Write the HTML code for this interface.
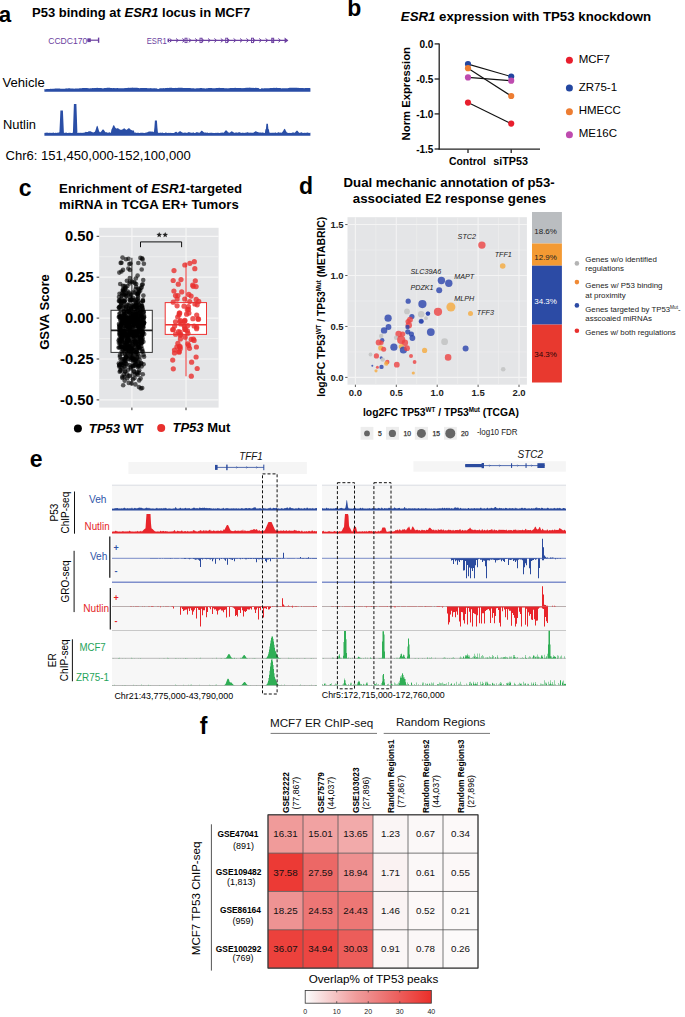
<!DOCTYPE html>
<html><head><meta charset="utf-8"><style>
html,body{margin:0;padding:0;background:#fff;}
svg{display:block;}
text{font-family:"Liberation Sans", sans-serif;}
</style></head><body>
<svg width="685" height="1017" viewBox="0 0 685 1017" font-family='"Liberation Sans", sans-serif'>
<rect width="685" height="1017" fill="#fff"/>
<text x="-1.20" y="21.50" font-size="22.3" font-weight="bold" >a</text>
<text x="32" y="17.45" font-size="13" font-weight="bold">P53 binding at <tspan font-style="italic">ESR1</tspan> locus in MCF7</text>
<text x="48.20" y="44.20" font-size="8.6" fill="#6b3fa0" textLength="39.20" lengthAdjust="spacingAndGlyphs" >CCDC170</text>
<rect x="87.40" y="38.30" width="3.40" height="3.80" fill="#6b3fa0" />
<line x1="87.40" y1="40.20" x2="98.90" y2="40.20" stroke="#6b3fa0" stroke-width="1.2" />
<line x1="98.60" y1="37.60" x2="98.60" y2="42.80" stroke="#6b3fa0" stroke-width="1.4" />
<text x="146.70" y="44.20" font-size="8.2" fill="#6b3fa0" textLength="20.00" lengthAdjust="spacingAndGlyphs" >ESR1</text>
<line x1="167.80" y1="40.40" x2="287.50" y2="40.40" stroke="#6b3fa0" stroke-width="1.1" />
<path d="M169.6,38.5 L171.9,40.4 L169.6,42.3" stroke="#6b3fa0" stroke-width="1" fill="none"/>
<path d="M176.0,38.5 L178.3,40.4 L176.0,42.3" stroke="#6b3fa0" stroke-width="1" fill="none"/>
<path d="M182.4,38.5 L184.7,40.4 L182.4,42.3" stroke="#6b3fa0" stroke-width="1" fill="none"/>
<path d="M188.8,38.5 L191.1,40.4 L188.8,42.3" stroke="#6b3fa0" stroke-width="1" fill="none"/>
<path d="M195.2,38.5 L197.5,40.4 L195.2,42.3" stroke="#6b3fa0" stroke-width="1" fill="none"/>
<path d="M201.6,38.5 L203.9,40.4 L201.6,42.3" stroke="#6b3fa0" stroke-width="1" fill="none"/>
<path d="M208.0,38.5 L210.3,40.4 L208.0,42.3" stroke="#6b3fa0" stroke-width="1" fill="none"/>
<path d="M214.4,38.5 L216.7,40.4 L214.4,42.3" stroke="#6b3fa0" stroke-width="1" fill="none"/>
<path d="M220.8,38.5 L223.1,40.4 L220.8,42.3" stroke="#6b3fa0" stroke-width="1" fill="none"/>
<path d="M227.2,38.5 L229.5,40.4 L227.2,42.3" stroke="#6b3fa0" stroke-width="1" fill="none"/>
<path d="M233.6,38.5 L235.9,40.4 L233.6,42.3" stroke="#6b3fa0" stroke-width="1" fill="none"/>
<path d="M240.0,38.5 L242.3,40.4 L240.0,42.3" stroke="#6b3fa0" stroke-width="1" fill="none"/>
<path d="M246.4,38.5 L248.7,40.4 L246.4,42.3" stroke="#6b3fa0" stroke-width="1" fill="none"/>
<path d="M252.8,38.5 L255.1,40.4 L252.8,42.3" stroke="#6b3fa0" stroke-width="1" fill="none"/>
<path d="M259.2,38.5 L261.5,40.4 L259.2,42.3" stroke="#6b3fa0" stroke-width="1" fill="none"/>
<path d="M265.6,38.5 L267.9,40.4 L265.6,42.3" stroke="#6b3fa0" stroke-width="1" fill="none"/>
<path d="M272.0,38.5 L274.3,40.4 L272.0,42.3" stroke="#6b3fa0" stroke-width="1" fill="none"/>
<path d="M278.4,38.5 L280.7,40.4 L278.4,42.3" stroke="#6b3fa0" stroke-width="1" fill="none"/>
<rect x="185.0" y="38.2" width="2.0" height="4.4" fill="none" stroke="#6b3fa0" stroke-width="0.9"/>
<rect x="200.0" y="38.2" width="2.0" height="4.4" fill="none" stroke="#6b3fa0" stroke-width="0.9"/>
<rect x="225.7" y="38.2" width="2.0" height="4.4" fill="none" stroke="#6b3fa0" stroke-width="0.9"/>
<rect x="251.5" y="38.2" width="2.0" height="4.4" fill="none" stroke="#6b3fa0" stroke-width="0.9"/>
<rect x="271.7" y="38.2" width="2.0" height="4.4" fill="none" stroke="#6b3fa0" stroke-width="0.9"/>
<path d="M284.6,37.6 L288.4,40.4 L284.6,43.2 Z" fill="#6b3fa0"/>
<rect x="167.60" y="38.60" width="1.40" height="3.60" fill="#6b3fa0" />
<text x="2.50" y="86.60" font-size="13" textLength="42.20" lengthAdjust="spacingAndGlyphs" >Vehicle</text>
<text x="3.00" y="129.20" font-size="13" textLength="33.00" lengthAdjust="spacingAndGlyphs" >Nutlin</text>
<text x="5.50" y="160.30" font-size="13" textLength="185.20" lengthAdjust="spacingAndGlyphs" >Chr6: 151,450,000-152,100,000</text>
<path d="M44.40,91.70 L44.40,89.06 L44.90,89.16 L45.40,89.16 L45.90,89.20 L46.40,89.01 L46.90,88.98 L47.40,89.10 L47.90,88.97 L48.40,89.02 L48.90,89.03 L49.40,89.02 L49.90,88.97 L50.40,88.86 L50.90,88.78 L51.40,88.74 L51.90,88.90 L52.40,88.82 L52.90,88.76 L53.40,88.76 L53.90,88.72 L54.40,88.63 L54.90,88.49 L55.40,88.52 L55.90,88.51 L56.40,88.49 L56.90,88.52 L57.40,88.52 L57.90,88.55 L58.40,88.54 L58.90,88.49 L59.40,88.43 L59.90,88.61 L60.40,88.65 L60.90,88.67 L61.40,88.74 L61.90,88.77 L62.40,88.67 L62.90,88.67 L63.40,88.76 L63.90,88.78 L64.40,88.78 L64.90,88.73 L65.40,88.52 L65.90,88.55 L66.40,88.43 L66.90,88.34 L67.40,88.39 L67.90,88.39 L68.40,88.32 L68.90,88.26 L69.40,88.30 L69.90,88.27 L70.40,88.47 L70.90,88.46 L71.40,88.43 L71.90,88.57 L72.40,88.55 L72.90,88.54 L73.40,88.52 L73.90,88.65 L74.40,88.68 L74.90,88.58 L75.40,88.52 L75.90,88.49 L76.40,88.55 L76.90,88.54 L77.40,88.48 L77.90,88.38 L78.40,88.38 L78.90,88.39 L79.40,88.33 L79.90,88.19 L80.40,88.22 L80.90,88.29 L81.40,88.26 L81.90,88.13 L82.40,88.09 L82.90,88.01 L83.40,88.02 L83.90,87.92 L84.40,87.98 L84.90,87.96 L85.40,88.08 L85.90,88.01 L86.40,88.07 L86.90,88.00 L87.40,88.11 L87.90,88.14 L88.40,88.15 L88.90,88.28 L89.40,88.40 L89.90,88.36 L90.40,88.25 L90.90,88.17 L91.40,88.23 L91.90,88.17 L92.40,88.12 L92.90,88.11 L93.40,88.08 L93.90,88.16 L94.40,88.08 L94.90,87.99 L95.40,87.96 L95.90,88.02 L96.40,87.92 L96.90,87.85 L97.40,87.75 L97.90,87.88 L98.40,87.88 L98.90,87.96 L99.40,87.89 L99.90,88.02 L100.40,87.95 L100.90,87.92 L101.40,88.00 L101.90,88.20 L102.40,88.32 L102.90,88.40 L103.40,88.26 L103.90,88.13 L104.40,88.10 L104.90,88.09 L105.40,87.96 L105.90,87.93 L106.40,87.94 L106.90,87.80 L107.40,87.80 L107.90,87.77 L108.40,87.82 L108.90,87.77 L109.40,87.84 L109.90,87.85 L110.40,87.92 L110.90,87.90 L111.40,88.03 L111.90,88.12 L112.40,88.17 L112.90,87.98 L113.40,87.98 L113.90,87.97 L114.40,88.12 L114.90,88.22 L115.40,88.18 L115.90,88.11 L116.40,88.13 L116.90,88.08 L117.40,88.02 L117.90,88.04 L118.40,88.26 L118.90,88.27 L119.40,88.23 L119.90,88.21 L120.40,88.16 L120.90,88.24 L121.40,88.30 L121.90,88.26 L122.40,88.30 L122.90,88.31 L123.40,88.27 L123.90,88.15 L124.40,88.04 L124.90,88.16 L125.40,88.07 L125.90,88.07 L126.40,88.02 L126.90,87.95 L127.40,87.94 L127.90,87.86 L128.40,87.84 L128.90,87.80 L129.40,87.85 L129.90,87.95 L130.40,87.79 L130.90,87.87 L131.40,87.73 L131.90,87.68 L132.40,87.61 L132.90,87.67 L133.40,87.74 L133.90,87.74 L134.40,87.79 L134.90,87.81 L135.40,87.78 L135.90,87.82 L136.40,87.71 L136.90,87.86 L137.40,87.86 L137.90,88.01 L138.40,88.06 L138.90,88.08 L139.40,88.15 L139.90,88.19 L140.40,88.10 L140.90,88.11 L141.40,88.07 L141.90,88.07 L142.40,88.02 L142.90,88.07 L143.40,88.05 L143.90,88.08 L144.40,88.00 L144.90,88.04 L145.40,88.01 L145.90,88.06 L146.40,88.01 L146.90,88.05 L147.40,88.18 L147.90,88.18 L148.40,88.22 L148.90,88.22 L149.40,88.13 L149.90,88.17 L150.40,88.09 L150.90,88.17 L151.40,88.18 L151.90,88.36 L152.40,88.36 L152.90,88.38 L153.40,88.34 L153.90,88.24 L154.40,88.34 L154.90,88.33 L155.40,88.33 L155.90,88.39 L156.40,88.37 L156.90,88.56 L157.40,88.86 L157.90,89.10 L158.40,88.93 L158.90,88.66 L159.40,88.55 L159.90,88.32 L160.40,88.27 L160.90,88.32 L161.40,88.30 L161.90,88.33 L162.40,88.34 L162.90,88.15 L163.40,88.12 L163.90,88.17 L164.40,88.22 L164.90,88.15 L165.40,88.06 L165.90,88.11 L166.40,88.04 L166.90,87.98 L167.40,87.98 L167.90,87.82 L168.40,87.95 L168.90,87.92 L169.40,87.85 L169.90,87.78 L170.40,87.84 L170.90,87.87 L171.40,87.86 L171.90,87.87 L172.40,87.95 L172.90,87.98 L173.40,88.08 L173.90,88.00 L174.40,87.99 L174.90,87.94 L175.40,87.93 L175.90,87.87 L176.40,87.92 L176.90,87.88 L177.40,87.89 L177.90,87.80 L178.40,87.69 L178.90,87.70 L179.40,87.78 L179.90,87.78 L180.40,87.74 L180.90,87.79 L181.40,87.80 L181.90,87.85 L182.40,87.82 L182.90,87.91 L183.40,87.93 L183.90,87.94 L184.40,87.99 L184.90,87.89 L185.40,87.90 L185.90,88.04 L186.40,88.01 L186.90,88.09 L187.40,88.12 L187.90,88.08 L188.40,88.03 L188.90,87.95 L189.40,88.02 L189.90,87.92 L190.40,88.00 L190.90,88.15 L191.40,88.15 L191.90,88.15 L192.40,88.13 L192.90,88.18 L193.40,88.26 L193.90,88.24 L194.40,88.44 L194.90,88.47 L195.40,88.48 L195.90,88.50 L196.40,88.33 L196.90,88.22 L197.40,88.22 L197.90,88.22 L198.40,88.22 L198.90,88.24 L199.40,88.16 L199.90,88.05 L200.40,87.98 L200.90,88.06 L201.40,88.01 L201.90,88.09 L202.40,88.19 L202.90,88.26 L203.40,88.29 L203.90,88.24 L204.40,88.30 L204.90,88.40 L205.40,88.38 L205.90,88.42 L206.40,88.23 L206.90,88.20 L207.40,88.21 L207.90,88.15 L208.40,88.06 L208.90,88.01 L209.40,87.92 L209.90,87.90 L210.40,88.02 L210.90,88.01 L211.40,88.04 L211.90,88.12 L212.40,88.20 L212.90,88.23 L213.40,88.19 L213.90,88.27 L214.40,88.22 L214.90,88.20 L215.40,88.15 L215.90,87.99 L216.40,88.03 L216.90,87.95 L217.40,88.07 L217.90,88.01 L218.40,87.91 L218.90,87.87 L219.40,87.83 L219.90,87.89 L220.40,87.93 L220.90,87.95 L221.40,87.93 L221.90,87.93 L222.40,87.92 L222.90,87.91 L223.40,87.95 L223.90,88.12 L224.40,88.29 L224.90,88.19 L225.40,88.18 L225.90,88.26 L226.40,88.30 L226.90,88.28 L227.40,88.28 L227.90,88.41 L228.40,88.34 L228.90,88.32 L229.40,88.14 L229.90,88.12 L230.40,88.11 L230.90,88.05 L231.40,88.02 L231.90,87.98 L232.40,88.03 L232.90,87.99 L233.40,87.94 L233.90,87.92 L234.40,87.90 L234.90,87.87 L235.40,87.79 L235.90,87.89 L236.40,88.02 L236.90,87.99 L237.40,87.92 L237.90,87.90 L238.40,87.92 L238.90,87.93 L239.40,88.01 L239.90,88.09 L240.40,88.09 L240.90,88.12 L241.40,88.15 L241.90,88.12 L242.40,88.14 L242.90,88.10 L243.40,88.09 L243.90,88.16 L244.40,88.05 L244.90,87.96 L245.40,87.85 L245.90,87.88 L246.40,87.83 L246.90,87.77 L247.40,87.66 L247.90,87.69 L248.40,87.69 L248.90,87.70 L249.40,87.55 L249.90,87.74 L250.40,87.78 L250.90,87.78 L251.40,87.84 L251.90,87.88 L252.40,87.87 L252.90,87.88 L253.40,87.87 L253.90,87.96 L254.40,87.91 L254.90,87.95 L255.40,87.84 L255.90,87.87 L256.40,87.91 L256.90,87.84 L257.40,87.92 L257.90,88.04 L258.40,88.12 L258.90,88.33 L259.40,88.67 L259.90,88.96 L260.40,88.89 L260.90,88.63 L261.40,88.34 L261.90,88.36 L262.40,88.37 L262.90,88.40 L263.40,88.39 L263.90,88.36 L264.40,88.33 L264.90,88.34 L265.40,88.37 L265.90,88.37 L266.40,88.31 L266.90,88.36 L267.40,88.20 L267.90,88.27 L268.40,88.21 L268.90,88.17 L269.40,88.14 L269.90,88.06 L270.40,87.95 L270.90,87.93 L271.40,87.96 L271.90,87.91 L272.40,87.93 L272.90,87.95 L273.40,87.87 L273.90,87.88 L274.40,87.86 L274.90,87.93 L275.40,87.88 L275.90,87.81 L276.40,87.82 L276.90,87.81 L277.40,87.98 L277.90,87.95 L278.40,87.99 L278.90,88.09 L279.40,88.01 L279.90,88.09 L280.40,88.10 L280.90,88.18 L281.40,88.39 L281.90,88.34 L282.40,88.28 L282.90,88.23 L283.40,88.32 L283.90,88.29 L284.40,88.23 L284.90,88.34 L285.40,88.27 L285.90,88.27 L286.40,88.28 L286.90,88.17 L287.40,88.19 L287.90,88.15 L288.40,88.00 L288.90,87.89 L289.40,87.86 L289.90,87.79 L290.40,87.69 L290.90,87.74 L291.40,87.68 L291.90,87.67 L292.40,87.63 L292.90,87.64 L293.40,87.71 L293.90,87.77 L294.40,87.71 L294.90,87.76 L295.40,87.85 L295.90,87.87 L296.40,87.83 L296.90,87.87 L297.40,87.87 L297.90,87.95 L298.40,87.85 L298.90,87.90 L299.40,87.91 L299.90,88.01 L300.40,87.99 L300.90,88.04 L301.40,88.09 L301.90,88.07 L302.40,88.05 L302.90,88.05 L303.40,88.09 L303.90,88.25 L304.40,88.20 L304.90,88.12 L305.40,88.09 L305.90,88.12 L306.40,88.03 L306.90,88.04 L307.40,88.06 L307.90,88.10 L308.40,88.10 L308.90,88.07 L309.40,88.02 L309.90,88.05 L310.40,88.13 L310.40,91.70Z" fill="#2a4ea6"/>
<path d="M44.40,135.80 L44.40,132.85 L44.90,132.97 L45.40,132.70 L45.90,132.79 L46.40,132.72 L46.90,132.48 L47.40,132.54 L47.90,132.95 L48.40,132.75 L48.90,132.89 L49.40,132.73 L49.90,132.84 L50.40,132.66 L50.90,132.94 L51.40,132.73 L51.90,132.93 L52.40,132.86 L52.90,132.85 L53.40,132.59 L53.90,132.66 L54.40,132.89 L54.90,132.95 L55.40,132.79 L55.90,132.67 L56.40,132.89 L56.90,132.71 L57.40,132.55 L57.90,132.91 L58.40,132.53 L58.90,132.38 L59.40,132.27 L59.90,121.94 L60.40,110.60 L60.90,110.60 L61.40,110.60 L61.90,110.60 L62.40,110.60 L62.90,110.60 L63.40,121.94 L63.90,132.80 L64.40,132.75 L64.90,132.94 L65.40,132.81 L65.90,132.46 L66.40,132.48 L66.90,132.91 L67.40,132.91 L67.90,132.94 L68.40,132.69 L68.90,132.98 L69.40,132.79 L69.90,132.85 L70.40,132.71 L70.90,132.95 L71.40,132.95 L71.90,132.96 L72.40,132.71 L72.90,132.80 L73.40,118.26 L73.90,103.90 L74.40,103.90 L74.90,103.90 L75.40,103.90 L75.90,103.90 L76.40,103.90 L76.90,118.26 L77.40,132.91 L77.90,132.97 L78.40,132.87 L78.90,132.80 L79.40,132.71 L79.90,132.99 L80.40,132.83 L80.90,132.81 L81.40,132.85 L81.90,132.98 L82.40,132.94 L82.90,132.61 L83.40,132.83 L83.90,132.65 L84.40,132.62 L84.90,132.61 L85.40,131.88 L85.90,131.79 L86.40,132.07 L86.90,131.97 L87.40,131.88 L87.90,132.08 L88.40,131.30 L88.90,131.38 L89.40,131.15 L89.90,131.14 L90.40,131.17 L90.90,131.47 L91.40,131.79 L91.90,131.96 L92.40,132.18 L92.90,132.13 L93.40,132.48 L93.90,132.27 L94.40,131.98 L94.90,131.66 L95.40,130.60 L95.90,129.06 L96.40,127.30 L96.90,126.12 L97.40,125.84 L97.90,127.04 L98.40,128.82 L98.90,130.52 L99.40,131.77 L99.90,132.20 L100.40,132.32 L100.90,131.76 L101.40,131.22 L101.90,130.39 L102.40,129.83 L102.90,129.52 L103.40,129.44 L103.90,130.09 L104.40,130.86 L104.90,131.47 L105.40,132.20 L105.90,132.27 L106.40,132.27 L106.90,132.35 L107.40,132.44 L107.90,132.95 L108.40,132.82 L108.90,132.29 L109.40,132.20 L109.90,132.39 L110.40,132.84 L110.90,132.67 L111.40,129.85 L111.90,128.80 L112.40,127.66 L112.90,126.24 L113.40,125.26 L113.90,125.18 L114.40,125.87 L114.90,126.96 L115.40,127.77 L115.90,128.19 L116.40,128.40 L116.90,128.40 L117.40,128.06 L117.90,128.43 L118.40,128.49 L118.90,128.86 L119.40,129.27 L119.90,129.45 L120.40,129.80 L120.90,129.86 L121.40,129.86 L121.90,129.77 L122.40,129.41 L122.90,129.10 L123.40,128.67 L123.90,128.48 L124.40,128.34 L124.90,128.78 L125.40,129.32 L125.90,129.62 L126.40,129.95 L126.90,129.62 L127.40,129.26 L127.90,128.83 L128.40,128.44 L128.90,127.98 L129.40,128.38 L129.90,128.85 L130.40,129.41 L130.90,129.76 L131.40,129.88 L131.90,130.14 L132.40,130.40 L132.90,130.47 L133.40,130.46 L133.90,130.40 L134.40,132.85 L134.90,132.60 L135.40,132.48 L135.90,132.82 L136.40,132.93 L136.90,132.82 L137.40,132.90 L137.90,132.62 L138.40,132.83 L138.90,132.90 L139.40,132.88 L139.90,132.90 L140.40,132.83 L140.90,132.81 L141.40,132.66 L141.90,132.63 L142.40,132.73 L142.90,132.66 L143.40,132.95 L143.90,132.87 L144.40,132.93 L144.90,132.91 L145.40,132.73 L145.90,132.62 L146.40,132.51 L146.90,132.47 L147.40,132.21 L147.90,132.07 L148.40,131.85 L148.90,131.58 L149.40,131.38 L149.90,131.43 L150.40,131.49 L150.90,131.52 L151.40,131.60 L151.90,131.71 L152.40,131.45 L152.90,131.77 L153.40,131.87 L153.90,132.28 L154.40,127.44 L154.90,120.60 L155.40,120.60 L155.90,120.60 L156.40,120.60 L156.90,120.60 L157.40,127.44 L157.90,132.54 L158.40,132.81 L158.90,132.93 L159.40,132.97 L159.90,132.47 L160.40,132.55 L160.90,132.91 L161.40,132.82 L161.90,132.75 L162.40,132.44 L162.90,132.83 L163.40,132.90 L163.90,132.93 L164.40,132.99 L164.90,132.99 L165.40,132.40 L165.90,132.45 L166.40,132.73 L166.90,132.87 L167.40,132.99 L167.90,132.93 L168.40,132.78 L168.90,132.88 L169.40,133.00 L169.90,132.66 L170.40,132.90 L170.90,132.83 L171.40,132.95 L171.90,132.91 L172.40,132.92 L172.90,132.92 L173.40,132.90 L173.90,133.00 L174.40,132.67 L174.90,132.27 L175.40,132.12 L175.90,131.83 L176.40,131.87 L176.90,132.27 L177.40,132.73 L177.90,132.65 L178.40,132.34 L178.90,131.77 L179.40,131.57 L179.90,131.24 L180.40,131.17 L180.90,131.51 L181.40,131.91 L181.90,132.26 L182.40,132.45 L182.90,132.80 L183.40,132.99 L183.90,132.59 L184.40,132.78 L184.90,132.48 L185.40,132.64 L185.90,132.58 L186.40,132.92 L186.90,132.86 L187.40,132.67 L187.90,132.42 L188.40,132.15 L188.90,131.97 L189.40,132.25 L189.90,132.54 L190.40,132.56 L190.90,132.67 L191.40,132.82 L191.90,132.70 L192.40,132.69 L192.90,132.42 L193.40,132.27 L193.90,132.67 L194.40,132.89 L194.90,132.88 L195.40,132.67 L195.90,132.75 L196.40,132.20 L196.90,132.08 L197.40,132.34 L197.90,132.45 L198.40,132.45 L198.90,132.82 L199.40,132.81 L199.90,132.38 L200.40,131.89 L200.90,131.14 L201.40,130.80 L201.90,130.68 L202.40,131.07 L202.90,131.56 L203.40,131.88 L203.90,132.27 L204.40,132.45 L204.90,132.80 L205.40,132.49 L205.90,132.62 L206.40,132.79 L206.90,132.83 L207.40,132.61 L207.90,132.85 L208.40,132.90 L208.90,132.90 L209.40,132.85 L209.90,132.93 L210.40,132.71 L210.90,132.77 L211.40,132.73 L211.90,132.67 L212.40,132.98 L212.90,132.70 L213.40,132.94 L213.90,132.99 L214.40,132.98 L214.90,132.95 L215.40,132.81 L215.90,132.95 L216.40,132.83 L216.90,132.95 L217.40,132.74 L217.90,132.87 L218.40,132.75 L218.90,132.95 L219.40,132.92 L219.90,132.89 L220.40,132.83 L220.90,132.75 L221.40,132.79 L221.90,132.49 L222.40,132.47 L222.90,132.71 L223.40,132.79 L223.90,132.53 L224.40,132.04 L224.90,131.20 L225.40,130.56 L225.90,130.42 L226.40,130.27 L226.90,130.88 L227.40,131.37 L227.90,132.18 L228.40,132.30 L228.90,132.86 L229.40,132.71 L229.90,132.42 L230.40,132.19 L230.90,131.72 L231.40,131.35 L231.90,131.38 L232.40,131.55 L232.90,131.95 L233.40,132.34 L233.90,132.42 L234.40,132.78 L234.90,132.95 L235.40,132.50 L235.90,132.40 L236.40,132.54 L236.90,132.51 L237.40,132.49 L237.90,132.94 L238.40,132.31 L238.90,132.21 L239.40,132.13 L239.90,132.31 L240.40,132.58 L240.90,132.91 L241.40,132.83 L241.90,132.92 L242.40,132.67 L242.90,132.56 L243.40,132.70 L243.90,132.90 L244.40,132.84 L244.90,132.99 L245.40,132.71 L245.90,132.42 L246.40,132.70 L246.90,132.30 L247.40,132.30 L247.90,132.30 L248.40,132.69 L248.90,132.38 L249.40,132.76 L249.90,132.76 L250.40,132.82 L250.90,132.60 L251.40,132.80 L251.90,132.84 L252.40,132.71 L252.90,132.66 L253.40,132.67 L253.90,132.33 L254.40,132.05 L254.90,131.76 L255.40,131.18 L255.90,131.36 L256.40,131.40 L256.90,131.66 L257.40,132.02 L257.90,132.04 L258.40,132.26 L258.90,132.41 L259.40,132.44 L259.90,132.49 L260.40,132.44 L260.90,132.58 L261.40,132.68 L261.90,132.56 L262.40,132.39 L262.90,132.60 L263.40,132.69 L263.90,132.67 L264.40,132.95 L264.90,132.91 L265.40,129.20 L265.90,129.20 L266.40,123.80 L266.90,123.80 L267.40,123.80 L267.90,123.80 L268.40,129.20 L268.90,129.20 L269.40,132.84 L269.90,132.61 L270.40,132.74 L270.90,132.91 L271.40,132.86 L271.90,132.82 L272.40,132.76 L272.90,132.67 L273.40,132.77 L273.90,132.83 L274.40,132.78 L274.90,132.73 L275.40,132.26 L275.90,132.73 L276.40,132.95 L276.90,132.72 L277.40,132.70 L277.90,132.42 L278.40,132.21 L278.90,132.30 L279.40,132.66 L279.90,132.62 L280.40,132.62 L280.90,132.75 L281.40,132.77 L281.90,132.47 L282.40,131.91 L282.90,131.34 L283.40,130.43 L283.90,129.39 L284.40,128.70 L284.90,128.96 L285.40,129.78 L285.90,131.02 L286.40,131.74 L286.90,132.47 L287.40,132.75 L287.90,132.81 L288.40,132.93 L288.90,132.91 L289.40,133.00 L289.90,132.86 L290.40,132.90 L290.90,132.94 L291.40,132.88 L291.90,132.66 L292.40,132.54 L292.90,132.41 L293.40,132.48 L293.90,132.62 L294.40,132.82 L294.90,132.69 L295.40,132.02 L295.90,131.45 L296.40,130.90 L296.90,130.46 L297.40,130.64 L297.90,131.35 L298.40,131.99 L298.90,132.51 L299.40,132.77 L299.90,132.89 L300.40,132.68 L300.90,132.32 L301.40,132.27 L301.90,132.44 L302.40,132.81 L302.90,132.91 L303.40,132.94 L303.90,132.87 L304.40,132.99 L304.90,132.59 L305.40,132.91 L305.90,132.81 L306.40,132.72 L306.90,132.74 L307.40,132.38 L307.90,132.50 L308.40,132.68 L308.90,132.93 L309.40,132.91 L309.90,132.76 L310.40,132.71 L310.40,135.80Z" fill="#2a4ea6"/>
<text x="347.30" y="15.80" font-size="23" font-weight="bold" >b</text>
<text x="400.8" y="21.0" font-size="13.26" font-weight="bold"><tspan font-style="italic">ESR1</tspan> expression with TP53 knockdown</text>
<line x1="439.20" y1="43.50" x2="439.20" y2="149.40" stroke="#222" stroke-width="1.3" />
<line x1="438.60" y1="149.10" x2="540.00" y2="149.10" stroke="#222" stroke-width="1.3" />
<line x1="434.60" y1="43.90" x2="439.20" y2="43.90" stroke="#222" stroke-width="1.3" />
<text x="433.40" y="47.50" font-size="10" font-weight="bold" text-anchor="end" >0.0</text>
<line x1="434.60" y1="79.00" x2="439.20" y2="79.00" stroke="#222" stroke-width="1.3" />
<text x="433.40" y="82.60" font-size="10" font-weight="bold" text-anchor="end" >-0.5</text>
<line x1="434.60" y1="113.90" x2="439.20" y2="113.90" stroke="#222" stroke-width="1.3" />
<text x="433.40" y="117.50" font-size="10" font-weight="bold" text-anchor="end" >-1.0</text>
<line x1="434.60" y1="149.00" x2="439.20" y2="149.00" stroke="#222" stroke-width="1.3" />
<text x="433.40" y="152.60" font-size="10" font-weight="bold" text-anchor="end" >-1.5</text>
<line x1="468.00" y1="149.20" x2="468.00" y2="153.00" stroke="#222" stroke-width="1.3" />
<line x1="511.20" y1="149.20" x2="511.20" y2="153.00" stroke="#222" stroke-width="1.3" />
<text x="410.30" y="93.70" font-size="11.3" font-weight="bold" text-anchor="middle" textLength="93.40" lengthAdjust="spacingAndGlyphs" transform="rotate(-90 410.30 93.70)" >Norm Expression</text>
<text x="448.90" y="164.90" font-size="10.5" font-weight="bold" textLength="37.10" lengthAdjust="spacingAndGlyphs" >Control</text>
<text x="493.20" y="164.90" font-size="10.5" font-weight="bold" textLength="34.80" lengthAdjust="spacingAndGlyphs" >siTP53</text>
<line x1="468.00" y1="64.10" x2="511.20" y2="76.60" stroke="#111" stroke-width="1.1" />
<line x1="468.00" y1="68.20" x2="511.20" y2="96.00" stroke="#111" stroke-width="1.1" />
<line x1="468.00" y1="77.40" x2="511.20" y2="80.70" stroke="#111" stroke-width="1.1" />
<line x1="468.00" y1="102.60" x2="511.20" y2="123.60" stroke="#111" stroke-width="1.1" />
<circle cx="468.00" cy="64.10" r="3.10" fill="#2346a0" />
<circle cx="511.20" cy="76.60" r="3.10" fill="#2346a0" />
<circle cx="468.00" cy="68.20" r="3.10" fill="#ed7d32" />
<circle cx="511.20" cy="96.00" r="3.10" fill="#ed7d32" />
<circle cx="468.00" cy="77.40" r="3.10" fill="#be4baf" />
<circle cx="511.20" cy="80.70" r="3.10" fill="#be4baf" />
<circle cx="468.00" cy="102.60" r="3.10" fill="#e81e2d" />
<circle cx="511.20" cy="123.60" r="3.10" fill="#e81e2d" />
<circle cx="569.40" cy="60.20" r="3.50" fill="#e81e2d" />
<text x="578.70" y="62.60" font-size="11.5" >MCF7</text>
<circle cx="569.40" cy="88.00" r="3.50" fill="#2346a0" />
<text x="578.70" y="90.70" font-size="11.5" >ZR75-1</text>
<circle cx="569.40" cy="111.70" r="3.50" fill="#ed7d32" />
<text x="578.70" y="114.00" font-size="11.5" >HMECC</text>
<circle cx="569.40" cy="134.80" r="3.50" fill="#be4baf" />
<text x="578.70" y="137.30" font-size="11.5" >ME16C</text>
<text x="18.80" y="196.30" font-size="23" font-weight="bold" >c</text>
<text x="59.1" y="193.3" font-size="13.18" font-weight="bold">Enrichment of <tspan font-style="italic">ESR1</tspan>-targeted</text>
<text x="59.1" y="208.8" font-size="13.16" font-weight="bold">miRNA in TCGA ER+ Tumors</text>
<rect x="99.20" y="227.80" width="119.40" height="179.80" fill="#e4e5e7" />
<line x1="99.20" y1="256.75" x2="218.60" y2="256.75" stroke="#f1f1f2" stroke-width="0.8" />
<line x1="99.20" y1="297.65" x2="218.60" y2="297.65" stroke="#f1f1f2" stroke-width="0.8" />
<line x1="99.20" y1="338.55" x2="218.60" y2="338.55" stroke="#f1f1f2" stroke-width="0.8" />
<line x1="99.20" y1="379.45" x2="218.60" y2="379.45" stroke="#f1f1f2" stroke-width="0.8" />
<line x1="99.20" y1="236.30" x2="218.60" y2="236.30" stroke="#f6f6f6" stroke-width="1.2" />
<line x1="99.20" y1="277.20" x2="218.60" y2="277.20" stroke="#f6f6f6" stroke-width="1.2" />
<line x1="99.20" y1="318.10" x2="218.60" y2="318.10" stroke="#f6f6f6" stroke-width="1.2" />
<line x1="99.20" y1="359.00" x2="218.60" y2="359.00" stroke="#f6f6f6" stroke-width="1.2" />
<line x1="99.20" y1="399.90" x2="218.60" y2="399.90" stroke="#f6f6f6" stroke-width="1.2" />
<line x1="131.90" y1="227.80" x2="131.90" y2="407.60" stroke="#f6f6f6" stroke-width="1.2" />
<line x1="186.00" y1="227.80" x2="186.00" y2="407.60" stroke="#f6f6f6" stroke-width="1.2" />
<line x1="96.60" y1="236.30" x2="99.20" y2="236.30" stroke="#333" stroke-width="1" />
<text x="93.60" y="241.40" font-size="14.7" font-weight="bold" text-anchor="end" >0.50</text>
<line x1="96.60" y1="277.20" x2="99.20" y2="277.20" stroke="#333" stroke-width="1" />
<text x="93.60" y="282.30" font-size="14.7" font-weight="bold" text-anchor="end" >0.25</text>
<line x1="96.60" y1="318.10" x2="99.20" y2="318.10" stroke="#333" stroke-width="1" />
<text x="93.60" y="323.20" font-size="14.7" font-weight="bold" text-anchor="end" >0.00</text>
<line x1="96.60" y1="359.00" x2="99.20" y2="359.00" stroke="#333" stroke-width="1" />
<text x="93.60" y="364.10" font-size="14.7" font-weight="bold" text-anchor="end" >-0.25</text>
<line x1="96.60" y1="399.90" x2="99.20" y2="399.90" stroke="#333" stroke-width="1" />
<text x="93.60" y="405.00" font-size="14.7" font-weight="bold" text-anchor="end" >-0.50</text>
<line x1="131.90" y1="407.60" x2="131.90" y2="410.20" stroke="#333" stroke-width="1" />
<line x1="186.00" y1="407.60" x2="186.00" y2="410.20" stroke="#333" stroke-width="1" />
<text x="49.20" y="312.00" font-size="13" font-weight="bold" text-anchor="middle" textLength="75.70" lengthAdjust="spacingAndGlyphs" transform="rotate(-90 49.20 312.00)" >GSVA Score</text>
<line x1="131.90" y1="257.80" x2="131.90" y2="385.50" stroke="#222" stroke-width="1" />
<rect x="111" y="310.3" width="41.3" height="42.1" fill="#fff" stroke="#333" stroke-width="1"/>
<line x1="111.00" y1="330.40" x2="152.30" y2="330.40" stroke="#222" stroke-width="1.6" />
<g fill="#000" fill-opacity="0.62"><circle cx="139.3" cy="329.6" r="2.3"/><circle cx="131.4" cy="299.2" r="2.3"/><circle cx="137.7" cy="302.3" r="2.3"/><circle cx="142.0" cy="342.1" r="2.3"/><circle cx="134.3" cy="337.2" r="2.3"/><circle cx="129.7" cy="342.4" r="2.3"/><circle cx="125.3" cy="317.3" r="2.3"/><circle cx="141.9" cy="331.7" r="2.3"/><circle cx="138.2" cy="313.3" r="2.3"/><circle cx="139.1" cy="372.7" r="2.3"/><circle cx="124.3" cy="294.5" r="2.3"/><circle cx="129.8" cy="332.6" r="2.3"/><circle cx="141.2" cy="314.8" r="2.3"/><circle cx="124.9" cy="333.5" r="2.3"/><circle cx="139.4" cy="339.1" r="2.3"/><circle cx="132.4" cy="319.8" r="2.3"/><circle cx="124.2" cy="311.5" r="2.3"/><circle cx="128.2" cy="335.0" r="2.3"/><circle cx="120.6" cy="333.9" r="2.3"/><circle cx="135.8" cy="314.7" r="2.3"/><circle cx="137.2" cy="350.3" r="2.3"/><circle cx="119.3" cy="365.1" r="2.3"/><circle cx="126.3" cy="321.3" r="2.3"/><circle cx="138.3" cy="345.7" r="2.3"/><circle cx="123.7" cy="374.4" r="2.3"/><circle cx="132.3" cy="349.0" r="2.3"/><circle cx="139.2" cy="341.1" r="2.3"/><circle cx="133.2" cy="357.7" r="2.3"/><circle cx="121.7" cy="364.6" r="2.3"/><circle cx="141.9" cy="329.5" r="2.3"/><circle cx="137.7" cy="309.8" r="2.3"/><circle cx="133.1" cy="335.7" r="2.3"/><circle cx="127.1" cy="347.4" r="2.3"/><circle cx="133.5" cy="321.6" r="2.3"/><circle cx="128.6" cy="313.9" r="2.3"/><circle cx="121.6" cy="337.2" r="2.3"/><circle cx="121.7" cy="317.9" r="2.3"/><circle cx="119.8" cy="306.5" r="2.3"/><circle cx="123.0" cy="335.1" r="2.3"/><circle cx="124.9" cy="349.0" r="2.3"/><circle cx="134.9" cy="322.4" r="2.3"/><circle cx="133.5" cy="324.7" r="2.3"/><circle cx="133.7" cy="305.2" r="2.3"/><circle cx="139.6" cy="359.8" r="2.3"/><circle cx="121.0" cy="345.5" r="2.3"/><circle cx="128.6" cy="349.6" r="2.3"/><circle cx="120.6" cy="370.1" r="2.3"/><circle cx="129.3" cy="327.5" r="2.3"/><circle cx="120.6" cy="318.3" r="2.3"/><circle cx="120.3" cy="347.3" r="2.3"/><circle cx="121.3" cy="298.6" r="2.3"/><circle cx="128.6" cy="311.5" r="2.3"/><circle cx="138.1" cy="316.0" r="2.3"/><circle cx="125.8" cy="321.2" r="2.3"/><circle cx="137.6" cy="308.5" r="2.3"/><circle cx="124.6" cy="360.9" r="2.3"/><circle cx="126.0" cy="316.3" r="2.3"/><circle cx="130.7" cy="316.6" r="2.3"/><circle cx="120.5" cy="370.9" r="2.3"/><circle cx="130.1" cy="322.4" r="2.3"/><circle cx="133.5" cy="336.1" r="2.3"/><circle cx="139.7" cy="312.5" r="2.3"/><circle cx="120.0" cy="340.4" r="2.3"/><circle cx="139.1" cy="330.8" r="2.3"/><circle cx="133.2" cy="322.5" r="2.3"/><circle cx="133.4" cy="350.4" r="2.3"/><circle cx="119.9" cy="316.7" r="2.3"/><circle cx="141.1" cy="332.8" r="2.3"/><circle cx="125.7" cy="319.1" r="2.3"/><circle cx="132.6" cy="342.3" r="2.3"/><circle cx="132.4" cy="305.5" r="2.3"/><circle cx="141.9" cy="316.5" r="2.3"/><circle cx="134.0" cy="334.4" r="2.3"/><circle cx="144.0" cy="315.9" r="2.3"/><circle cx="124.5" cy="301.5" r="2.3"/><circle cx="135.6" cy="289.3" r="2.3"/><circle cx="133.4" cy="366.4" r="2.3"/><circle cx="131.7" cy="310.1" r="2.3"/><circle cx="134.7" cy="319.7" r="2.3"/><circle cx="132.7" cy="332.5" r="2.3"/><circle cx="127.2" cy="353.4" r="2.3"/><circle cx="135.0" cy="301.6" r="2.3"/><circle cx="120.7" cy="359.3" r="2.3"/><circle cx="130.9" cy="317.4" r="2.3"/><circle cx="130.2" cy="300.6" r="2.3"/><circle cx="124.1" cy="367.0" r="2.3"/><circle cx="133.1" cy="337.3" r="2.3"/><circle cx="135.7" cy="360.4" r="2.3"/><circle cx="121.8" cy="324.8" r="2.3"/><circle cx="126.2" cy="295.7" r="2.3"/><circle cx="120.2" cy="284.0" r="2.3"/><circle cx="133.9" cy="371.1" r="2.3"/><circle cx="120.7" cy="343.5" r="2.3"/><circle cx="124.5" cy="314.3" r="2.3"/><circle cx="130.1" cy="294.2" r="2.3"/><circle cx="130.2" cy="320.7" r="2.3"/><circle cx="119.4" cy="347.5" r="2.3"/><circle cx="142.9" cy="323.6" r="2.3"/><circle cx="124.5" cy="330.8" r="2.3"/><circle cx="134.2" cy="335.0" r="2.3"/><circle cx="124.3" cy="347.2" r="2.3"/><circle cx="133.9" cy="321.5" r="2.3"/><circle cx="127.6" cy="323.3" r="2.3"/><circle cx="126.8" cy="332.5" r="2.3"/><circle cx="130.7" cy="335.4" r="2.3"/><circle cx="133.6" cy="359.8" r="2.3"/><circle cx="133.9" cy="341.5" r="2.3"/><circle cx="136.2" cy="302.7" r="2.3"/><circle cx="125.5" cy="334.7" r="2.3"/><circle cx="120.9" cy="363.3" r="2.3"/><circle cx="125.1" cy="299.8" r="2.3"/><circle cx="127.0" cy="318.2" r="2.3"/><circle cx="134.1" cy="282.1" r="2.3"/><circle cx="129.2" cy="328.9" r="2.3"/><circle cx="126.6" cy="340.9" r="2.3"/><circle cx="121.1" cy="363.5" r="2.3"/><circle cx="133.9" cy="300.0" r="2.3"/><circle cx="121.4" cy="271.5" r="2.3"/><circle cx="131.8" cy="349.2" r="2.3"/><circle cx="136.2" cy="345.2" r="2.3"/><circle cx="134.6" cy="316.7" r="2.3"/><circle cx="122.7" cy="349.4" r="2.3"/><circle cx="127.7" cy="336.6" r="2.3"/><circle cx="142.7" cy="338.4" r="2.3"/><circle cx="120.9" cy="326.0" r="2.3"/><circle cx="136.0" cy="305.3" r="2.3"/><circle cx="129.8" cy="329.9" r="2.3"/><circle cx="134.3" cy="309.3" r="2.3"/><circle cx="128.7" cy="340.0" r="2.3"/><circle cx="121.8" cy="322.9" r="2.3"/><circle cx="133.0" cy="379.3" r="2.3"/><circle cx="118.8" cy="363.6" r="2.3"/><circle cx="140.7" cy="312.1" r="2.3"/><circle cx="139.0" cy="343.9" r="2.3"/><circle cx="128.2" cy="317.1" r="2.3"/><circle cx="132.4" cy="317.9" r="2.3"/><circle cx="132.1" cy="300.1" r="2.3"/><circle cx="143.7" cy="311.8" r="2.3"/><circle cx="119.7" cy="307.1" r="2.3"/><circle cx="126.2" cy="332.9" r="2.3"/><circle cx="129.0" cy="346.4" r="2.3"/><circle cx="138.8" cy="347.1" r="2.3"/><circle cx="137.3" cy="341.5" r="2.3"/><circle cx="129.4" cy="356.2" r="2.3"/><circle cx="118.9" cy="342.9" r="2.3"/><circle cx="135.2" cy="332.5" r="2.3"/><circle cx="129.0" cy="324.6" r="2.3"/><circle cx="121.6" cy="338.1" r="2.3"/><circle cx="134.8" cy="374.4" r="2.3"/><circle cx="130.0" cy="332.0" r="2.3"/><circle cx="126.4" cy="325.2" r="2.3"/><circle cx="125.5" cy="305.5" r="2.3"/><circle cx="131.9" cy="317.1" r="2.3"/><circle cx="124.9" cy="345.1" r="2.3"/><circle cx="128.7" cy="346.9" r="2.3"/><circle cx="142.7" cy="284.3" r="2.3"/><circle cx="130.8" cy="313.0" r="2.3"/><circle cx="125.1" cy="288.4" r="2.3"/><circle cx="131.9" cy="281.6" r="2.3"/><circle cx="142.1" cy="349.1" r="2.3"/><circle cx="140.8" cy="321.5" r="2.3"/><circle cx="135.9" cy="319.9" r="2.3"/><circle cx="141.6" cy="317.6" r="2.3"/><circle cx="138.0" cy="318.0" r="2.3"/><circle cx="136.0" cy="325.7" r="2.3"/><circle cx="129.6" cy="326.4" r="2.3"/><circle cx="122.4" cy="364.8" r="2.3"/><circle cx="137.3" cy="334.2" r="2.3"/><circle cx="134.8" cy="347.5" r="2.3"/><circle cx="143.4" cy="327.5" r="2.3"/><circle cx="126.8" cy="341.1" r="2.3"/><circle cx="141.0" cy="316.2" r="2.3"/><circle cx="124.2" cy="311.6" r="2.3"/><circle cx="142.8" cy="323.3" r="2.3"/><circle cx="144.1" cy="323.1" r="2.3"/><circle cx="119.8" cy="328.2" r="2.3"/><circle cx="126.9" cy="340.6" r="2.3"/><circle cx="144.2" cy="334.1" r="2.3"/><circle cx="143.4" cy="341.7" r="2.3"/><circle cx="135.8" cy="321.5" r="2.3"/><circle cx="122.0" cy="330.0" r="2.3"/><circle cx="118.8" cy="317.1" r="2.3"/><circle cx="125.0" cy="360.8" r="2.3"/><circle cx="142.8" cy="310.0" r="2.3"/><circle cx="139.2" cy="347.8" r="2.3"/><circle cx="129.6" cy="347.2" r="2.3"/><circle cx="138.1" cy="334.9" r="2.3"/><circle cx="141.7" cy="343.3" r="2.3"/><circle cx="126.3" cy="323.7" r="2.3"/><circle cx="141.0" cy="343.5" r="2.3"/><circle cx="125.5" cy="354.9" r="2.3"/><circle cx="127.0" cy="349.7" r="2.3"/><circle cx="119.7" cy="300.3" r="2.3"/><circle cx="122.7" cy="329.4" r="2.3"/><circle cx="132.7" cy="357.1" r="2.3"/><circle cx="119.2" cy="330.2" r="2.3"/><circle cx="132.6" cy="366.0" r="2.3"/><circle cx="123.0" cy="289.4" r="2.3"/><circle cx="137.8" cy="365.3" r="2.3"/><circle cx="121.9" cy="319.4" r="2.3"/><circle cx="123.9" cy="317.9" r="2.3"/><circle cx="125.5" cy="363.6" r="2.3"/><circle cx="133.5" cy="323.5" r="2.3"/><circle cx="139.3" cy="307.5" r="2.3"/><circle cx="137.9" cy="319.7" r="2.3"/><circle cx="137.6" cy="324.4" r="2.3"/><circle cx="136.1" cy="308.6" r="2.3"/><circle cx="132.5" cy="326.7" r="2.3"/><circle cx="127.4" cy="322.7" r="2.3"/><circle cx="123.2" cy="333.3" r="2.3"/><circle cx="140.7" cy="315.9" r="2.3"/><circle cx="129.1" cy="351.9" r="2.3"/><circle cx="135.2" cy="312.2" r="2.3"/><circle cx="120.3" cy="341.9" r="2.3"/><circle cx="127.8" cy="355.4" r="2.3"/><circle cx="121.2" cy="322.0" r="2.3"/><circle cx="127.7" cy="291.6" r="2.3"/><circle cx="137.4" cy="308.3" r="2.3"/><circle cx="127.3" cy="342.2" r="2.3"/><circle cx="136.1" cy="314.4" r="2.3"/><circle cx="121.8" cy="340.8" r="2.3"/><circle cx="128.5" cy="333.2" r="2.3"/><circle cx="129.1" cy="328.3" r="2.3"/><circle cx="131.6" cy="383.4" r="2.3"/><circle cx="124.4" cy="326.0" r="2.3"/><circle cx="136.5" cy="354.0" r="2.3"/><circle cx="141.2" cy="346.3" r="2.3"/><circle cx="139.4" cy="364.1" r="2.3"/><circle cx="119.4" cy="365.1" r="2.3"/><circle cx="131.1" cy="352.0" r="2.3"/><circle cx="127.4" cy="311.5" r="2.3"/><circle cx="133.3" cy="292.2" r="2.3"/><circle cx="120.7" cy="330.9" r="2.3"/><circle cx="137.3" cy="305.4" r="2.3"/><circle cx="129.3" cy="336.4" r="2.3"/><circle cx="142.8" cy="374.2" r="2.3"/><circle cx="119.1" cy="326.9" r="2.3"/><circle cx="129.3" cy="320.2" r="2.3"/><circle cx="131.1" cy="340.2" r="2.3"/><circle cx="139.9" cy="323.4" r="2.3"/><circle cx="138.0" cy="317.3" r="2.3"/><circle cx="123.3" cy="350.1" r="2.3"/><circle cx="126.5" cy="364.2" r="2.3"/><circle cx="137.4" cy="335.4" r="2.3"/><circle cx="129.3" cy="335.2" r="2.3"/><circle cx="125.3" cy="338.4" r="2.3"/><circle cx="142.4" cy="307.8" r="2.3"/><circle cx="140.2" cy="290.8" r="2.3"/><circle cx="127.7" cy="339.9" r="2.3"/><circle cx="132.7" cy="314.4" r="2.3"/><circle cx="142.4" cy="308.8" r="2.3"/><circle cx="124.1" cy="314.0" r="2.3"/><circle cx="141.9" cy="306.4" r="2.3"/><circle cx="141.2" cy="339.3" r="2.3"/><circle cx="137.2" cy="313.4" r="2.3"/><circle cx="136.2" cy="284.0" r="2.3"/><circle cx="136.1" cy="312.0" r="2.3"/><circle cx="132.5" cy="344.6" r="2.3"/><circle cx="133.5" cy="316.5" r="2.3"/><circle cx="123.7" cy="301.5" r="2.3"/><circle cx="133.0" cy="321.9" r="2.3"/><circle cx="135.8" cy="343.3" r="2.3"/><circle cx="131.0" cy="295.0" r="2.3"/><circle cx="136.0" cy="359.0" r="2.3"/><circle cx="130.3" cy="318.8" r="2.3"/><circle cx="139.2" cy="330.7" r="2.3"/><circle cx="137.1" cy="357.7" r="2.3"/><circle cx="120.9" cy="302.4" r="2.3"/><circle cx="138.3" cy="322.4" r="2.3"/><circle cx="125.9" cy="357.1" r="2.3"/><circle cx="120.7" cy="316.6" r="2.3"/><circle cx="121.7" cy="340.3" r="2.3"/><circle cx="126.9" cy="374.0" r="2.3"/><circle cx="132.0" cy="346.1" r="2.3"/><circle cx="127.1" cy="324.3" r="2.3"/><circle cx="123.8" cy="315.8" r="2.3"/><circle cx="138.3" cy="326.6" r="2.3"/><circle cx="128.2" cy="329.3" r="2.3"/><circle cx="141.0" cy="319.6" r="2.3"/><circle cx="124.9" cy="335.2" r="2.3"/><circle cx="136.3" cy="303.4" r="2.3"/><circle cx="127.8" cy="327.0" r="2.3"/><circle cx="140.4" cy="323.6" r="2.3"/><circle cx="135.1" cy="318.0" r="2.3"/><circle cx="136.0" cy="354.6" r="2.3"/><circle cx="121.0" cy="346.6" r="2.3"/><circle cx="137.8" cy="295.4" r="2.3"/><circle cx="127.7" cy="322.7" r="2.3"/><circle cx="137.5" cy="336.8" r="2.3"/><circle cx="140.2" cy="322.5" r="2.3"/><circle cx="121.7" cy="341.4" r="2.3"/><circle cx="119.0" cy="324.0" r="2.3"/><circle cx="138.0" cy="345.6" r="2.3"/><circle cx="143.4" cy="324.0" r="2.3"/><circle cx="141.6" cy="366.5" r="2.3"/><circle cx="129.7" cy="299.9" r="2.3"/><circle cx="139.9" cy="342.1" r="2.3"/><circle cx="119.2" cy="366.6" r="2.3"/><circle cx="120.1" cy="335.5" r="2.3"/><circle cx="133.5" cy="338.9" r="2.3"/><circle cx="132.1" cy="326.9" r="2.3"/><circle cx="139.7" cy="356.6" r="2.3"/><circle cx="124.6" cy="321.3" r="2.3"/><circle cx="130.4" cy="359.7" r="2.3"/><circle cx="143.9" cy="322.6" r="2.3"/><circle cx="126.4" cy="337.5" r="2.3"/><circle cx="129.0" cy="326.0" r="2.3"/><circle cx="134.2" cy="371.9" r="2.3"/><circle cx="144.1" cy="356.7" r="2.3"/><circle cx="123.3" cy="319.8" r="2.3"/><circle cx="136.3" cy="331.2" r="2.3"/><circle cx="129.2" cy="292.9" r="2.3"/><circle cx="128.9" cy="346.5" r="2.3"/><circle cx="125.2" cy="326.4" r="2.3"/><circle cx="130.5" cy="263.6" r="2.3"/><circle cx="133.3" cy="347.9" r="2.3"/><circle cx="128.6" cy="351.1" r="2.3"/><circle cx="131.5" cy="331.2" r="2.3"/><circle cx="134.9" cy="331.4" r="2.3"/><circle cx="140.4" cy="311.0" r="2.3"/><circle cx="133.0" cy="327.4" r="2.3"/><circle cx="128.4" cy="347.7" r="2.3"/><circle cx="143.2" cy="325.5" r="2.3"/><circle cx="123.0" cy="269.9" r="2.3"/><circle cx="119.8" cy="301.2" r="2.3"/><circle cx="141.9" cy="333.6" r="2.3"/><circle cx="125.4" cy="350.4" r="2.3"/><circle cx="122.5" cy="316.1" r="2.3"/><circle cx="128.5" cy="334.3" r="2.3"/><circle cx="127.4" cy="286.1" r="2.3"/><circle cx="127.7" cy="309.0" r="2.3"/><circle cx="140.4" cy="310.0" r="2.3"/><circle cx="126.0" cy="326.1" r="2.3"/><circle cx="122.0" cy="331.3" r="2.3"/><circle cx="124.1" cy="322.6" r="2.3"/><circle cx="142.9" cy="300.7" r="2.3"/><circle cx="129.6" cy="318.1" r="2.3"/><circle cx="127.8" cy="338.4" r="2.3"/><circle cx="138.5" cy="301.2" r="2.3"/><circle cx="142.6" cy="326.0" r="2.3"/><circle cx="131.7" cy="332.1" r="2.3"/><circle cx="139.5" cy="348.5" r="2.3"/><circle cx="125.4" cy="343.3" r="2.3"/><circle cx="127.6" cy="344.9" r="2.3"/><circle cx="133.4" cy="307.1" r="2.3"/><circle cx="124.7" cy="317.4" r="2.3"/><circle cx="125.6" cy="335.3" r="2.3"/><circle cx="123.4" cy="306.4" r="2.3"/><circle cx="125.3" cy="320.3" r="2.3"/><circle cx="140.1" cy="321.9" r="2.3"/><circle cx="138.9" cy="387.1" r="2.3"/><circle cx="121.5" cy="335.7" r="2.3"/><circle cx="127.5" cy="318.2" r="2.3"/><circle cx="137.1" cy="293.5" r="2.3"/><circle cx="140.6" cy="288.2" r="2.3"/><circle cx="132.9" cy="297.7" r="2.3"/><circle cx="137.2" cy="357.0" r="2.3"/><circle cx="124.7" cy="380.7" r="2.3"/><circle cx="138.6" cy="317.3" r="2.3"/><circle cx="139.6" cy="329.7" r="2.3"/><circle cx="129.0" cy="308.3" r="2.3"/><circle cx="124.6" cy="333.3" r="2.3"/><circle cx="119.4" cy="325.3" r="2.3"/><circle cx="134.7" cy="364.7" r="2.3"/><circle cx="134.8" cy="320.1" r="2.3"/><circle cx="118.6" cy="340.6" r="2.3"/><circle cx="131.9" cy="322.4" r="2.3"/><circle cx="142.6" cy="319.8" r="2.3"/><circle cx="119.3" cy="333.1" r="2.3"/><circle cx="122.1" cy="323.1" r="2.3"/><circle cx="120.1" cy="330.7" r="2.3"/><circle cx="129.8" cy="313.0" r="2.3"/><circle cx="128.5" cy="318.9" r="2.3"/><circle cx="140.9" cy="342.9" r="2.3"/><circle cx="120.3" cy="343.8" r="2.3"/><circle cx="123.7" cy="290.4" r="2.3"/><circle cx="142.6" cy="332.7" r="2.3"/><circle cx="119.1" cy="307.7" r="2.3"/><circle cx="125.2" cy="321.4" r="2.3"/><circle cx="128.7" cy="343.3" r="2.3"/><circle cx="118.6" cy="347.5" r="2.3"/><circle cx="126.0" cy="327.6" r="2.3"/><circle cx="134.0" cy="324.5" r="2.3"/><circle cx="134.4" cy="316.3" r="2.3"/><circle cx="134.2" cy="359.4" r="2.3"/><circle cx="135.3" cy="344.0" r="2.3"/><circle cx="134.3" cy="332.5" r="2.3"/><circle cx="119.5" cy="293.7" r="2.3"/><circle cx="135.4" cy="384.4" r="2.3"/><circle cx="133.5" cy="320.3" r="2.3"/><circle cx="124.2" cy="342.7" r="2.3"/><circle cx="129.3" cy="320.5" r="2.3"/><circle cx="124.7" cy="341.6" r="2.3"/><circle cx="140.8" cy="322.0" r="2.3"/><circle cx="125.7" cy="294.5" r="2.3"/><circle cx="122.8" cy="322.3" r="2.3"/><circle cx="139.0" cy="320.4" r="2.3"/><circle cx="138.1" cy="321.8" r="2.3"/><circle cx="140.4" cy="347.6" r="2.3"/><circle cx="135.9" cy="317.9" r="2.3"/><circle cx="129.3" cy="335.1" r="2.3"/><circle cx="130.8" cy="349.0" r="2.3"/><circle cx="132.8" cy="331.3" r="2.3"/><circle cx="133.9" cy="335.6" r="2.3"/><circle cx="142.8" cy="313.1" r="2.3"/><circle cx="125.4" cy="331.4" r="2.3"/><circle cx="138.3" cy="342.5" r="2.3"/><circle cx="119.0" cy="297.0" r="2.3"/><circle cx="123.5" cy="307.7" r="2.3"/><circle cx="142.8" cy="301.3" r="2.3"/><circle cx="125.0" cy="316.5" r="2.3"/><circle cx="131.7" cy="332.9" r="2.3"/><circle cx="142.1" cy="340.0" r="2.3"/><circle cx="135.4" cy="336.8" r="2.3"/><circle cx="131.1" cy="308.7" r="2.3"/><circle cx="136.6" cy="327.8" r="2.3"/><circle cx="143.6" cy="364.3" r="2.3"/><circle cx="142.7" cy="331.3" r="2.3"/><circle cx="123.2" cy="362.8" r="2.3"/><circle cx="122.2" cy="326.6" r="2.3"/><circle cx="126.0" cy="357.9" r="2.3"/><circle cx="122.3" cy="359.3" r="2.3"/><circle cx="138.2" cy="327.7" r="2.3"/><circle cx="139.9" cy="332.2" r="2.3"/><circle cx="122.2" cy="368.4" r="2.3"/><circle cx="120.5" cy="313.2" r="2.3"/><circle cx="126.9" cy="280.8" r="2.3"/><circle cx="136.2" cy="364.3" r="2.3"/><circle cx="138.3" cy="288.7" r="2.3"/><circle cx="130.4" cy="346.1" r="2.3"/><circle cx="135.0" cy="341.7" r="2.3"/><circle cx="142.1" cy="334.5" r="2.3"/><circle cx="141.1" cy="363.5" r="2.3"/><circle cx="121.6" cy="300.6" r="2.3"/><circle cx="136.9" cy="319.1" r="2.3"/><circle cx="138.5" cy="347.6" r="2.3"/><circle cx="141.8" cy="336.7" r="2.3"/><circle cx="129.3" cy="365.1" r="2.3"/><circle cx="122.6" cy="338.3" r="2.3"/><circle cx="130.7" cy="308.9" r="2.3"/><circle cx="128.1" cy="369.7" r="2.3"/><circle cx="128.7" cy="340.4" r="2.3"/><circle cx="139.2" cy="327.0" r="2.3"/><circle cx="135.3" cy="306.4" r="2.3"/><circle cx="136.0" cy="299.5" r="2.3"/><circle cx="135.3" cy="340.8" r="2.3"/><circle cx="122.2" cy="347.3" r="2.3"/><circle cx="120.1" cy="320.1" r="2.3"/><circle cx="128.7" cy="338.7" r="2.3"/><circle cx="140.4" cy="337.5" r="2.3"/><circle cx="135.2" cy="305.6" r="2.3"/><circle cx="138.9" cy="291.7" r="2.3"/><circle cx="134.5" cy="324.3" r="2.3"/><circle cx="138.7" cy="334.8" r="2.3"/><circle cx="144.1" cy="317.3" r="2.3"/><circle cx="136.9" cy="373.6" r="2.3"/><circle cx="140.7" cy="330.8" r="2.3"/><circle cx="143.5" cy="354.7" r="2.3"/><circle cx="137.6" cy="275.6" r="2.3"/><circle cx="139.4" cy="313.9" r="2.3"/><circle cx="120.6" cy="327.1" r="2.3"/><circle cx="119.5" cy="334.8" r="2.3"/><circle cx="142.2" cy="388.0" r="2.3"/><circle cx="124.7" cy="314.0" r="2.3"/><circle cx="126.4" cy="293.1" r="2.3"/><circle cx="122.1" cy="347.1" r="2.3"/><circle cx="134.8" cy="314.7" r="2.3"/><circle cx="119.4" cy="313.8" r="2.3"/><circle cx="139.1" cy="365.8" r="2.3"/><circle cx="126.2" cy="308.9" r="2.3"/><circle cx="137.6" cy="299.3" r="2.3"/><circle cx="141.9" cy="325.1" r="2.3"/><circle cx="136.3" cy="331.8" r="2.3"/><circle cx="129.5" cy="312.3" r="2.3"/><circle cx="134.6" cy="365.7" r="2.3"/><circle cx="140.5" cy="328.2" r="2.3"/><circle cx="136.8" cy="306.2" r="2.3"/><circle cx="125.1" cy="358.8" r="2.3"/><circle cx="118.8" cy="307.6" r="2.3"/><circle cx="141.1" cy="339.9" r="2.3"/><circle cx="134.6" cy="378.0" r="2.3"/><circle cx="120.2" cy="332.8" r="2.3"/><circle cx="132.7" cy="352.6" r="2.3"/><circle cx="133.7" cy="323.1" r="2.3"/><circle cx="126.1" cy="357.2" r="2.3"/><circle cx="141.3" cy="306.3" r="2.3"/><circle cx="124.7" cy="347.3" r="2.3"/><circle cx="122.3" cy="322.2" r="2.3"/><circle cx="126.5" cy="344.0" r="2.3"/><circle cx="127.3" cy="337.8" r="2.3"/><circle cx="141.2" cy="303.1" r="2.3"/><circle cx="135.4" cy="325.4" r="2.3"/><circle cx="121.7" cy="339.4" r="2.3"/><circle cx="128.7" cy="359.0" r="2.3"/><circle cx="121.2" cy="303.8" r="2.3"/><circle cx="136.7" cy="313.6" r="2.3"/><circle cx="140.5" cy="337.8" r="2.3"/><circle cx="121.0" cy="324.8" r="2.3"/><circle cx="131.4" cy="354.0" r="2.3"/><circle cx="124.9" cy="353.6" r="2.3"/><circle cx="125.9" cy="349.3" r="2.3"/><circle cx="137.7" cy="322.3" r="2.3"/><circle cx="143.6" cy="323.6" r="2.3"/><circle cx="125.7" cy="347.4" r="2.3"/><circle cx="132.5" cy="313.5" r="2.3"/><circle cx="126.5" cy="312.4" r="2.3"/><circle cx="120.2" cy="326.4" r="2.3"/><circle cx="134.0" cy="306.6" r="2.3"/><circle cx="122.6" cy="337.0" r="2.3"/><circle cx="136.2" cy="333.0" r="2.3"/><circle cx="137.7" cy="319.5" r="2.3"/><circle cx="122.2" cy="331.1" r="2.3"/><circle cx="133.9" cy="312.2" r="2.3"/><circle cx="123.9" cy="359.1" r="2.3"/><circle cx="138.1" cy="297.7" r="2.3"/><circle cx="125.9" cy="348.3" r="2.3"/><circle cx="136.3" cy="334.1" r="2.3"/><circle cx="135.2" cy="361.9" r="2.3"/><circle cx="133.3" cy="316.6" r="2.3"/><circle cx="124.2" cy="301.2" r="2.3"/><circle cx="140.0" cy="305.8" r="2.3"/><circle cx="127.7" cy="311.3" r="2.3"/><circle cx="138.3" cy="366.0" r="2.3"/><circle cx="130.8" cy="348.3" r="2.3"/><circle cx="130.1" cy="341.0" r="2.3"/><circle cx="136.8" cy="351.8" r="2.3"/><circle cx="127.3" cy="304.7" r="2.3"/><circle cx="138.1" cy="326.1" r="2.3"/><circle cx="130.0" cy="330.9" r="2.3"/><circle cx="137.6" cy="319.2" r="2.3"/><circle cx="136.5" cy="352.2" r="2.3"/><circle cx="142.8" cy="351.2" r="2.3"/><circle cx="129.1" cy="350.6" r="2.3"/><circle cx="127.5" cy="319.0" r="2.3"/><circle cx="144.1" cy="322.5" r="2.3"/><circle cx="131.8" cy="317.1" r="2.3"/><circle cx="129.3" cy="305.7" r="2.3"/><circle cx="136.5" cy="361.5" r="2.3"/><circle cx="125.0" cy="343.2" r="2.3"/><circle cx="143.1" cy="327.0" r="2.3"/><circle cx="137.9" cy="361.3" r="2.3"/><circle cx="135.2" cy="342.6" r="2.3"/><circle cx="126.1" cy="307.1" r="2.3"/><circle cx="139.3" cy="305.1" r="2.3"/><circle cx="142.1" cy="305.7" r="2.3"/><circle cx="138.9" cy="329.4" r="2.3"/><circle cx="142.0" cy="335.2" r="2.3"/><circle cx="121.0" cy="305.6" r="2.3"/><circle cx="137.6" cy="338.9" r="2.3"/><circle cx="140.8" cy="322.6" r="2.3"/><circle cx="130.8" cy="300.0" r="2.3"/><circle cx="120.7" cy="338.8" r="2.3"/><circle cx="132.5" cy="344.4" r="2.3"/><circle cx="124.8" cy="330.6" r="2.3"/><circle cx="119.4" cy="316.7" r="2.3"/><circle cx="142.6" cy="319.3" r="2.3"/><circle cx="139.9" cy="326.8" r="2.3"/><circle cx="134.8" cy="317.6" r="2.3"/><circle cx="137.8" cy="367.0" r="2.3"/><circle cx="135.8" cy="350.1" r="2.3"/><circle cx="130.4" cy="326.6" r="2.3"/><circle cx="121.7" cy="351.6" r="2.3"/><circle cx="126.0" cy="361.1" r="2.3"/><circle cx="131.6" cy="358.0" r="2.3"/><circle cx="133.5" cy="351.4" r="2.3"/><circle cx="126.3" cy="334.5" r="2.3"/><circle cx="121.9" cy="353.8" r="2.3"/><circle cx="127.4" cy="325.0" r="2.3"/><circle cx="123.4" cy="291.5" r="2.3"/><circle cx="142.4" cy="333.8" r="2.3"/><circle cx="124.3" cy="301.2" r="2.3"/><circle cx="128.7" cy="323.8" r="2.3"/><circle cx="132.5" cy="356.0" r="2.3"/><circle cx="125.1" cy="336.2" r="2.3"/><circle cx="131.3" cy="352.9" r="2.3"/><circle cx="132.7" cy="312.8" r="2.3"/><circle cx="119.9" cy="356.8" r="2.3"/><circle cx="142.9" cy="300.1" r="2.3"/><circle cx="132.4" cy="317.1" r="2.3"/><circle cx="122.3" cy="376.7" r="2.3"/><circle cx="143.7" cy="312.4" r="2.3"/><circle cx="122.9" cy="294.8" r="2.3"/><circle cx="137.2" cy="348.5" r="2.3"/><circle cx="131.0" cy="307.8" r="2.3"/><circle cx="125.2" cy="371.6" r="2.3"/><circle cx="128.3" cy="324.6" r="2.3"/><circle cx="130.9" cy="368.4" r="2.3"/><circle cx="128.1" cy="319.3" r="2.3"/><circle cx="124.9" cy="371.3" r="2.3"/><circle cx="129.3" cy="321.3" r="2.3"/><circle cx="129.8" cy="278.0" r="2.3"/><circle cx="136.2" cy="344.0" r="2.3"/><circle cx="123.7" cy="311.4" r="2.3"/><circle cx="119.8" cy="327.8" r="2.3"/><circle cx="139.9" cy="337.8" r="2.3"/><circle cx="120.4" cy="316.3" r="2.3"/><circle cx="134.8" cy="292.8" r="2.3"/><circle cx="132.7" cy="358.7" r="2.3"/><circle cx="143.6" cy="317.5" r="2.3"/><circle cx="123.5" cy="322.5" r="2.3"/><circle cx="141.3" cy="363.0" r="2.3"/><circle cx="121.9" cy="293.4" r="2.3"/><circle cx="123.0" cy="285.7" r="2.3"/><circle cx="135.3" cy="352.2" r="2.3"/><circle cx="122.8" cy="290.6" r="2.3"/><circle cx="133.6" cy="329.1" r="2.3"/><circle cx="135.9" cy="334.1" r="2.3"/><circle cx="121.8" cy="295.9" r="2.3"/><circle cx="138.8" cy="325.2" r="2.3"/><circle cx="129.4" cy="323.0" r="2.3"/><circle cx="143.4" cy="295.6" r="2.3"/><circle cx="118.9" cy="300.9" r="2.3"/><circle cx="120.6" cy="309.9" r="2.3"/><circle cx="134.5" cy="362.4" r="2.3"/><circle cx="125.2" cy="366.4" r="2.3"/><circle cx="128.9" cy="304.6" r="2.3"/><circle cx="141.9" cy="351.6" r="2.3"/><circle cx="127.4" cy="327.0" r="2.3"/><circle cx="119.9" cy="355.0" r="2.3"/><circle cx="122.3" cy="334.6" r="2.3"/><circle cx="132.8" cy="359.7" r="2.3"/><circle cx="138.4" cy="293.0" r="2.3"/><circle cx="138.0" cy="353.7" r="2.3"/><circle cx="130.7" cy="333.2" r="2.3"/><circle cx="124.7" cy="334.7" r="2.3"/><circle cx="121.9" cy="302.7" r="2.3"/><circle cx="124.3" cy="362.9" r="2.3"/><circle cx="123.7" cy="331.1" r="2.3"/><circle cx="141.8" cy="335.2" r="2.3"/><circle cx="129.0" cy="318.2" r="2.3"/><circle cx="121.6" cy="319.6" r="2.3"/><circle cx="134.9" cy="341.0" r="2.3"/><circle cx="130.3" cy="324.9" r="2.3"/><circle cx="119.3" cy="339.0" r="2.3"/><circle cx="143.7" cy="319.6" r="2.3"/><circle cx="142.8" cy="332.7" r="2.3"/><circle cx="125.3" cy="345.4" r="2.3"/><circle cx="139.9" cy="331.0" r="2.3"/><circle cx="130.3" cy="322.0" r="2.3"/><circle cx="135.8" cy="278.5" r="2.3"/><circle cx="135.3" cy="341.6" r="2.3"/><circle cx="137.3" cy="323.3" r="2.3"/><circle cx="129.9" cy="296.9" r="2.3"/><circle cx="122.4" cy="378.0" r="2.3"/><circle cx="139.2" cy="370.3" r="2.3"/><circle cx="129.9" cy="357.6" r="2.3"/><circle cx="129.9" cy="281.8" r="2.3"/><circle cx="138.0" cy="293.9" r="2.3"/><circle cx="136.1" cy="286.9" r="2.3"/><circle cx="143.9" cy="263.8" r="2.3"/><circle cx="128.5" cy="258.7" r="2.3"/><circle cx="134.9" cy="283.2" r="2.3"/><circle cx="120.7" cy="262.9" r="2.3"/><circle cx="121.5" cy="262.7" r="2.3"/><circle cx="125.1" cy="289.5" r="2.3"/><circle cx="125.8" cy="287.3" r="2.3"/><circle cx="130.0" cy="270.0" r="2.3"/><circle cx="124.5" cy="286.0" r="2.3"/><circle cx="142.6" cy="259.4" r="2.3"/><circle cx="129.6" cy="283.5" r="2.3"/><circle cx="128.4" cy="268.6" r="2.3"/><circle cx="141.7" cy="269.5" r="2.3"/><circle cx="139.0" cy="289.7" r="2.3"/><circle cx="138.3" cy="263.0" r="2.3"/><circle cx="142.0" cy="285.0" r="2.3"/><circle cx="137.5" cy="294.0" r="2.3"/><circle cx="126.4" cy="296.4" r="2.3"/><circle cx="143.2" cy="280.0" r="2.3"/><circle cx="119.3" cy="272.6" r="2.3"/><circle cx="141.6" cy="287.4" r="2.3"/><circle cx="129.3" cy="264.0" r="2.3"/><circle cx="127.2" cy="378.3" r="2.3"/><circle cx="130.7" cy="366.9" r="2.3"/><circle cx="128.8" cy="382.9" r="2.3"/><circle cx="140.6" cy="378.4" r="2.3"/><circle cx="139.2" cy="380.4" r="2.3"/><circle cx="137.7" cy="374.8" r="2.3"/><circle cx="124.6" cy="376.7" r="2.3"/><circle cx="129.9" cy="375.8" r="2.3"/><circle cx="120.5" cy="366.8" r="2.3"/><circle cx="137.6" cy="372.2" r="2.3"/><circle cx="119.7" cy="371.7" r="2.3"/><circle cx="128.7" cy="375.9" r="2.3"/><circle cx="122.5" cy="257.6" r="2.3"/><circle cx="140.4" cy="257.9" r="2.3"/><circle cx="142.1" cy="258.4" r="2.3"/><circle cx="126.0" cy="259.2" r="2.3"/><circle cx="140.9" cy="388.4" r="2.3"/><circle cx="123.2" cy="385.2" r="2.3"/></g>
<line x1="186.00" y1="262.50" x2="186.00" y2="376.30" stroke="#e33" stroke-width="1" />
<rect x="165.2" y="302.6" width="41.3" height="31.8" fill="#fff" stroke="#e33" stroke-width="1"/>
<line x1="165.20" y1="324.80" x2="206.50" y2="324.80" stroke="#e33" stroke-width="1.6" />
<g fill="#e8302e" fill-opacity="0.8"><circle cx="191.2" cy="339.4" r="2.6"/><circle cx="179.1" cy="352.2" r="2.6"/><circle cx="184.2" cy="325.8" r="2.6"/><circle cx="188.6" cy="309.4" r="2.6"/><circle cx="181.7" cy="291.9" r="2.6"/><circle cx="177.7" cy="317.0" r="2.6"/><circle cx="188.0" cy="333.3" r="2.6"/><circle cx="193.4" cy="339.0" r="2.6"/><circle cx="198.7" cy="301.4" r="2.6"/><circle cx="181.0" cy="279.6" r="2.6"/><circle cx="179.3" cy="313.0" r="2.6"/><circle cx="174.5" cy="350.0" r="2.6"/><circle cx="177.9" cy="343.3" r="2.6"/><circle cx="173.2" cy="280.5" r="2.6"/><circle cx="179.1" cy="314.8" r="2.6"/><circle cx="191.6" cy="362.2" r="2.6"/><circle cx="175.5" cy="321.8" r="2.6"/><circle cx="189.5" cy="348.3" r="2.6"/><circle cx="180.3" cy="335.2" r="2.6"/><circle cx="178.5" cy="331.7" r="2.6"/><circle cx="185.2" cy="337.2" r="2.6"/><circle cx="184.0" cy="306.2" r="2.6"/><circle cx="184.3" cy="321.3" r="2.6"/><circle cx="175.6" cy="334.2" r="2.6"/><circle cx="187.3" cy="309.7" r="2.6"/><circle cx="196.2" cy="299.4" r="2.6"/><circle cx="172.7" cy="360.1" r="2.6"/><circle cx="174.6" cy="326.0" r="2.6"/><circle cx="187.9" cy="343.8" r="2.6"/><circle cx="180.9" cy="324.0" r="2.6"/><circle cx="179.1" cy="351.4" r="2.6"/><circle cx="198.5" cy="319.2" r="2.6"/><circle cx="180.6" cy="320.7" r="2.6"/><circle cx="196.7" cy="327.2" r="2.6"/><circle cx="188.7" cy="345.5" r="2.6"/><circle cx="173.3" cy="329.5" r="2.6"/><circle cx="179.5" cy="346.5" r="2.6"/><circle cx="174.5" cy="353.0" r="2.6"/><circle cx="186.6" cy="314.2" r="2.6"/><circle cx="196.4" cy="347.0" r="2.6"/><circle cx="173.9" cy="291.0" r="2.6"/><circle cx="173.2" cy="302.2" r="2.6"/><circle cx="173.3" cy="368.8" r="2.6"/><circle cx="179.7" cy="313.1" r="2.6"/><circle cx="176.9" cy="346.8" r="2.6"/><circle cx="198.0" cy="318.9" r="2.6"/><circle cx="192.9" cy="318.7" r="2.6"/><circle cx="197.2" cy="368.5" r="2.6"/><circle cx="187.8" cy="325.5" r="2.6"/><circle cx="194.1" cy="326.0" r="2.6"/><circle cx="191.1" cy="296.1" r="2.6"/><circle cx="180.2" cy="348.7" r="2.6"/><circle cx="189.7" cy="301.6" r="2.6"/><circle cx="180.1" cy="346.7" r="2.6"/><circle cx="184.7" cy="327.9" r="2.6"/><circle cx="194.1" cy="340.4" r="2.6"/><circle cx="178.3" cy="284.2" r="2.6"/><circle cx="177.1" cy="305.8" r="2.6"/><circle cx="194.9" cy="304.0" r="2.6"/><circle cx="184.7" cy="299.0" r="2.6"/><circle cx="177.1" cy="299.1" r="2.6"/><circle cx="180.9" cy="334.6" r="2.6"/><circle cx="179.9" cy="321.5" r="2.6"/><circle cx="196.1" cy="286.6" r="2.6"/><circle cx="184.9" cy="329.5" r="2.6"/><circle cx="196.7" cy="315.1" r="2.6"/><circle cx="184.9" cy="320.3" r="2.6"/><circle cx="197.2" cy="304.8" r="2.6"/><circle cx="196.6" cy="328.7" r="2.6"/><circle cx="187.4" cy="330.9" r="2.6"/><circle cx="193.2" cy="286.3" r="2.6"/><circle cx="180.1" cy="332.0" r="2.6"/><circle cx="175.5" cy="295.5" r="2.6"/><circle cx="188.4" cy="306.6" r="2.6"/><circle cx="174.0" cy="270.6" r="2.6"/><circle cx="184.8" cy="265.0" r="2.6"/><circle cx="188.8" cy="294.4" r="2.6"/><circle cx="192.7" cy="285.1" r="2.6"/><circle cx="196.1" cy="357.0" r="2.6"/><circle cx="177.9" cy="295.6" r="2.6"/><circle cx="195.3" cy="280.8" r="2.6"/><circle cx="185.6" cy="329.7" r="2.6"/><circle cx="188.9" cy="313.1" r="2.6"/><circle cx="184.7" cy="321.2" r="2.6"/><circle cx="194.8" cy="268.7" r="2.6"/><circle cx="180.4" cy="338.9" r="2.6"/><circle cx="172.7" cy="329.7" r="2.6"/><circle cx="194.3" cy="261.7" r="2.6"/><circle cx="189.9" cy="263.3" r="2.6"/><circle cx="191.3" cy="376.2" r="2.6"/></g>
<path d="M140.5,247.2 L140.5,241.9 L181.6,241.9 L181.6,247.2" stroke="#111" stroke-width="1" fill="none"/>
<polygon points="159.20,231.90 159.96,233.85 162.05,233.97 160.44,235.30 160.96,237.33 159.20,236.20 157.44,237.33 157.96,235.30 156.35,233.97 158.44,233.85" fill="#222"/>
<polygon points="165.20,231.90 165.96,233.85 168.05,233.97 166.44,235.30 166.96,237.33 165.20,236.20 163.44,237.33 163.96,235.30 162.35,233.97 164.44,233.85" fill="#222"/>
<circle cx="77.90" cy="428.60" r="4.00" fill="#000" />
<text x="88.8" y="432.8" font-size="13" font-weight="bold"><tspan font-style="italic">TP53</tspan> WT</text>
<circle cx="161.20" cy="428.00" r="4.00" fill="#e8302e" />
<text x="172.5" y="432.2" font-size="13" font-weight="bold"><tspan font-style="italic">TP53</tspan> Mut</text>
<text x="299.00" y="194.20" font-size="23" font-weight="bold" >d</text>
<text x="449.10" y="186.50" font-size="13.2" font-weight="bold" text-anchor="middle" >Dual mechanic annotation of p53-</text>
<text x="449.50" y="202.60" font-size="13.29" font-weight="bold" text-anchor="middle" >associated E2 response genes</text>
<rect x="347.50" y="217.20" width="179.40" height="167.50" fill="#e4e5e7" />
<line x1="347.50" y1="351.92" x2="526.90" y2="351.92" stroke="#ececed" stroke-width="0.8" />
<line x1="347.50" y1="300.97" x2="526.90" y2="300.97" stroke="#ececed" stroke-width="0.8" />
<line x1="347.50" y1="250.02" x2="526.90" y2="250.02" stroke="#ececed" stroke-width="0.8" />
<line x1="375.85" y1="217.20" x2="375.85" y2="384.70" stroke="#ececed" stroke-width="0.8" />
<line x1="416.75" y1="217.20" x2="416.75" y2="384.70" stroke="#ececed" stroke-width="0.8" />
<line x1="457.65" y1="217.20" x2="457.65" y2="384.70" stroke="#ececed" stroke-width="0.8" />
<line x1="498.55" y1="217.20" x2="498.55" y2="384.70" stroke="#ececed" stroke-width="0.8" />
<line x1="347.50" y1="377.40" x2="526.90" y2="377.40" stroke="#f4f4f4" stroke-width="1.1" />
<line x1="347.50" y1="326.45" x2="526.90" y2="326.45" stroke="#f4f4f4" stroke-width="1.1" />
<line x1="347.50" y1="275.50" x2="526.90" y2="275.50" stroke="#f4f4f4" stroke-width="1.1" />
<line x1="347.50" y1="224.55" x2="526.90" y2="224.55" stroke="#f4f4f4" stroke-width="1.1" />
<line x1="355.40" y1="217.20" x2="355.40" y2="384.70" stroke="#f4f4f4" stroke-width="1.1" />
<line x1="396.30" y1="217.20" x2="396.30" y2="384.70" stroke="#f4f4f4" stroke-width="1.1" />
<line x1="437.20" y1="217.20" x2="437.20" y2="384.70" stroke="#f4f4f4" stroke-width="1.1" />
<line x1="478.10" y1="217.20" x2="478.10" y2="384.70" stroke="#f4f4f4" stroke-width="1.1" />
<line x1="519.00" y1="217.20" x2="519.00" y2="384.70" stroke="#f4f4f4" stroke-width="1.1" />
<line x1="345.20" y1="377.40" x2="347.50" y2="377.40" stroke="#333" stroke-width="0.8" />
<text x="343.60" y="380.70" font-size="9.5" font-weight="bold" fill="#222" text-anchor="end" >0.0</text>
<line x1="345.20" y1="326.45" x2="347.50" y2="326.45" stroke="#333" stroke-width="0.8" />
<text x="343.60" y="329.75" font-size="9.5" font-weight="bold" fill="#222" text-anchor="end" >0.5</text>
<line x1="345.20" y1="275.50" x2="347.50" y2="275.50" stroke="#333" stroke-width="0.8" />
<text x="343.60" y="278.80" font-size="9.5" font-weight="bold" fill="#222" text-anchor="end" >1.0</text>
<line x1="345.20" y1="224.55" x2="347.50" y2="224.55" stroke="#333" stroke-width="0.8" />
<text x="343.60" y="227.85" font-size="9.5" font-weight="bold" fill="#222" text-anchor="end" >1.5</text>
<line x1="355.40" y1="384.70" x2="355.40" y2="387.00" stroke="#333" stroke-width="0.8" />
<text x="355.40" y="395.80" font-size="9.5" font-weight="bold" fill="#222" text-anchor="middle" >0.0</text>
<line x1="396.30" y1="384.70" x2="396.30" y2="387.00" stroke="#333" stroke-width="0.8" />
<text x="396.30" y="395.80" font-size="9.5" font-weight="bold" fill="#222" text-anchor="middle" >0.5</text>
<line x1="437.20" y1="384.70" x2="437.20" y2="387.00" stroke="#333" stroke-width="0.8" />
<text x="437.20" y="395.80" font-size="9.5" font-weight="bold" fill="#222" text-anchor="middle" >1.0</text>
<line x1="478.10" y1="384.70" x2="478.10" y2="387.00" stroke="#333" stroke-width="0.8" />
<text x="478.10" y="395.80" font-size="9.5" font-weight="bold" fill="#222" text-anchor="middle" >1.5</text>
<line x1="519.00" y1="384.70" x2="519.00" y2="387.00" stroke="#333" stroke-width="0.8" />
<text x="519.00" y="395.80" font-size="9.5" font-weight="bold" fill="#222" text-anchor="middle" >2.0</text>
<text x="363.0" y="416.1" font-size="10.4" font-weight="bold" textLength="155.9" lengthAdjust="spacingAndGlyphs">log2FC TP53<tspan font-size="6.3" dy="-4">WT</tspan><tspan dy="4"> / TP53</tspan><tspan font-size="6.3" dy="-4">Mut</tspan><tspan dy="4"> (TCGA)</tspan></text>
<text x="325.4" y="396.8" font-size="10.4" font-weight="bold" transform="rotate(-90 325.4 396.8)" textLength="180" lengthAdjust="spacingAndGlyphs">log2FC TP53<tspan font-size="6.3" dy="-4">WT</tspan><tspan dy="4"> / TP53</tspan><tspan font-size="6.3" dy="-4">Mut</tspan><tspan dy="4"> (METABRIC)</tspan></text>
<g fill-opacity="0.8"><circle cx="408.2" cy="301.2" r="2.6" fill="#2942ac"/><circle cx="422.4" cy="304.1" r="4.1" fill="#2942ac"/><circle cx="438" cy="311.8" r="4.1" fill="#ec4242"/><circle cx="427.9" cy="313.6" r="2.2" fill="#2942ac"/><circle cx="407" cy="311.4" r="2.9" fill="#bfc1c1"/><circle cx="421.2" cy="314.3" r="3.2" fill="#bfc1c1"/><circle cx="426" cy="318.2" r="1.9" fill="#bfc1c1"/><circle cx="388.1" cy="318.2" r="3.6" fill="#2942ac"/><circle cx="411.9" cy="316.5" r="2.6" fill="#2942ac"/><circle cx="410" cy="319.7" r="2.9" fill="#ec4242"/><circle cx="408.1" cy="321.6" r="2.6" fill="#ec4242"/><circle cx="421.2" cy="321.3" r="2.5" fill="#2942ac"/><circle cx="408.8" cy="325.3" r="3.2" fill="#ec4242"/><circle cx="407.5" cy="327" r="2.2" fill="#2942ac"/><circle cx="388.5" cy="327" r="2.9" fill="#2942ac"/><circle cx="384.1" cy="330.4" r="3.2" fill="#2942ac"/><circle cx="430.8" cy="332.1" r="3.9" fill="#2942ac"/><circle cx="407.8" cy="331.8" r="2.6" fill="#2942ac"/><circle cx="411.4" cy="334" r="2.6" fill="#2942ac"/><circle cx="412.4" cy="338" r="2.9" fill="#2942ac"/><circle cx="398.6" cy="334" r="3.2" fill="#ec4242"/><circle cx="402.7" cy="334" r="2.6" fill="#ec4242"/><circle cx="381.2" cy="335.9" r="2.2" fill="#bfc1c1"/><circle cx="396.1" cy="337.7" r="2.2" fill="#bfc1c1"/><circle cx="401.2" cy="339.9" r="4.1" fill="#ec4242"/><circle cx="404.9" cy="342.8" r="3.2" fill="#ec4242"/><circle cx="382.2" cy="340.3" r="2.2" fill="#2942ac"/><circle cx="378.6" cy="342.5" r="2.9" fill="#ec4242"/><circle cx="381.5" cy="342.8" r="2.2" fill="#ec4242"/><circle cx="380.8" cy="347.9" r="2.6" fill="#f5aa3d"/><circle cx="383.7" cy="349.3" r="2.5" fill="#ec4242"/><circle cx="393.9" cy="347.2" r="3.6" fill="#2942ac"/><circle cx="401.2" cy="346.4" r="2.5" fill="#f5aa3d"/><circle cx="403.4" cy="350" r="3.6" fill="#2942ac"/><circle cx="407" cy="348.2" r="2.9" fill="#ec4242"/><circle cx="424.6" cy="350.4" r="2.6" fill="#f5aa3d"/><circle cx="444.6" cy="341.7" r="3.4" fill="#bfc1c1"/><circle cx="370.5" cy="354.5" r="1.9" fill="#bfc1c1"/><circle cx="376.4" cy="355.9" r="2.6" fill="#ec4242"/><circle cx="381.2" cy="357.7" r="1.5" fill="#2942ac"/><circle cx="382.7" cy="359.6" r="2.2" fill="#bfc1c1"/><circle cx="411" cy="355.9" r="2.0" fill="#ec4242"/><circle cx="414.6" cy="362" r="1.9" fill="#ec4242"/><circle cx="387.3" cy="362" r="2.2" fill="#ec4242"/><circle cx="386.3" cy="363.5" r="2.2" fill="#f5aa3d"/><circle cx="396.8" cy="364.7" r="2.9" fill="#ec4242"/><circle cx="372.3" cy="365.8" r="1.0" fill="#2942ac"/><circle cx="377.4" cy="367.3" r="1.5" fill="#ec4242"/><circle cx="381.5" cy="366.9" r="2.2" fill="#2942ac"/><circle cx="376" cy="370.8" r="1.6" fill="#f5aa3d"/><circle cx="413.3" cy="373" r="1.6" fill="#f5aa3d"/><circle cx="481.9" cy="245.1" r="3.7" fill="#ec4242"/><circle cx="502.7" cy="266" r="2.8" fill="#f5aa3d"/><circle cx="441.4" cy="280.5" r="3.7" fill="#2942ac"/><circle cx="448.8" cy="283.2" r="3.7" fill="#2942ac"/><circle cx="439.2" cy="290.2" r="3.0" fill="#2942ac"/><circle cx="450.9" cy="307" r="4.5" fill="#f5aa3d"/><circle cx="470.5" cy="313.6" r="2.5" fill="#f5aa3d"/><circle cx="428" cy="313.6" r="2.1" fill="#2942ac"/><circle cx="465.6" cy="348.4" r="3.0" fill="#2942ac"/><circle cx="448.1" cy="357.4" r="3.3" fill="#ec4242"/><circle cx="503.2" cy="369.3" r="2.3" fill="#bfc1c1"/><circle cx="421.3" cy="321.5" r="2.1" fill="#2942ac"/></g>
<text x="457.60" y="238.90" font-size="7.2" font-style="italic" fill="#222" >STC2</text>
<text x="494.70" y="256.80" font-size="7.2" font-style="italic" fill="#222" >TFF1</text>
<text x="454.30" y="278.90" font-size="7.2" font-style="italic" fill="#222" >MAPT</text>
<text x="454.30" y="301.10" font-size="7.2" font-style="italic" fill="#222" >MLPH</text>
<text x="476.80" y="315.00" font-size="7.2" font-style="italic" fill="#222" >TFF3</text>
<text x="441.20" y="273.60" font-size="7.2" font-style="italic" fill="#222" text-anchor="end" >SLC39A6</text>
<text x="433.60" y="289.60" font-size="7.2" font-style="italic" fill="#222" text-anchor="end" >PDZK1</text>
<rect x="532.00" y="212.00" width="29.90" height="31.50" fill="#babdc0" />
<rect x="532.00" y="243.50" width="29.90" height="22.20" fill="#f39a33" />
<rect x="532.00" y="265.70" width="29.90" height="58.90" fill="#2c4ba5" />
<rect x="532.00" y="324.60" width="29.90" height="57.90" fill="#e8392f" />
<text x="545.60" y="233.80" font-size="8" fill="#222" text-anchor="middle" >18.6%</text>
<text x="545.60" y="260.10" font-size="8" fill="#222" text-anchor="middle" >12.9%</text>
<text x="545.60" y="303.80" font-size="8" fill="#fff" text-anchor="middle" >34.3%</text>
<text x="545.60" y="356.60" font-size="8" fill="#2a0505" text-anchor="middle" >34.3%</text>
<circle cx="576.90" cy="263.40" r="2.30" fill="#b4b4b4" />
<circle cx="576.90" cy="282.10" r="2.30" fill="#f08a35" />
<circle cx="576.90" cy="305.40" r="2.30" fill="#2c4ba5" />
<circle cx="576.90" cy="330.70" r="2.30" fill="#e8302e" />
<text x="585.30" y="261.80" font-size="7.9" fill="#222" >Genes w/o identified</text>
<text x="585.30" y="271.10" font-size="7.9" fill="#222" >regulations</text>
<text x="585.30" y="288.40" font-size="7.9" fill="#222" >Genes w/ P53 binding</text>
<text x="585.30" y="297.50" font-size="7.9" fill="#222" >at proximity</text>
<text x="585.3" y="312.0" font-size="7.8" fill="#222">Genes targeted by TP53<tspan font-size="4.8" dy="-2.8">Mut</tspan><tspan dy="2.8">-</tspan></text>
<text x="585.30" y="321.10" font-size="7.9" fill="#222" >asscoaied miRNAs</text>
<text x="585.30" y="334.60" font-size="7.6" fill="#222" textLength="90.40" lengthAdjust="spacingAndGlyphs" >Genes w/ both regulations</text>
<rect x="360.60" y="426.90" width="12.80" height="12.80" fill="#ededed" />
<circle cx="367.00" cy="433.40" r="2.90" fill="#666" />
<text x="377.90" y="436.10" font-size="6.8" fill="#333" stroke="#333" stroke-width="0.25">5</text>
<rect x="386.00" y="426.90" width="13.00" height="12.80" fill="#ededed" />
<circle cx="392.40" cy="433.40" r="3.60" fill="#666" />
<text x="403.40" y="436.10" font-size="6.8" fill="#333" stroke="#333" stroke-width="0.25">10</text>
<rect x="414.80" y="426.90" width="13.20" height="12.80" fill="#ededed" />
<circle cx="421.40" cy="433.40" r="4.50" fill="#666" />
<text x="432.40" y="436.10" font-size="6.8" fill="#333" stroke="#333" stroke-width="0.25">15</text>
<rect x="444.00" y="426.90" width="12.80" height="12.80" fill="#ededed" />
<circle cx="450.30" cy="433.40" r="5.00" fill="#666" />
<text x="460.90" y="436.10" font-size="6.8" fill="#333" stroke="#333" stroke-width="0.25">20</text>
<text x="476.90" y="434.60" font-size="8.2" fill="#222" textLength="40.70" lengthAdjust="spacingAndGlyphs" >-log10 FDR</text>
<text x="29.80" y="467.40" font-size="23" font-weight="bold" >e</text>
<rect x="128.40" y="462.00" width="178.50" height="12.00" fill="#f5f5f5" />
<rect x="413.40" y="461.20" width="152.50" height="10.50" fill="#f5f5f5" />
<rect x="112.00" y="485.00" width="205.00" height="200.80" fill="#f7f7f7" />
<line x1="112.00" y1="485.20" x2="317.00" y2="485.20" stroke="#d9dce2" stroke-width="1.0" />
<rect x="322.00" y="485.00" width="244.00" height="200.80" fill="#f7f7f7" />
<line x1="322.00" y1="485.20" x2="566.00" y2="485.20" stroke="#d9dce2" stroke-width="1.0" />
<text x="239.20" y="459.70" font-size="10" font-style="italic" fill="#111" textLength="23.40" lengthAdjust="spacingAndGlyphs" >TFF1</text>
<line x1="215.30" y1="467.40" x2="263.90" y2="467.40" stroke="#2b4b9e" stroke-width="0.8" />
<rect x="215.00" y="464.90" width="2.60" height="5.00" fill="#2b4b9e" />
<rect x="226.20" y="464.60" width="1.40" height="5.60" fill="#2b4b9e" />
<line x1="263.80" y1="464.60" x2="263.80" y2="470.20" stroke="#2b4b9e" stroke-width="1.0" />
<line x1="236.40" y1="466.30" x2="237.40" y2="467.40" stroke="#2b4b9e" stroke-width="0.6" />
<line x1="236.40" y1="468.50" x2="237.40" y2="467.40" stroke="#2b4b9e" stroke-width="0.6" />
<line x1="246.40" y1="466.30" x2="247.40" y2="467.40" stroke="#2b4b9e" stroke-width="0.6" />
<line x1="246.40" y1="468.50" x2="247.40" y2="467.40" stroke="#2b4b9e" stroke-width="0.6" />
<line x1="256.40" y1="466.30" x2="257.40" y2="467.40" stroke="#2b4b9e" stroke-width="0.6" />
<line x1="256.40" y1="468.50" x2="257.40" y2="467.40" stroke="#2b4b9e" stroke-width="0.6" />
<text x="517.50" y="457.50" font-size="10" font-style="italic" fill="#111" textLength="25.60" lengthAdjust="spacingAndGlyphs" >STC2</text>
<line x1="465.20" y1="465.60" x2="544.70" y2="465.60" stroke="#2b4b9e" stroke-width="0.8" />
<rect x="465.20" y="464.00" width="18.40" height="3.20" fill="#2b4b9e" />
<rect x="481.60" y="463.00" width="2.40" height="5.20" fill="#2b4b9e" />
<rect x="537.40" y="463.20" width="7.30" height="4.80" fill="#2b4b9e" />
<rect x="511.00" y="463.30" width="1.10" height="4.60" fill="#2b4b9e" />
<rect x="525.50" y="463.30" width="1.10" height="4.60" fill="#2b4b9e" />
<line x1="489.40" y1="464.60" x2="490.40" y2="465.60" stroke="#2b4b9e" stroke-width="0.6" />
<line x1="489.40" y1="466.60" x2="490.40" y2="465.60" stroke="#2b4b9e" stroke-width="0.6" />
<line x1="499.40" y1="464.60" x2="500.40" y2="465.60" stroke="#2b4b9e" stroke-width="0.6" />
<line x1="499.40" y1="466.60" x2="500.40" y2="465.60" stroke="#2b4b9e" stroke-width="0.6" />
<line x1="517.40" y1="464.60" x2="518.40" y2="465.60" stroke="#2b4b9e" stroke-width="0.6" />
<line x1="517.40" y1="466.60" x2="518.40" y2="465.60" stroke="#2b4b9e" stroke-width="0.6" />
<line x1="531.40" y1="464.60" x2="532.40" y2="465.60" stroke="#2b4b9e" stroke-width="0.6" />
<line x1="531.40" y1="466.60" x2="532.40" y2="465.60" stroke="#2b4b9e" stroke-width="0.6" />
<path d="M112.0,510.4 L112.0,508.66 L112.5,508.56 L113.0,508.67 L113.5,508.58 L114.0,508.68 L114.5,508.16 L115.0,508.31 L115.5,508.03 L116.0,508.55 L116.5,508.10 L117.0,508.09 L117.5,507.99 L118.0,508.32 L118.5,508.55 L119.0,508.51 L119.5,508.49 L120.0,508.18 L120.5,508.63 L121.0,508.27 L121.5,508.32 L122.0,508.41 L122.5,508.62 L123.0,508.28 L123.5,508.18 L124.0,507.75 L124.5,507.83 L125.0,507.81 L125.5,508.47 L126.0,508.36 L126.5,508.44 L127.0,508.49 L127.5,508.06 L128.0,508.28 L128.5,508.62 L129.0,508.37 L129.5,508.21 L130.0,508.39 L130.5,507.95 L131.0,508.64 L131.5,507.91 L132.0,507.40 L132.5,508.19 L133.0,508.69 L133.5,508.50 L134.0,508.34 L134.5,508.08 L135.0,507.72 L135.5,508.30 L136.0,508.35 L136.5,508.30 L137.0,508.43 L137.5,508.05 L138.0,508.18 L138.5,507.71 L139.0,507.82 L139.5,507.55 L140.0,507.85 L140.5,507.69 L141.0,507.71 L141.5,507.82 L142.0,508.00 L142.5,508.34 L143.0,508.26 L143.5,508.48 L144.0,508.41 L144.5,508.47 L145.0,508.28 L145.5,508.13 L146.0,507.85 L146.5,507.64 L147.0,507.43 L147.5,508.36 L148.0,507.94 L148.5,507.76 L149.0,508.70 L149.5,508.05 L150.0,507.77 L150.5,508.38 L151.0,508.63 L151.5,508.51 L152.0,508.26 L152.5,508.42 L153.0,508.46 L153.5,508.59 L154.0,508.38 L154.5,508.67 L155.0,508.50 L155.5,508.53 L156.0,508.51 L156.5,508.01 L157.0,507.68 L157.5,508.37 L158.0,508.63 L158.5,508.33 L159.0,508.47 L159.5,508.37 L160.0,508.17 L160.5,508.39 L161.0,508.34 L161.5,508.26 L162.0,508.36 L162.5,508.55 L163.0,508.60 L163.5,508.33 L164.0,507.86 L164.5,508.20 L165.0,508.54 L165.5,507.80 L166.0,508.03 L166.5,508.28 L167.0,508.68 L167.5,508.68 L168.0,508.47 L168.5,508.44 L169.0,508.48 L169.5,508.29 L170.0,508.69 L170.5,508.58 L171.0,508.52 L171.5,508.68 L172.0,508.63 L172.5,508.46 L173.0,508.69 L173.5,508.44 L174.0,507.99 L174.5,508.64 L175.0,507.91 L175.5,507.01 L176.0,507.61 L176.5,508.22 L177.0,508.59 L177.5,508.65 L178.0,508.49 L178.5,508.54 L179.0,508.66 L179.5,508.21 L180.0,507.67 L180.5,507.87 L181.0,508.29 L181.5,508.59 L182.0,508.48 L182.5,508.36 L183.0,508.48 L183.5,508.49 L184.0,508.29 L184.5,508.41 L185.0,507.85 L185.5,508.07 L186.0,507.78 L186.5,508.42 L187.0,508.42 L187.5,508.30 L188.0,508.36 L188.5,508.24 L189.0,508.26 L189.5,508.00 L190.0,508.54 L190.5,508.68 L191.0,508.66 L191.5,508.54 L192.0,508.62 L192.5,508.34 L193.0,507.91 L193.5,507.70 L194.0,507.57 L194.5,507.67 L195.0,508.20 L195.5,508.36 L196.0,508.31 L196.5,508.27 L197.0,508.07 L197.5,508.05 L198.0,508.64 L198.5,508.27 L199.0,508.29 L199.5,507.56 L200.0,507.57 L200.5,507.93 L201.0,508.03 L201.5,507.98 L202.0,507.95 L202.5,507.80 L203.0,507.81 L203.5,508.02 L204.0,507.78 L204.5,507.56 L205.0,507.89 L205.5,507.89 L206.0,508.23 L206.5,507.64 L207.0,508.20 L207.5,508.11 L208.0,508.28 L208.5,508.28 L209.0,508.07 L209.5,508.04 L210.0,508.20 L210.5,508.37 L211.0,508.35 L211.5,508.41 L212.0,508.17 L212.5,508.68 L213.0,508.45 L213.5,508.47 L214.0,508.04 L214.5,508.63 L215.0,508.68 L215.5,508.35 L216.0,508.44 L216.5,508.64 L217.0,508.29 L217.5,508.19 L218.0,508.05 L218.5,508.27 L219.0,508.65 L219.5,508.26 L220.0,508.45 L220.5,508.69 L221.0,508.63 L221.5,508.55 L222.0,508.52 L222.5,508.42 L223.0,507.99 L223.5,507.85 L224.0,508.57 L224.5,508.67 L225.0,508.39 L225.5,508.26 L226.0,508.53 L226.5,508.01 L227.0,508.18 L227.5,508.12 L228.0,508.46 L228.5,508.26 L229.0,508.43 L229.5,508.38 L230.0,508.58 L230.5,508.53 L231.0,508.59 L231.5,508.37 L232.0,508.53 L232.5,508.39 L233.0,508.26 L233.5,508.19 L234.0,508.45 L234.5,508.57 L235.0,508.37 L235.5,508.57 L236.0,508.54 L236.5,508.30 L237.0,508.19 L237.5,508.68 L238.0,508.38 L238.5,508.19 L239.0,508.38 L239.5,508.60 L240.0,508.64 L240.5,508.46 L241.0,508.43 L241.5,508.04 L242.0,508.32 L242.5,508.34 L243.0,508.51 L243.5,508.43 L244.0,508.70 L244.5,508.37 L245.0,508.43 L245.5,507.98 L246.0,507.98 L246.5,508.04 L247.0,508.31 L247.5,508.58 L248.0,508.29 L248.5,508.19 L249.0,507.93 L249.5,508.09 L250.0,508.16 L250.5,508.37 L251.0,508.39 L251.5,508.53 L252.0,508.18 L252.5,508.19 L253.0,507.93 L253.5,507.55 L254.0,507.78 L254.5,507.20 L255.0,507.20 L255.5,507.20 L256.0,508.13 L256.5,508.54 L257.0,508.61 L257.5,508.41 L258.0,508.15 L258.5,508.52 L259.0,508.61 L259.5,508.37 L260.0,508.07 L260.5,508.28 L261.0,508.59 L261.5,508.69 L262.0,508.28 L262.5,508.14 L263.0,508.53 L263.5,507.86 L264.0,508.42 L264.5,508.33 L265.0,508.50 L265.5,508.41 L266.0,508.29 L266.5,508.70 L267.0,508.64 L267.5,508.47 L268.0,508.44 L268.5,508.12 L269.0,508.52 L269.5,508.01 L270.0,507.84 L270.5,507.43 L271.0,508.41 L271.5,508.57 L272.0,508.41 L272.5,508.51 L273.0,508.10 L273.5,507.78 L274.0,508.02 L274.5,507.93 L275.0,508.32 L275.5,508.29 L276.0,507.67 L276.5,507.44 L277.0,508.32 L277.5,508.62 L278.0,508.55 L278.5,508.19 L279.0,508.64 L279.5,508.56 L280.0,508.68 L280.5,508.67 L281.0,508.34 L281.5,508.33 L282.0,508.04 L282.5,508.42 L283.0,508.67 L283.5,508.68 L284.0,508.30 L284.5,508.12 L285.0,508.54 L285.5,508.02 L286.0,508.05 L286.5,507.67 L287.0,507.66 L287.5,507.30 L288.0,508.07 L288.5,508.45 L289.0,508.21 L289.5,507.16 L290.0,507.50 L290.5,507.29 L291.0,508.04 L291.5,508.14 L292.0,508.11 L292.5,508.24 L293.0,508.14 L293.5,508.61 L294.0,508.48 L294.5,508.65 L295.0,508.57 L295.5,508.32 L296.0,508.44 L296.5,508.35 L297.0,508.46 L297.5,508.41 L298.0,508.24 L298.5,507.83 L299.0,507.86 L299.5,508.28 L300.0,508.51 L300.5,508.55 L301.0,508.26 L301.5,508.31 L302.0,508.43 L302.5,508.61 L303.0,508.65 L303.5,508.60 L304.0,508.11 L304.5,508.28 L305.0,507.78 L305.5,508.42 L306.0,508.68 L306.5,508.10 L307.0,507.61 L307.5,507.70 L308.0,508.05 L308.5,508.46 L309.0,508.64 L309.5,508.17 L310.0,508.09 L310.5,508.27 L311.0,508.68 L311.5,508.28 L312.0,508.48 L312.5,508.34 L313.0,507.80 L313.5,508.58 L314.0,508.67 L314.5,508.52 L315.0,508.20 L315.5,508.13 L316.0,507.91 L316.5,508.11 L317.0,508.25 L317.0,510.4Z" fill="#2b4b9e"/>
<path d="M322.0,510.4 L322.0,508.20 L322.5,508.21 L323.0,508.29 L323.5,508.69 L324.0,508.15 L324.5,508.46 L325.0,508.60 L325.5,508.67 L326.0,507.91 L326.5,507.58 L327.0,508.30 L327.5,508.39 L328.0,508.11 L328.5,508.34 L329.0,508.60 L329.5,508.64 L330.0,508.57 L330.5,508.49 L331.0,508.19 L331.5,508.52 L332.0,508.63 L332.5,508.38 L333.0,508.46 L333.5,508.39 L334.0,508.25 L334.5,508.63 L335.0,508.24 L335.5,507.97 L336.0,508.34 L336.5,507.86 L337.0,507.78 L337.5,507.33 L338.0,508.33 L338.5,508.65 L339.0,508.65 L339.5,508.29 L340.0,508.13 L340.5,508.07 L341.0,508.09 L341.5,507.73 L342.0,508.16 L342.5,508.15 L343.0,508.32 L343.5,508.39 L344.0,508.65 L344.5,508.46 L345.0,508.20 L345.5,507.45 L346.0,504.56 L346.5,500.20 L347.0,500.20 L347.5,503.47 L348.0,507.30 L348.5,508.04 L349.0,508.65 L349.5,508.19 L350.0,508.51 L350.5,508.57 L351.0,508.67 L351.5,508.38 L352.0,508.43 L352.5,508.66 L353.0,508.60 L353.5,508.35 L354.0,507.94 L354.5,507.73 L355.0,507.41 L355.5,507.95 L356.0,508.45 L356.5,508.41 L357.0,508.41 L357.5,508.54 L358.0,508.61 L358.5,508.53 L359.0,508.41 L359.5,508.58 L360.0,507.89 L360.5,507.82 L361.0,508.01 L361.5,508.53 L362.0,508.43 L362.5,507.81 L363.0,507.72 L363.5,508.39 L364.0,508.70 L364.5,508.19 L365.0,508.65 L365.5,508.25 L366.0,508.68 L366.5,508.46 L367.0,508.59 L367.5,508.24 L368.0,508.63 L368.5,508.47 L369.0,508.03 L369.5,508.28 L370.0,508.28 L370.5,508.47 L371.0,508.70 L371.5,508.48 L372.0,508.32 L372.5,507.96 L373.0,508.20 L373.5,508.20 L374.0,508.53 L374.5,508.28 L375.0,508.35 L375.5,508.49 L376.0,507.80 L376.5,508.66 L377.0,508.64 L377.5,508.32 L378.0,508.22 L378.5,508.09 L379.0,507.67 L379.5,508.41 L380.0,507.99 L380.5,508.64 L381.0,508.44 L381.5,507.40 L382.0,507.66 L382.5,508.13 L383.0,508.60 L383.5,508.69 L384.0,508.48 L384.5,508.06 L385.0,508.10 L385.5,508.16 L386.0,508.63 L386.5,508.18 L387.0,508.01 L387.5,508.58 L388.0,508.54 L388.5,507.77 L389.0,508.05 L389.5,507.66 L390.0,508.07 L390.5,508.23 L391.0,508.35 L391.5,508.23 L392.0,508.44 L392.5,508.50 L393.0,508.15 L393.5,508.40 L394.0,508.04 L394.5,507.33 L395.0,507.64 L395.5,508.31 L396.0,508.12 L396.5,508.61 L397.0,508.44 L397.5,508.20 L398.0,508.29 L398.5,507.89 L399.0,508.05 L399.5,507.85 L400.0,508.19 L400.5,508.63 L401.0,508.55 L401.5,508.46 L402.0,508.61 L402.5,508.49 L403.0,508.39 L403.5,508.55 L404.0,507.70 L404.5,507.02 L405.0,507.25 L405.5,508.57 L406.0,508.29 L406.5,508.14 L407.0,508.58 L407.5,508.67 L408.0,508.25 L408.5,508.32 L409.0,508.58 L409.5,508.34 L410.0,508.36 L410.5,508.55 L411.0,508.15 L411.5,508.48 L412.0,508.60 L412.5,508.26 L413.0,508.32 L413.5,508.55 L414.0,508.54 L414.5,508.03 L415.0,508.42 L415.5,508.34 L416.0,508.40 L416.5,508.62 L417.0,508.38 L417.5,508.49 L418.0,508.25 L418.5,507.93 L419.0,508.20 L419.5,508.49 L420.0,508.63 L420.5,508.48 L421.0,508.58 L421.5,508.28 L422.0,508.25 L422.5,508.54 L423.0,508.53 L423.5,508.37 L424.0,508.68 L424.5,508.56 L425.0,508.29 L425.5,508.11 L426.0,508.24 L426.5,508.17 L427.0,508.44 L427.5,508.54 L428.0,508.42 L428.5,508.42 L429.0,508.59 L429.5,508.24 L430.0,508.67 L430.5,508.67 L431.0,508.17 L431.5,508.61 L432.0,508.41 L432.5,508.64 L433.0,508.67 L433.5,508.36 L434.0,508.56 L434.5,508.59 L435.0,508.35 L435.5,508.44 L436.0,508.64 L436.5,508.55 L437.0,508.70 L437.5,508.36 L438.0,508.55 L438.5,508.37 L439.0,508.54 L439.5,508.13 L440.0,508.01 L440.5,508.42 L441.0,508.28 L441.5,508.46 L442.0,508.10 L442.5,507.44 L443.0,508.29 L443.5,508.55 L444.0,507.93 L444.5,507.87 L445.0,508.08 L445.5,508.46 L446.0,508.21 L446.5,507.91 L447.0,507.63 L447.5,508.03 L448.0,508.65 L448.5,507.97 L449.0,507.73 L449.5,507.91 L450.0,508.62 L450.5,508.66 L451.0,507.97 L451.5,508.19 L452.0,508.17 L452.5,508.46 L453.0,508.48 L453.5,508.61 L454.0,508.23 L454.5,507.58 L455.0,507.41 L455.5,507.13 L456.0,507.68 L456.5,507.77 L457.0,507.93 L457.5,507.49 L458.0,507.53 L458.5,507.77 L459.0,508.44 L459.5,508.64 L460.0,507.97 L460.5,507.81 L461.0,508.34 L461.5,508.55 L462.0,508.50 L462.5,508.49 L463.0,508.57 L463.5,508.60 L464.0,508.36 L464.5,508.43 L465.0,508.68 L465.5,508.32 L466.0,508.62 L466.5,508.64 L467.0,508.56 L467.5,508.63 L468.0,508.08 L468.5,508.02 L469.0,508.08 L469.5,508.70 L470.0,508.60 L470.5,508.46 L471.0,508.52 L471.5,508.15 L472.0,508.32 L472.5,508.43 L473.0,508.54 L473.5,508.50 L474.0,508.05 L474.5,508.13 L475.0,507.95 L475.5,508.59 L476.0,508.65 L476.5,508.10 L477.0,508.57 L477.5,508.22 L478.0,508.22 L478.5,508.49 L479.0,508.21 L479.5,508.45 L480.0,508.22 L480.5,507.72 L481.0,507.59 L481.5,508.24 L482.0,508.54 L482.5,508.42 L483.0,508.59 L483.5,508.47 L484.0,508.19 L484.5,508.08 L485.0,508.70 L485.5,508.51 L486.0,508.49 L486.5,508.55 L487.0,507.83 L487.5,507.86 L488.0,508.06 L488.5,508.63 L489.0,508.25 L489.5,508.16 L490.0,508.39 L490.5,508.16 L491.0,507.77 L491.5,507.75 L492.0,508.17 L492.5,507.92 L493.0,508.46 L493.5,508.36 L494.0,508.06 L494.5,507.54 L495.0,507.10 L495.5,506.98 L496.0,507.21 L496.5,507.98 L497.0,508.26 L497.5,508.25 L498.0,508.22 L498.5,508.58 L499.0,508.14 L499.5,507.80 L500.0,507.88 L500.5,508.19 L501.0,508.37 L501.5,508.06 L502.0,508.28 L502.5,508.60 L503.0,508.52 L503.5,508.35 L504.0,508.18 L504.5,508.67 L505.0,508.35 L505.5,507.78 L506.0,508.10 L506.5,508.12 L507.0,508.37 L507.5,508.54 L508.0,508.54 L508.5,508.53 L509.0,508.17 L509.5,508.27 L510.0,507.81 L510.5,508.39 L511.0,508.33 L511.5,508.42 L512.0,507.94 L512.5,508.25 L513.0,507.98 L513.5,508.61 L514.0,508.50 L514.5,508.64 L515.0,507.41 L515.5,507.99 L516.0,508.59 L516.5,507.91 L517.0,508.46 L517.5,508.57 L518.0,508.55 L518.5,508.69 L519.0,508.45 L519.5,508.32 L520.0,508.51 L520.5,508.50 L521.0,508.05 L521.5,507.94 L522.0,507.53 L522.5,507.88 L523.0,508.34 L523.5,508.58 L524.0,508.26 L524.5,508.07 L525.0,507.66 L525.5,508.35 L526.0,508.32 L526.5,508.66 L527.0,508.39 L527.5,508.43 L528.0,508.59 L528.5,508.42 L529.0,508.07 L529.5,508.60 L530.0,508.49 L530.5,508.68 L531.0,508.46 L531.5,508.06 L532.0,508.22 L532.5,508.58 L533.0,508.41 L533.5,508.16 L534.0,508.35 L534.5,508.45 L535.0,508.25 L535.5,507.84 L536.0,507.69 L536.5,507.49 L537.0,507.48 L537.5,507.96 L538.0,508.48 L538.5,508.05 L539.0,507.97 L539.5,507.88 L540.0,508.22 L540.5,508.69 L541.0,507.92 L541.5,507.63 L542.0,507.73 L542.5,508.08 L543.0,508.12 L543.5,508.44 L544.0,508.68 L544.5,508.16 L545.0,508.22 L545.5,508.50 L546.0,508.58 L546.5,508.44 L547.0,507.97 L547.5,507.79 L548.0,507.68 L548.5,508.24 L549.0,508.21 L549.5,508.69 L550.0,508.54 L550.5,508.50 L551.0,507.93 L551.5,508.55 L552.0,508.57 L552.5,508.68 L553.0,508.06 L553.5,508.42 L554.0,508.33 L554.5,507.76 L555.0,508.28 L555.5,508.62 L556.0,508.37 L556.5,508.41 L557.0,508.18 L557.5,507.65 L558.0,508.44 L558.5,508.10 L559.0,508.39 L559.5,507.75 L560.0,508.01 L560.5,508.33 L561.0,508.62 L561.5,508.65 L562.0,508.69 L562.5,508.52 L563.0,508.07 L563.5,507.95 L564.0,508.07 L564.5,508.22 L565.0,508.35 L565.5,508.69 L566.0,508.47 L566.0,510.4Z" fill="#2b4b9e"/>
<path d="M112.0,533.6 L112.0,531.64 L112.5,531.54 L113.0,531.68 L113.5,531.36 L114.0,531.51 L114.5,531.46 L115.0,531.14 L115.5,530.84 L116.0,530.70 L116.5,531.32 L117.0,531.15 L117.5,531.43 L118.0,531.29 L118.5,531.64 L119.0,531.40 L119.5,531.51 L120.0,531.48 L120.5,531.54 L121.0,531.68 L121.5,531.44 L122.0,531.44 L122.5,531.25 L123.0,531.10 L123.5,531.25 L124.0,531.64 L124.5,531.56 L125.0,531.22 L125.5,531.50 L126.0,531.54 L126.5,531.24 L127.0,531.68 L127.5,531.19 L128.0,531.26 L128.5,531.61 L129.0,531.16 L129.5,530.75 L130.0,530.83 L130.5,531.47 L131.0,531.35 L131.5,531.44 L132.0,531.65 L132.5,531.22 L133.0,531.66 L133.5,531.42 L134.0,531.62 L134.5,531.66 L135.0,531.21 L135.5,531.55 L136.0,531.43 L136.5,531.45 L137.0,531.13 L137.5,530.86 L138.0,531.46 L138.5,531.62 L139.0,531.36 L139.5,531.39 L140.0,531.30 L140.5,531.37 L141.0,530.49 L141.5,531.38 L142.0,531.38 L142.5,530.93 L143.0,530.47 L143.5,530.02 L144.0,529.56 L144.5,529.11 L145.0,528.65 L145.5,528.20 L146.0,520.79 L146.5,513.90 L147.0,513.90 L147.5,513.90 L148.0,513.90 L148.5,513.90 L149.0,513.90 L149.5,513.90 L150.0,513.90 L150.5,513.90 L151.0,523.55 L151.5,528.20 L152.0,528.65 L152.5,529.11 L153.0,529.56 L153.5,530.02 L154.0,530.47 L154.5,530.93 L155.0,531.17 L155.5,531.47 L156.0,531.49 L156.5,531.48 L157.0,531.68 L157.5,531.34 L158.0,531.60 L158.5,531.48 L159.0,531.61 L159.5,531.64 L160.0,531.28 L160.5,530.77 L161.0,530.77 L161.5,531.38 L162.0,531.32 L162.5,531.15 L163.0,530.82 L163.5,530.91 L164.0,530.92 L164.5,531.54 L165.0,531.59 L165.5,531.07 L166.0,531.12 L166.5,531.26 L167.0,531.68 L167.5,531.21 L168.0,531.22 L168.5,531.64 L169.0,531.65 L169.5,531.66 L170.0,531.06 L170.5,531.64 L171.0,531.62 L171.5,531.38 L172.0,531.19 L172.5,531.40 L173.0,531.17 L173.5,531.24 L174.0,530.41 L174.5,530.09 L175.0,530.40 L175.5,531.43 L176.0,531.42 L176.5,531.41 L177.0,531.20 L177.5,530.48 L178.0,530.90 L178.5,531.22 L179.0,530.68 L179.5,531.35 L180.0,531.43 L180.5,531.14 L181.0,530.89 L181.5,530.50 L182.0,530.57 L182.5,530.92 L183.0,531.64 L183.5,531.58 L184.0,531.20 L184.5,531.19 L185.0,530.95 L185.5,531.09 L186.0,531.47 L186.5,531.60 L187.0,531.44 L187.5,530.82 L188.0,531.30 L188.5,531.46 L189.0,531.27 L189.5,531.52 L190.0,531.38 L190.5,531.24 L191.0,531.25 L191.5,531.19 L192.0,531.14 L192.5,531.41 L193.0,530.27 L193.5,530.02 L194.0,530.70 L194.5,530.60 L195.0,530.40 L195.5,531.14 L196.0,531.20 L196.5,531.33 L197.0,531.70 L197.5,531.56 L198.0,531.30 L198.5,530.76 L199.0,531.39 L199.5,530.55 L200.0,530.64 L200.5,530.12 L201.0,530.15 L201.5,530.77 L202.0,531.38 L202.5,530.95 L203.0,530.57 L203.5,530.52 L204.0,530.12 L204.5,530.63 L205.0,531.41 L205.5,530.42 L206.0,529.94 L206.5,531.01 L207.0,530.28 L207.5,530.91 L208.0,531.33 L208.5,530.38 L209.0,530.21 L209.5,529.95 L210.0,529.41 L210.5,530.20 L211.0,531.41 L211.5,530.46 L212.0,530.80 L212.5,531.13 L213.0,530.63 L213.5,529.98 L214.0,531.30 L214.5,530.71 L215.0,530.56 L215.5,531.49 L216.0,530.57 L216.5,530.97 L217.0,530.70 L217.5,530.70 L218.0,530.49 L218.5,530.70 L219.0,530.67 L219.5,531.02 L220.0,531.03 L220.5,530.15 L221.0,530.40 L221.5,530.86 L222.0,530.39 L222.5,530.96 L223.0,530.64 L223.5,529.35 L224.0,529.72 L224.5,529.84 L225.0,528.78 L225.5,527.73 L226.0,526.68 L226.5,525.63 L227.0,525.00 L227.5,525.00 L228.0,525.00 L228.5,526.05 L229.0,527.10 L229.5,528.15 L230.0,529.21 L230.5,530.26 L231.0,530.70 L231.5,530.64 L232.0,531.32 L232.5,530.93 L233.0,530.93 L233.5,531.30 L234.0,530.75 L234.5,530.46 L235.0,531.22 L235.5,529.95 L236.0,530.81 L236.5,531.06 L237.0,530.64 L237.5,530.85 L238.0,530.82 L238.5,530.71 L239.0,530.47 L239.5,531.35 L240.0,530.56 L240.5,530.65 L241.0,530.99 L241.5,530.04 L242.0,531.03 L242.5,530.39 L243.0,529.37 L243.5,530.77 L244.0,531.43 L244.5,530.15 L245.0,530.61 L245.5,530.75 L246.0,530.75 L246.5,530.99 L247.0,531.13 L247.5,530.68 L248.0,530.72 L248.5,531.08 L249.0,530.66 L249.5,530.71 L250.0,530.85 L250.5,529.81 L251.0,530.51 L251.5,529.80 L252.0,529.63 L252.5,529.78 L253.0,530.25 L253.5,529.01 L254.0,528.90 L254.5,529.38 L255.0,529.11 L255.5,530.02 L256.0,529.67 L256.5,529.07 L257.0,529.35 L257.5,530.43 L258.0,530.31 L258.5,530.78 L259.0,530.69 L259.5,529.74 L260.0,530.97 L260.5,531.21 L261.0,530.77 L261.5,530.92 L262.0,531.35 L262.5,530.77 L263.0,530.75 L263.5,531.29 L264.0,530.18 L264.5,530.79 L265.0,529.84 L265.5,528.72 L266.0,527.60 L266.5,526.48 L267.0,525.36 L267.5,524.24 L268.0,523.12 L268.5,522.00 L269.0,522.00 L269.5,522.00 L270.0,522.00 L270.5,522.00 L271.0,522.00 L271.5,522.00 L272.0,523.12 L272.5,524.24 L273.0,525.36 L273.5,526.48 L274.0,527.60 L274.5,528.72 L275.0,529.84 L275.5,530.70 L276.0,529.52 L276.5,530.57 L277.0,531.27 L277.5,530.09 L278.0,530.99 L278.5,530.85 L279.0,530.50 L279.5,531.26 L280.0,530.59 L280.5,530.60 L281.0,531.09 L281.5,530.81 L282.0,530.31 L282.5,531.09 L283.0,530.89 L283.5,530.06 L284.0,530.59 L284.5,530.94 L285.0,530.79 L285.5,530.83 L286.0,530.73 L286.5,530.11 L287.0,530.85 L287.5,531.16 L288.0,530.54 L288.5,530.86 L289.0,531.10 L289.5,530.20 L290.0,530.58 L290.5,531.08 L291.0,530.52 L291.5,530.63 L292.0,530.94 L292.5,530.58 L293.0,531.31 L293.5,530.85 L294.0,529.81 L294.5,530.04 L295.0,530.49 L295.5,530.07 L296.0,530.88 L296.5,530.35 L297.0,530.86 L297.5,530.88 L298.0,531.19 L298.5,530.52 L299.0,531.07 L299.5,530.71 L300.0,531.37 L300.5,531.59 L301.0,531.41 L301.5,530.84 L302.0,530.54 L302.5,531.17 L303.0,531.68 L303.5,531.67 L304.0,531.23 L304.5,531.34 L305.0,531.56 L305.5,531.54 L306.0,531.21 L306.5,530.92 L307.0,531.61 L307.5,531.43 L308.0,531.45 L308.5,530.85 L309.0,531.19 L309.5,530.91 L310.0,530.67 L310.5,531.56 L311.0,531.49 L311.5,530.99 L312.0,530.28 L312.5,530.45 L313.0,531.11 L313.5,531.61 L314.0,531.30 L314.5,530.93 L315.0,530.80 L315.5,531.62 L316.0,531.17 L316.5,531.04 L317.0,531.40 L317.0,533.6Z" fill="#e8252b"/>
<path d="M322.0,533.6 L322.0,531.37 L322.5,531.37 L323.0,531.20 L323.5,530.57 L324.0,531.49 L324.5,531.64 L325.0,531.74 L325.5,531.60 L326.0,531.77 L326.5,531.73 L327.0,531.63 L327.5,531.47 L328.0,531.68 L328.5,531.23 L329.0,530.93 L329.5,531.26 L330.0,531.44 L330.5,531.53 L331.0,531.68 L331.5,531.56 L332.0,531.75 L332.5,531.74 L333.0,531.63 L333.5,531.59 L334.0,531.14 L334.5,531.12 L335.0,531.01 L335.5,531.43 L336.0,531.74 L336.5,531.57 L337.0,531.61 L337.5,531.49 L338.0,531.71 L338.5,531.76 L339.0,531.39 L339.5,531.09 L340.0,531.16 L340.5,531.48 L341.0,531.18 L341.5,531.13 L342.0,530.40 L342.5,529.40 L343.0,528.40 L343.5,527.40 L344.0,527.20 L344.5,519.76 L345.0,514.00 L345.5,514.00 L346.0,514.00 L346.5,514.00 L347.0,514.00 L347.5,514.00 L348.0,514.00 L348.5,515.92 L349.0,525.52 L349.5,527.20 L350.0,528.00 L350.5,529.00 L351.0,530.00 L351.5,531.00 L352.0,531.76 L352.5,531.39 L353.0,530.60 L353.5,528.43 L354.0,526.70 L354.5,526.70 L355.0,526.70 L355.5,526.70 L356.0,527.13 L356.5,529.30 L357.0,531.47 L357.5,531.38 L358.0,531.73 L358.5,531.54 L359.0,531.38 L359.5,531.39 L360.0,531.14 L360.5,531.66 L361.0,531.31 L361.5,531.73 L362.0,531.22 L362.5,531.17 L363.0,531.18 L363.5,531.65 L364.0,531.49 L364.5,531.10 L365.0,531.47 L365.5,531.18 L366.0,531.65 L366.5,530.83 L367.0,531.49 L367.5,531.72 L368.0,531.13 L368.5,531.20 L369.0,530.82 L369.5,530.91 L370.0,531.11 L370.5,531.30 L371.0,531.30 L371.5,530.82 L372.0,531.60 L372.5,531.76 L373.0,531.12 L373.5,531.35 L374.0,531.64 L374.5,531.68 L375.0,531.26 L375.5,531.12 L376.0,531.19 L376.5,531.73 L377.0,531.78 L377.5,531.17 L378.0,531.39 L378.5,530.59 L379.0,531.22 L379.5,531.60 L380.0,531.16 L380.5,530.62 L381.0,531.10 L381.5,530.24 L382.0,528.59 L382.5,527.60 L383.0,527.60 L383.5,527.60 L384.0,527.60 L384.5,527.60 L385.0,527.60 L385.5,528.26 L386.0,529.91 L386.5,531.41 L387.0,531.72 L387.5,531.64 L388.0,531.68 L388.5,531.40 L389.0,531.40 L389.5,531.36 L390.0,531.60 L390.5,531.74 L391.0,531.11 L391.5,531.03 L392.0,531.49 L392.5,531.41 L393.0,531.80 L393.5,531.48 L394.0,531.05 L394.5,531.36 L395.0,531.05 L395.5,530.02 L396.0,530.03 L396.5,530.42 L397.0,529.65 L397.5,529.43 L398.0,530.31 L398.5,530.52 L399.0,530.16 L399.5,529.11 L400.0,529.62 L400.5,530.11 L401.0,530.83 L401.5,530.50 L402.0,530.10 L402.5,529.45 L403.0,529.17 L403.5,529.79 L404.0,529.46 L404.5,529.12 L405.0,529.43 L405.5,529.95 L406.0,530.60 L406.5,529.38 L407.0,528.84 L407.5,528.30 L408.0,527.33 L408.5,527.70 L409.0,526.36 L409.5,527.35 L410.0,528.68 L410.5,529.83 L411.0,530.33 L411.5,528.98 L412.0,527.51 L412.5,526.50 L413.0,526.62 L413.5,527.42 L414.0,527.99 L414.5,529.47 L415.0,529.42 L415.5,530.42 L416.0,529.98 L416.5,529.99 L417.0,529.60 L417.5,529.64 L418.0,530.31 L418.5,530.56 L419.0,530.11 L419.5,530.15 L420.0,530.09 L420.5,530.94 L421.0,530.41 L421.5,529.97 L422.0,529.62 L422.5,529.94 L423.0,530.15 L423.5,530.20 L424.0,530.03 L424.5,530.10 L425.0,530.47 L425.5,530.72 L426.0,530.03 L426.5,529.72 L427.0,529.73 L427.5,530.00 L428.0,529.94 L428.5,528.74 L429.0,528.17 L429.5,527.59 L430.0,528.01 L430.5,527.86 L431.0,528.87 L431.5,529.23 L432.0,529.28 L432.5,530.19 L433.0,529.78 L433.5,529.78 L434.0,529.52 L434.5,530.21 L435.0,530.76 L435.5,529.85 L436.0,529.87 L436.5,530.08 L437.0,530.45 L437.5,530.74 L438.0,529.12 L438.5,529.47 L439.0,530.03 L439.5,529.89 L440.0,529.77 L440.5,529.73 L441.0,529.13 L441.5,529.23 L442.0,530.27 L442.5,530.24 L443.0,529.48 L443.5,529.60 L444.0,529.89 L444.5,530.70 L445.0,530.21 L445.5,530.19 L446.0,529.95 L446.5,530.23 L447.0,530.89 L447.5,529.93 L448.0,529.97 L448.5,529.67 L449.0,529.20 L449.5,530.33 L450.0,530.05 L450.5,529.76 L451.0,530.15 L451.5,530.21 L452.0,530.86 L452.5,530.21 L453.0,529.72 L453.5,530.02 L454.0,530.65 L454.5,530.56 L455.0,530.24 L455.5,530.09 L456.0,530.12 L456.5,530.00 L457.0,530.22 L457.5,529.86 L458.0,530.17 L458.5,529.98 L459.0,530.26 L459.5,529.46 L460.0,529.06 L460.5,529.40 L461.0,530.40 L461.5,530.73 L462.0,530.22 L462.5,529.73 L463.0,529.93 L463.5,530.44 L464.0,530.92 L464.5,530.14 L465.0,529.83 L465.5,530.16 L466.0,530.45 L466.5,530.52 L467.0,530.33 L467.5,529.93 L468.0,529.16 L468.5,529.06 L469.0,529.32 L469.5,528.15 L470.0,527.61 L470.5,527.99 L471.0,528.98 L471.5,529.22 L472.0,529.66 L472.5,529.41 L473.0,530.06 L473.5,530.22 L474.0,529.57 L474.5,530.11 L475.0,529.46 L475.5,529.64 L476.0,530.34 L476.5,530.34 L477.0,530.01 L477.5,530.03 L478.0,530.20 L478.5,530.31 L479.0,529.82 L479.5,529.45 L480.0,529.74 L480.5,530.41 L481.0,530.72 L481.5,530.29 L482.0,529.25 L482.5,529.19 L483.0,529.94 L483.5,530.79 L484.0,530.14 L484.5,529.84 L485.0,530.10 L485.5,530.56 L486.0,530.54 L486.5,530.23 L487.0,529.82 L487.5,529.32 L488.0,530.38 L488.5,530.51 L489.0,530.04 L489.5,529.99 L490.0,529.96 L490.5,530.11 L491.0,529.48 L491.5,529.45 L492.0,529.00 L492.5,529.87 L493.0,530.65 L493.5,530.19 L494.0,529.59 L494.5,529.40 L495.0,529.97 L495.5,530.41 L496.0,530.09 L496.5,530.06 L497.0,530.16 L497.5,530.63 L498.0,530.65 L498.5,529.65 L499.0,529.84 L499.5,529.83 L500.0,529.86 L500.5,529.80 L501.0,530.29 L501.5,529.69 L502.0,529.76 L502.5,529.85 L503.0,530.25 L503.5,529.77 L504.0,529.68 L504.5,529.88 L505.0,530.08 L505.5,530.21 L506.0,529.69 L506.5,529.58 L507.0,530.47 L507.5,530.66 L508.0,530.25 L508.5,530.21 L509.0,529.78 L509.5,530.43 L510.0,529.75 L510.5,530.14 L511.0,529.97 L511.5,529.91 L512.0,530.55 L512.5,530.77 L513.0,530.14 L513.5,529.70 L514.0,529.77 L514.5,529.82 L515.0,529.94 L515.5,529.50 L516.0,529.62 L516.5,530.31 L517.0,530.44 L517.5,530.51 L518.0,529.60 L518.5,530.13 L519.0,530.45 L519.5,530.10 L520.0,529.99 L520.5,530.21 L521.0,530.10 L521.5,530.23 L522.0,530.21 L522.5,529.57 L523.0,529.95 L523.5,530.14 L524.0,530.36 L524.5,530.22 L525.0,529.72 L525.5,528.80 L526.0,529.00 L526.5,529.80 L527.0,530.76 L527.5,529.82 L528.0,529.94 L528.5,529.94 L529.0,530.28 L529.5,530.12 L530.0,530.30 L530.5,529.75 L531.0,529.99 L531.5,530.63 L532.0,530.57 L532.5,529.97 L533.0,529.85 L533.5,529.22 L534.0,529.02 L534.5,527.81 L535.0,526.90 L535.5,526.39 L536.0,527.55 L536.5,528.81 L537.0,529.27 L537.5,529.59 L538.0,529.29 L538.5,528.97 L539.0,527.91 L539.5,527.03 L540.0,527.12 L540.5,528.57 L541.0,529.74 L541.5,530.43 L542.0,529.57 L542.5,528.61 L543.0,529.25 L543.5,529.93 L544.0,530.51 L544.5,530.20 L545.0,530.17 L545.5,530.26 L546.0,530.50 L546.5,530.51 L547.0,529.53 L547.5,529.46 L548.0,529.96 L548.5,530.92 L549.0,530.49 L549.5,530.07 L550.0,529.97 L550.5,530.22 L551.0,530.59 L551.5,530.30 L552.0,530.08 L552.5,529.84 L553.0,529.79 L553.5,530.44 L554.0,530.26 L554.5,529.51 L555.0,529.33 L555.5,530.19 L556.0,530.02 L556.5,530.01 L557.0,529.80 L557.5,530.04 L558.0,530.11 L558.5,529.98 L559.0,528.96 L559.5,527.89 L560.0,528.20 L560.5,528.67 L561.0,529.11 L561.5,529.34 L562.0,529.71 L562.5,530.06 L563.0,530.43 L563.5,530.52 L564.0,529.74 L564.5,529.81 L565.0,530.30 L565.5,530.50 L566.0,531.38 L566.0,533.6Z" fill="#e8252b"/>
<line x1="112.00" y1="558.30" x2="317.00" y2="558.30" stroke="#5a70bb" stroke-width="0.8" />
<line x1="322.00" y1="558.30" x2="566.00" y2="558.30" stroke="#5a70bb" stroke-width="0.8" />
<line x1="112.00" y1="582.20" x2="317.00" y2="582.20" stroke="#7f8fcc" stroke-width="1.4" />
<line x1="322.00" y1="582.20" x2="566.00" y2="582.20" stroke="#7f8fcc" stroke-width="1.4" />
<line x1="112.00" y1="606.50" x2="317.00" y2="606.50" stroke="#a89a9a" stroke-width="0.8" />
<line x1="322.00" y1="606.50" x2="566.00" y2="606.50" stroke="#a89a9a" stroke-width="0.8" />
<line x1="112.00" y1="630.50" x2="317.00" y2="630.50" stroke="#c8c8c8" stroke-width="1.0" />
<line x1="322.00" y1="630.50" x2="566.00" y2="630.50" stroke="#c8c8c8" stroke-width="1.0" />
<path d="M112.0,558.3 L112.0,558.30 L113.0,558.30 L113.0,558.30 L114.0,558.30 L114.0,558.30 L115.0,558.30 L115.0,558.30 L116.0,558.30 L116.0,558.30 L117.0,558.30 L117.0,558.30 L118.0,558.30 L118.0,558.30 L119.0,558.30 L119.0,558.30 L120.0,558.30 L120.0,558.30 L121.0,558.30 L121.0,558.30 L122.0,558.30 L122.0,558.30 L123.0,558.30 L123.0,558.30 L124.0,558.30 L124.0,558.30 L125.0,558.30 L125.0,558.30 L126.0,558.30 L126.0,558.30 L127.0,558.30 L127.0,558.30 L128.0,558.30 L128.0,558.30 L129.0,558.30 L129.0,558.30 L130.0,558.30 L130.0,558.30 L131.0,558.30 L131.0,558.30 L132.0,558.30 L132.0,558.30 L133.0,558.30 L133.0,558.30 L134.0,558.30 L134.0,558.30 L135.0,558.30 L135.0,558.30 L136.0,558.30 L136.0,558.30 L137.0,558.30 L137.0,558.30 L138.0,558.30 L138.0,558.30 L139.0,558.30 L139.0,558.30 L140.0,558.30 L140.0,558.30 L141.0,558.30 L141.0,558.30 L142.0,558.30 L142.0,558.30 L143.0,558.30 L143.0,558.30 L144.0,558.30 L144.0,558.30 L145.0,558.30 L145.0,558.30 L146.0,558.30 L146.0,558.30 L147.0,558.30 L147.0,558.30 L148.0,558.30 L148.0,558.30 L149.0,558.30 L149.0,558.30 L150.0,558.30 L150.0,558.47 L151.0,558.47 L151.0,558.52 L152.0,558.52 L152.0,558.50 L153.0,558.50 L153.0,558.44 L154.0,558.44 L154.0,558.58 L155.0,558.58 L155.0,558.46 L156.0,558.46 L156.0,558.52 L157.0,558.52 L157.0,558.47 L158.0,558.47 L158.0,558.33 L159.0,558.33 L159.0,558.57 L160.0,558.57 L160.0,558.47 L161.0,558.47 L161.0,558.36 L162.0,558.36 L162.0,558.40 L163.0,558.40 L163.0,558.36 L164.0,558.36 L164.0,558.43 L165.0,558.43 L165.0,558.53 L166.0,558.53 L166.0,558.48 L167.0,558.48 L167.0,558.38 L168.0,558.38 L168.0,558.38 L169.0,558.38 L169.0,558.56 L170.0,558.56 L170.0,558.65 L171.0,558.65 L171.0,558.49 L172.0,558.49 L172.0,558.50 L173.0,558.50 L173.0,558.33 L174.0,558.33 L174.0,558.43 L175.0,558.43 L175.0,558.46 L176.0,558.46 L176.0,558.46 L177.0,558.46 L177.0,558.45 L178.0,558.45 L178.0,558.51 L179.0,558.51 L179.0,558.37 L180.0,558.37 L180.0,558.34 L181.0,558.34 L181.0,558.45 L182.0,558.45 L182.0,558.47 L183.0,558.47 L183.0,558.44 L184.0,558.44 L184.0,558.94 L185.0,558.94 L185.0,559.10 L186.0,559.10 L186.0,558.43 L187.0,558.43 L187.0,558.53 L188.0,558.53 L188.0,558.71 L189.0,558.71 L189.0,559.35 L190.0,559.35 L190.0,558.71 L191.0,558.71 L191.0,558.43 L192.0,558.43 L192.0,558.43 L193.0,558.43 L193.0,559.00 L194.0,559.00 L194.0,559.22 L195.0,559.22 L195.0,559.68 L196.0,559.68 L196.0,559.57 L197.0,559.57 L197.0,559.25 L198.0,559.25 L198.0,559.75 L199.0,559.75 L199.0,560.68 L200.0,560.68 L200.0,566.90 L201.0,566.90 L201.0,559.01 L202.0,559.01 L202.0,559.52 L203.0,559.52 L203.0,558.68 L204.0,558.68 L204.0,558.67 L205.0,558.67 L205.0,558.96 L206.0,558.96 L206.0,559.22 L207.0,559.22 L207.0,558.90 L208.0,558.90 L208.0,558.95 L209.0,558.95 L209.0,559.30 L210.0,559.30 L210.0,559.50 L211.0,559.50 L211.0,559.00 L212.0,559.00 L212.0,561.30 L213.0,561.30 L213.0,559.37 L214.0,559.37 L214.0,558.43 L215.0,558.43 L215.0,563.80 L216.0,563.80 L216.0,558.87 L217.0,558.87 L217.0,558.63 L218.0,558.63 L218.0,558.58 L219.0,558.58 L219.0,560.26 L220.0,560.26 L220.0,558.58 L221.0,558.58 L221.0,558.89 L222.0,558.89 L222.0,558.45 L223.0,558.45 L223.0,558.74 L224.0,558.74 L224.0,559.42 L225.0,559.42 L225.0,560.63 L226.0,560.63 L226.0,558.87 L227.0,558.87 L227.0,564.80 L228.0,564.80 L228.0,558.62 L229.0,558.62 L229.0,558.96 L230.0,558.96 L230.0,559.13 L231.0,559.13 L231.0,559.45 L232.0,559.45 L232.0,560.05 L233.0,560.05 L233.0,558.79 L234.0,558.79 L234.0,561.29 L235.0,561.29 L235.0,558.68 L236.0,558.68 L236.0,558.86 L237.0,558.86 L237.0,558.77 L238.0,558.77 L238.0,558.46 L239.0,558.46 L239.0,558.64 L240.0,558.64 L240.0,559.13 L241.0,559.13 L241.0,558.55 L242.0,558.55 L242.0,559.12 L243.0,559.12 L243.0,558.45 L244.0,558.45 L244.0,558.83 L245.0,558.83 L245.0,559.27 L246.0,559.27 L246.0,559.24 L247.0,559.24 L247.0,558.87 L248.0,558.87 L248.0,558.99 L249.0,558.99 L249.0,558.64 L250.0,558.64 L250.0,559.03 L251.0,559.03 L251.0,559.00 L252.0,559.00 L252.0,558.59 L253.0,558.59 L253.0,558.98 L254.0,558.98 L254.0,558.82 L255.0,558.82 L255.0,559.08 L256.0,559.08 L256.0,562.30 L257.0,562.30 L257.0,558.99 L258.0,558.99 L258.0,559.27 L259.0,559.27 L259.0,559.28 L260.0,559.28 L260.0,559.12 L261.0,559.12 L261.0,559.32 L262.0,559.32 L262.0,559.75 L263.0,559.75 L263.0,558.75 L264.0,558.75 L264.0,559.03 L265.0,559.03 L265.0,561.06 L266.0,561.06 L266.0,562.30 L267.0,562.30 L267.0,559.47 L268.0,559.47 L268.0,559.43 L269.0,559.43 L269.0,558.97 L270.0,558.97 L270.0,561.31 L271.0,561.31 L271.0,558.57 L272.0,558.57 L272.0,559.06 L273.0,559.06 L273.0,558.78 L274.0,558.78 L274.0,558.74 L275.0,558.74 L275.0,558.47 L276.0,558.47 L276.0,558.81 L277.0,558.81 L277.0,558.61 L278.0,558.61 L278.0,558.65 L279.0,558.65 L279.0,558.67 L280.0,558.67 L280.0,558.69 L281.0,558.69 L281.0,558.42 L282.0,558.42 L282.0,558.63 L283.0,558.63 L283.0,558.49 L284.0,558.49 L284.0,558.46 L285.0,558.46 L285.0,558.34 L286.0,558.34 L286.0,558.34 L287.0,558.34 L287.0,558.56 L288.0,558.56 L288.0,558.43 L289.0,558.43 L289.0,558.55 L290.0,558.55 L290.0,558.55 L291.0,558.55 L291.0,558.45 L292.0,558.45 L292.0,558.51 L293.0,558.51 L293.0,558.42 L294.0,558.42 L294.0,558.47 L295.0,558.47 L295.0,558.34 L296.0,558.34 L296.0,558.35 L297.0,558.35 L297.0,558.46 L298.0,558.46 L298.0,558.51 L299.0,558.51 L299.0,558.56 L300.0,558.56 L300.0,558.48 L301.0,558.48 L301.0,558.40 L302.0,558.40 L302.0,558.66 L303.0,558.66 L303.0,558.65 L304.0,558.65 L304.0,558.55 L305.0,558.55 L305.0,558.48 L306.0,558.48 L306.0,558.70 L307.0,558.70 L307.0,558.70 L308.0,558.70 L308.0,558.65 L309.0,558.65 L309.0,558.58 L310.0,558.58 L310.0,558.63 L311.0,558.63 L311.0,558.53 L312.0,558.53 L312.0,558.67 L313.0,558.67 L313.0,558.77 L314.0,558.77 L314.0,558.76 L315.0,558.76 L315.0,558.76 L316.0,558.76 L316.0,558.83 L317.0,558.83 L317.0,558.3Z" fill="#2b4b9e"/><path d="M112.0,558.3 L112.0,558.30 L113.0,558.30 L113.0,558.30 L114.0,558.30 L114.0,558.30 L115.0,558.30 L115.0,558.30 L116.0,558.30 L116.0,558.30 L117.0,558.30 L117.0,558.30 L118.0,558.30 L118.0,558.30 L119.0,558.30 L119.0,558.30 L120.0,558.30 L120.0,558.30 L121.0,558.30 L121.0,558.30 L122.0,558.30 L122.0,558.30 L123.0,558.30 L123.0,558.30 L124.0,558.30 L124.0,558.30 L125.0,558.30 L125.0,558.30 L126.0,558.30 L126.0,558.30 L127.0,558.30 L127.0,558.30 L128.0,558.30 L128.0,558.30 L129.0,558.30 L129.0,558.30 L130.0,558.30 L130.0,558.30 L131.0,558.30 L131.0,558.30 L132.0,558.30 L132.0,558.30 L133.0,558.30 L133.0,558.30 L134.0,558.30 L134.0,558.30 L135.0,558.30 L135.0,558.30 L136.0,558.30 L136.0,558.30 L137.0,558.30 L137.0,558.30 L138.0,558.30 L138.0,558.30 L139.0,558.30 L139.0,558.30 L140.0,558.30 L140.0,558.30 L141.0,558.30 L141.0,558.30 L142.0,558.30 L142.0,558.30 L143.0,558.30 L143.0,558.30 L144.0,558.30 L144.0,558.30 L145.0,558.30 L145.0,558.30 L146.0,558.30 L146.0,558.30 L147.0,558.30 L147.0,558.30 L148.0,558.30 L148.0,558.30 L149.0,558.30 L149.0,558.30 L150.0,558.30 L150.0,558.30 L151.0,558.30 L151.0,558.30 L152.0,558.30 L152.0,558.30 L153.0,558.30 L153.0,558.30 L154.0,558.30 L154.0,558.30 L155.0,558.30 L155.0,558.30 L156.0,558.30 L156.0,558.30 L157.0,558.30 L157.0,558.30 L158.0,558.30 L158.0,558.30 L159.0,558.30 L159.0,558.30 L160.0,558.30 L160.0,558.30 L161.0,558.30 L161.0,558.30 L162.0,558.30 L162.0,558.30 L163.0,558.30 L163.0,558.30 L164.0,558.30 L164.0,558.30 L165.0,558.30 L165.0,558.30 L166.0,558.30 L166.0,558.30 L167.0,558.30 L167.0,558.30 L168.0,558.30 L168.0,558.30 L169.0,558.30 L169.0,558.30 L170.0,558.30 L170.0,558.30 L171.0,558.30 L171.0,558.30 L172.0,558.30 L172.0,558.30 L173.0,558.30 L173.0,558.30 L174.0,558.30 L174.0,558.30 L175.0,558.30 L175.0,558.30 L176.0,558.30 L176.0,558.30 L177.0,558.30 L177.0,558.30 L178.0,558.30 L178.0,558.30 L179.0,558.30 L179.0,558.30 L180.0,558.30 L180.0,558.30 L181.0,558.30 L181.0,558.30 L182.0,558.30 L182.0,558.30 L183.0,558.30 L183.0,558.30 L184.0,558.30 L184.0,558.30 L185.0,558.30 L185.0,558.30 L186.0,558.30 L186.0,558.30 L187.0,558.30 L187.0,558.30 L188.0,558.30 L188.0,558.30 L189.0,558.30 L189.0,558.30 L190.0,558.30 L190.0,558.30 L191.0,558.30 L191.0,558.30 L192.0,558.30 L192.0,558.30 L193.0,558.30 L193.0,558.30 L194.0,558.30 L194.0,558.30 L195.0,558.30 L195.0,558.30 L196.0,558.30 L196.0,558.30 L197.0,558.30 L197.0,558.30 L198.0,558.30 L198.0,558.30 L199.0,558.30 L199.0,558.30 L200.0,558.30 L200.0,558.30 L201.0,558.30 L201.0,558.30 L202.0,558.30 L202.0,558.30 L203.0,558.30 L203.0,558.30 L204.0,558.30 L204.0,558.30 L205.0,558.30 L205.0,558.30 L206.0,558.30 L206.0,558.30 L207.0,558.30 L207.0,558.30 L208.0,558.30 L208.0,558.30 L209.0,558.30 L209.0,558.30 L210.0,558.30 L210.0,558.30 L211.0,558.30 L211.0,558.30 L212.0,558.30 L212.0,558.30 L213.0,558.30 L213.0,558.30 L214.0,558.30 L214.0,558.30 L215.0,558.30 L215.0,558.30 L216.0,558.30 L216.0,558.30 L217.0,558.30 L217.0,558.30 L218.0,558.30 L218.0,558.30 L219.0,558.30 L219.0,558.30 L220.0,558.30 L220.0,558.30 L221.0,558.30 L221.0,558.30 L222.0,558.30 L222.0,558.30 L223.0,558.30 L223.0,558.30 L224.0,558.30 L224.0,558.30 L225.0,558.30 L225.0,558.30 L226.0,558.30 L226.0,558.30 L227.0,558.30 L227.0,558.30 L228.0,558.30 L228.0,558.30 L229.0,558.30 L229.0,558.30 L230.0,558.30 L230.0,558.30 L231.0,558.30 L231.0,558.30 L232.0,558.30 L232.0,558.30 L233.0,558.30 L233.0,558.30 L234.0,558.30 L234.0,558.30 L235.0,558.30 L235.0,558.30 L236.0,558.30 L236.0,558.30 L237.0,558.30 L237.0,558.30 L238.0,558.30 L238.0,558.30 L239.0,558.30 L239.0,558.30 L240.0,558.30 L240.0,558.30 L241.0,558.30 L241.0,558.30 L242.0,558.30 L242.0,558.30 L243.0,558.30 L243.0,558.30 L244.0,558.30 L244.0,558.30 L245.0,558.30 L245.0,558.30 L246.0,558.30 L246.0,558.30 L247.0,558.30 L247.0,558.30 L248.0,558.30 L248.0,558.30 L249.0,558.30 L249.0,558.30 L250.0,558.30 L250.0,558.30 L251.0,558.30 L251.0,558.30 L252.0,558.30 L252.0,558.30 L253.0,558.30 L253.0,558.30 L254.0,558.30 L254.0,558.30 L255.0,558.30 L255.0,558.30 L256.0,558.30 L256.0,558.30 L257.0,558.30 L257.0,558.30 L258.0,558.30 L258.0,558.30 L259.0,558.30 L259.0,558.30 L260.0,558.30 L260.0,558.30 L261.0,558.30 L261.0,558.30 L262.0,558.30 L262.0,558.30 L263.0,558.30 L263.0,558.30 L264.0,558.30 L264.0,558.30 L265.0,558.30 L265.0,558.30 L266.0,558.30 L266.0,558.30 L267.0,558.30 L267.0,558.30 L268.0,558.30 L268.0,558.30 L269.0,558.30 L269.0,558.30 L270.0,558.30 L270.0,558.30 L271.0,558.30 L271.0,558.30 L272.0,558.30 L272.0,558.30 L273.0,558.30 L273.0,558.30 L274.0,558.30 L274.0,558.30 L275.0,558.30 L275.0,558.30 L276.0,558.30 L276.0,558.30 L277.0,558.30 L277.0,558.30 L278.0,558.30 L278.0,558.30 L279.0,558.30 L279.0,558.30 L280.0,558.30 L280.0,558.30 L281.0,558.30 L281.0,558.30 L282.0,558.30 L282.0,558.30 L283.0,558.30 L283.0,552.80 L284.0,552.80 L284.0,558.30 L285.0,558.30 L285.0,558.30 L286.0,558.30 L286.0,558.30 L287.0,558.30 L287.0,558.30 L288.0,558.30 L288.0,558.30 L289.0,558.30 L289.0,558.30 L290.0,558.30 L290.0,558.30 L291.0,558.30 L291.0,558.30 L292.0,558.30 L292.0,558.30 L293.0,558.30 L293.0,558.30 L294.0,558.30 L294.0,558.30 L295.0,558.30 L295.0,558.30 L296.0,558.30 L296.0,558.30 L297.0,558.30 L297.0,558.30 L298.0,558.30 L298.0,558.30 L299.0,558.30 L299.0,558.30 L300.0,558.30 L300.0,557.10 L301.0,557.10 L301.0,558.30 L302.0,558.30 L302.0,558.30 L303.0,558.30 L303.0,558.30 L304.0,558.30 L304.0,558.30 L305.0,558.30 L305.0,558.30 L306.0,558.30 L306.0,558.30 L307.0,558.30 L307.0,558.30 L308.0,558.30 L308.0,557.30 L309.0,557.30 L309.0,558.30 L310.0,558.30 L310.0,558.30 L311.0,558.30 L311.0,558.30 L312.0,558.30 L312.0,558.30 L313.0,558.30 L313.0,558.30 L314.0,558.30 L314.0,558.30 L315.0,558.30 L315.0,558.30 L316.0,558.30 L316.0,558.30 L317.0,558.30 L317.0,558.3Z" fill="#2b4b9e"/>
<path d="M322.0,558.3 L322.0,558.30 L323.0,558.30 L323.0,558.30 L324.0,558.30 L324.0,558.30 L325.0,558.30 L325.0,558.30 L326.0,558.30 L326.0,558.30 L327.0,558.30 L327.0,558.30 L328.0,558.30 L328.0,558.30 L329.0,558.30 L329.0,558.30 L330.0,558.30 L330.0,558.30 L331.0,558.30 L331.0,558.30 L332.0,558.30 L332.0,558.30 L333.0,558.30 L333.0,558.30 L334.0,558.30 L334.0,558.30 L335.0,558.30 L335.0,558.30 L336.0,558.30 L336.0,558.30 L337.0,558.30 L337.0,558.30 L338.0,558.30 L338.0,558.30 L339.0,558.30 L339.0,558.30 L340.0,558.30 L340.0,558.30 L341.0,558.30 L341.0,558.30 L342.0,558.30 L342.0,558.30 L343.0,558.30 L343.0,558.30 L344.0,558.30 L344.0,558.30 L345.0,558.30 L345.0,558.30 L346.0,558.30 L346.0,558.30 L347.0,558.30 L347.0,558.30 L348.0,558.30 L348.0,558.30 L349.0,558.30 L349.0,558.30 L350.0,558.30 L350.0,558.30 L351.0,558.30 L351.0,558.30 L352.0,558.30 L352.0,558.30 L353.0,558.30 L353.0,558.30 L354.0,558.30 L354.0,558.30 L355.0,558.30 L355.0,558.30 L356.0,558.30 L356.0,558.30 L357.0,558.30 L357.0,558.30 L358.0,558.30 L358.0,558.30 L359.0,558.30 L359.0,558.30 L360.0,558.30 L360.0,558.30 L361.0,558.30 L361.0,558.30 L362.0,558.30 L362.0,558.30 L363.0,558.30 L363.0,558.30 L364.0,558.30 L364.0,558.30 L365.0,558.30 L365.0,558.30 L366.0,558.30 L366.0,558.30 L367.0,558.30 L367.0,558.30 L368.0,558.30 L368.0,558.30 L369.0,558.30 L369.0,558.30 L370.0,558.30 L370.0,558.30 L371.0,558.30 L371.0,558.30 L372.0,558.30 L372.0,558.30 L373.0,558.30 L373.0,558.30 L374.0,558.30 L374.0,558.30 L375.0,558.30 L375.0,558.30 L376.0,558.30 L376.0,558.30 L377.0,558.30 L377.0,558.30 L378.0,558.30 L378.0,558.30 L379.0,558.30 L379.0,558.30 L380.0,558.30 L380.0,558.30 L381.0,558.30 L381.0,558.30 L382.0,558.30 L382.0,558.30 L383.0,558.30 L383.0,558.30 L384.0,558.30 L384.0,558.30 L385.0,558.30 L385.0,558.30 L386.0,558.30 L386.0,558.30 L387.0,558.30 L387.0,558.30 L388.0,558.30 L388.0,558.30 L389.0,558.30 L389.0,558.30 L390.0,558.30 L390.0,558.30 L391.0,558.30 L391.0,558.30 L392.0,558.30 L392.0,558.30 L393.0,558.30 L393.0,558.30 L394.0,558.30 L394.0,558.30 L395.0,558.30 L395.0,558.30 L396.0,558.30 L396.0,558.30 L397.0,558.30 L397.0,558.30 L398.0,558.30 L398.0,558.30 L399.0,558.30 L399.0,558.30 L400.0,558.30 L400.0,558.30 L401.0,558.30 L401.0,558.30 L402.0,558.30 L402.0,558.30 L403.0,558.30 L403.0,558.30 L404.0,558.30 L404.0,558.30 L405.0,558.30 L405.0,558.30 L406.0,558.30 L406.0,558.30 L407.0,558.30 L407.0,558.30 L408.0,558.30 L408.0,558.30 L409.0,558.30 L409.0,558.30 L410.0,558.30 L410.0,558.30 L411.0,558.30 L411.0,558.30 L412.0,558.30 L412.0,558.30 L413.0,558.30 L413.0,558.30 L414.0,558.30 L414.0,558.30 L415.0,558.30 L415.0,558.30 L416.0,558.30 L416.0,558.30 L417.0,558.30 L417.0,558.30 L418.0,558.30 L418.0,558.30 L419.0,558.30 L419.0,558.30 L420.0,558.30 L420.0,558.30 L421.0,558.30 L421.0,558.30 L422.0,558.30 L422.0,558.30 L423.0,558.30 L423.0,558.30 L424.0,558.30 L424.0,558.30 L425.0,558.30 L425.0,558.30 L426.0,558.30 L426.0,558.30 L427.0,558.30 L427.0,558.30 L428.0,558.30 L428.0,558.30 L429.0,558.30 L429.0,558.30 L430.0,558.30 L430.0,558.30 L431.0,558.30 L431.0,558.30 L432.0,558.30 L432.0,558.30 L433.0,558.30 L433.0,558.30 L434.0,558.30 L434.0,558.30 L435.0,558.30 L435.0,558.30 L436.0,558.30 L436.0,558.30 L437.0,558.30 L437.0,558.30 L438.0,558.30 L438.0,558.30 L439.0,558.30 L439.0,558.30 L440.0,558.30 L440.0,558.30 L441.0,558.30 L441.0,558.30 L442.0,558.30 L442.0,558.30 L443.0,558.30 L443.0,558.30 L444.0,558.30 L444.0,558.30 L445.0,558.30 L445.0,558.30 L446.0,558.30 L446.0,558.30 L447.0,558.30 L447.0,558.30 L448.0,558.30 L448.0,558.30 L449.0,558.30 L449.0,558.30 L450.0,558.30 L450.0,558.58 L451.0,558.58 L451.0,560.47 L452.0,560.47 L452.0,559.95 L453.0,559.95 L453.0,563.93 L454.0,563.93 L454.0,559.52 L455.0,559.52 L455.0,561.33 L456.0,561.33 L456.0,560.36 L457.0,560.36 L457.0,564.63 L458.0,564.63 L458.0,560.42 L459.0,560.42 L459.0,561.98 L460.0,561.98 L460.0,560.00 L461.0,560.00 L461.0,560.28 L462.0,560.28 L462.0,559.98 L463.0,559.98 L463.0,570.42 L464.0,570.42 L464.0,570.18 L465.0,570.18 L465.0,561.07 L466.0,561.07 L466.0,578.30 L467.0,578.30 L467.0,564.99 L468.0,564.99 L468.0,576.30 L469.0,576.30 L469.0,567.49 L470.0,567.49 L470.0,578.30 L471.0,578.30 L471.0,568.17 L472.0,568.17 L472.0,570.92 L473.0,570.92 L473.0,567.92 L474.0,567.92 L474.0,578.30 L475.0,578.30 L475.0,565.31 L476.0,565.31 L476.0,560.12 L477.0,560.12 L477.0,567.24 L478.0,567.24 L478.0,559.23 L479.0,559.23 L479.0,558.73 L480.0,558.73 L480.0,559.81 L481.0,559.81 L481.0,559.76 L482.0,559.76 L482.0,562.06 L483.0,562.06 L483.0,560.44 L484.0,560.44 L484.0,560.63 L485.0,560.63 L485.0,566.16 L486.0,566.16 L486.0,578.30 L487.0,578.30 L487.0,560.13 L488.0,560.13 L488.0,560.33 L489.0,560.33 L489.0,560.55 L490.0,560.55 L490.0,559.59 L491.0,559.59 L491.0,559.70 L492.0,559.70 L492.0,559.51 L493.0,559.51 L493.0,559.70 L494.0,559.70 L494.0,559.94 L495.0,559.94 L495.0,562.41 L496.0,562.41 L496.0,560.15 L497.0,560.15 L497.0,560.20 L498.0,560.20 L498.0,560.07 L499.0,560.07 L499.0,559.74 L500.0,559.74 L500.0,559.46 L501.0,559.46 L501.0,561.28 L502.0,561.28 L502.0,559.74 L503.0,559.74 L503.0,561.03 L504.0,561.03 L504.0,562.03 L505.0,562.03 L505.0,558.99 L506.0,558.99 L506.0,558.94 L507.0,558.94 L507.0,558.80 L508.0,558.80 L508.0,565.04 L509.0,565.04 L509.0,559.79 L510.0,559.79 L510.0,559.93 L511.0,559.93 L511.0,559.74 L512.0,559.74 L512.0,559.25 L513.0,559.25 L513.0,560.92 L514.0,560.92 L514.0,560.19 L515.0,560.19 L515.0,561.97 L516.0,561.97 L516.0,560.51 L517.0,560.51 L517.0,568.30 L518.0,568.30 L518.0,559.85 L519.0,559.85 L519.0,559.36 L520.0,559.36 L520.0,559.61 L521.0,559.61 L521.0,559.44 L522.0,559.44 L522.0,560.29 L523.0,560.29 L523.0,574.30 L524.0,574.30 L524.0,567.30 L525.0,567.30 L525.0,563.13 L526.0,563.13 L526.0,565.19 L527.0,565.19 L527.0,558.60 L528.0,558.60 L528.0,558.60 L529.0,558.60 L529.0,568.17 L530.0,568.17 L530.0,574.30 L531.0,574.30 L531.0,560.92 L532.0,560.92 L532.0,560.19 L533.0,560.19 L533.0,559.93 L534.0,559.93 L534.0,559.09 L535.0,559.09 L535.0,559.87 L536.0,559.87 L536.0,559.32 L537.0,559.32 L537.0,558.60 L538.0,558.60 L538.0,578.30 L539.0,578.30 L539.0,568.09 L540.0,568.09 L540.0,558.60 L541.0,558.60 L541.0,558.60 L542.0,558.60 L542.0,560.29 L543.0,560.29 L543.0,560.30 L544.0,560.30 L544.0,558.75 L545.0,558.75 L545.0,558.42 L546.0,558.42 L546.0,558.64 L547.0,558.64 L547.0,558.57 L548.0,558.57 L548.0,558.51 L549.0,558.51 L549.0,558.60 L550.0,558.60 L550.0,558.68 L551.0,558.68 L551.0,558.52 L552.0,558.52 L552.0,558.60 L553.0,558.60 L553.0,558.36 L554.0,558.36 L554.0,558.44 L555.0,558.44 L555.0,559.36 L556.0,559.36 L556.0,558.52 L557.0,558.52 L557.0,558.66 L558.0,558.66 L558.0,558.49 L559.0,558.49 L559.0,558.40 L560.0,558.40 L560.0,558.69 L561.0,558.69 L561.0,558.30 L562.0,558.30 L562.0,558.30 L563.0,558.30 L563.0,558.30 L564.0,558.30 L564.0,558.30 L565.0,558.30 L565.0,558.30 L566.0,558.30 L566.0,558.3Z" fill="#2b4b9e"/><path d="M322.0,558.3 L322.0,558.30 L323.0,558.30 L323.0,558.30 L324.0,558.30 L324.0,558.30 L325.0,558.30 L325.0,558.30 L326.0,558.30 L326.0,558.30 L327.0,558.30 L327.0,558.30 L328.0,558.30 L328.0,558.30 L329.0,558.30 L329.0,558.30 L330.0,558.30 L330.0,558.30 L331.0,558.30 L331.0,558.30 L332.0,558.30 L332.0,558.30 L333.0,558.30 L333.0,558.30 L334.0,558.30 L334.0,558.30 L335.0,558.30 L335.0,558.30 L336.0,558.30 L336.0,558.30 L337.0,558.30 L337.0,558.30 L338.0,558.30 L338.0,558.30 L339.0,558.30 L339.0,558.30 L340.0,558.30 L340.0,558.30 L341.0,558.30 L341.0,558.30 L342.0,558.30 L342.0,558.30 L343.0,558.30 L343.0,558.30 L344.0,558.30 L344.0,558.30 L345.0,558.30 L345.0,558.30 L346.0,558.30 L346.0,558.30 L347.0,558.30 L347.0,558.30 L348.0,558.30 L348.0,558.30 L349.0,558.30 L349.0,558.30 L350.0,558.30 L350.0,558.30 L351.0,558.30 L351.0,558.30 L352.0,558.30 L352.0,558.30 L353.0,558.30 L353.0,558.30 L354.0,558.30 L354.0,558.30 L355.0,558.30 L355.0,558.30 L356.0,558.30 L356.0,558.30 L357.0,558.30 L357.0,558.30 L358.0,558.30 L358.0,558.30 L359.0,558.30 L359.0,558.30 L360.0,558.30 L360.0,558.30 L361.0,558.30 L361.0,558.30 L362.0,558.30 L362.0,558.30 L363.0,558.30 L363.0,558.30 L364.0,558.30 L364.0,558.30 L365.0,558.30 L365.0,558.30 L366.0,558.30 L366.0,558.30 L367.0,558.30 L367.0,558.30 L368.0,558.30 L368.0,558.30 L369.0,558.30 L369.0,558.30 L370.0,558.30 L370.0,558.30 L371.0,558.30 L371.0,558.30 L372.0,558.30 L372.0,558.30 L373.0,558.30 L373.0,558.30 L374.0,558.30 L374.0,558.30 L375.0,558.30 L375.0,558.30 L376.0,558.30 L376.0,558.30 L377.0,558.30 L377.0,558.30 L378.0,558.30 L378.0,558.30 L379.0,558.30 L379.0,558.30 L380.0,558.30 L380.0,558.30 L381.0,558.30 L381.0,558.30 L382.0,558.30 L382.0,558.30 L383.0,558.30 L383.0,558.30 L384.0,558.30 L384.0,558.30 L385.0,558.30 L385.0,558.30 L386.0,558.30 L386.0,558.30 L387.0,558.30 L387.0,558.30 L388.0,558.30 L388.0,558.30 L389.0,558.30 L389.0,558.30 L390.0,558.30 L390.0,558.30 L391.0,558.30 L391.0,558.30 L392.0,558.30 L392.0,558.30 L393.0,558.30 L393.0,558.30 L394.0,558.30 L394.0,558.30 L395.0,558.30 L395.0,558.30 L396.0,558.30 L396.0,558.30 L397.0,558.30 L397.0,558.30 L398.0,558.30 L398.0,558.30 L399.0,558.30 L399.0,558.30 L400.0,558.30 L400.0,558.30 L401.0,558.30 L401.0,558.30 L402.0,558.30 L402.0,558.30 L403.0,558.30 L403.0,558.30 L404.0,558.30 L404.0,558.30 L405.0,558.30 L405.0,558.30 L406.0,558.30 L406.0,558.30 L407.0,558.30 L407.0,558.30 L408.0,558.30 L408.0,558.30 L409.0,558.30 L409.0,558.30 L410.0,558.30 L410.0,558.30 L411.0,558.30 L411.0,558.30 L412.0,558.30 L412.0,558.30 L413.0,558.30 L413.0,558.30 L414.0,558.30 L414.0,558.30 L415.0,558.30 L415.0,558.30 L416.0,558.30 L416.0,558.30 L417.0,558.30 L417.0,558.30 L418.0,558.30 L418.0,558.30 L419.0,558.30 L419.0,558.30 L420.0,558.30 L420.0,558.30 L421.0,558.30 L421.0,558.30 L422.0,558.30 L422.0,558.30 L423.0,558.30 L423.0,558.30 L424.0,558.30 L424.0,558.30 L425.0,558.30 L425.0,558.30 L426.0,558.30 L426.0,558.30 L427.0,558.30 L427.0,558.30 L428.0,558.30 L428.0,558.30 L429.0,558.30 L429.0,558.30 L430.0,558.30 L430.0,558.30 L431.0,558.30 L431.0,558.30 L432.0,558.30 L432.0,558.30 L433.0,558.30 L433.0,558.30 L434.0,558.30 L434.0,558.30 L435.0,558.30 L435.0,558.30 L436.0,558.30 L436.0,558.30 L437.0,558.30 L437.0,558.30 L438.0,558.30 L438.0,558.30 L439.0,558.30 L439.0,558.30 L440.0,558.30 L440.0,558.30 L441.0,558.30 L441.0,558.30 L442.0,558.30 L442.0,558.30 L443.0,558.30 L443.0,558.30 L444.0,558.30 L444.0,558.30 L445.0,558.30 L445.0,558.30 L446.0,558.30 L446.0,558.30 L447.0,558.30 L447.0,558.30 L448.0,558.30 L448.0,558.30 L449.0,558.30 L449.0,558.30 L450.0,558.30 L450.0,558.30 L451.0,558.30 L451.0,558.30 L452.0,558.30 L452.0,558.30 L453.0,558.30 L453.0,558.30 L454.0,558.30 L454.0,558.30 L455.0,558.30 L455.0,558.30 L456.0,558.30 L456.0,558.30 L457.0,558.30 L457.0,558.30 L458.0,558.30 L458.0,558.30 L459.0,558.30 L459.0,558.30 L460.0,558.30 L460.0,558.30 L461.0,558.30 L461.0,558.30 L462.0,558.30 L462.0,558.30 L463.0,558.30 L463.0,558.30 L464.0,558.30 L464.0,558.30 L465.0,558.30 L465.0,558.30 L466.0,558.30 L466.0,558.30 L467.0,558.30 L467.0,558.30 L468.0,558.30 L468.0,558.30 L469.0,558.30 L469.0,558.30 L470.0,558.30 L470.0,558.30 L471.0,558.30 L471.0,558.30 L472.0,558.30 L472.0,558.30 L473.0,558.30 L473.0,558.30 L474.0,558.30 L474.0,558.30 L475.0,558.30 L475.0,558.30 L476.0,558.30 L476.0,558.30 L477.0,558.30 L477.0,558.30 L478.0,558.30 L478.0,558.30 L479.0,558.30 L479.0,558.30 L480.0,558.30 L480.0,558.30 L481.0,558.30 L481.0,558.30 L482.0,558.30 L482.0,558.30 L483.0,558.30 L483.0,558.30 L484.0,558.30 L484.0,558.30 L485.0,558.30 L485.0,558.30 L486.0,558.30 L486.0,558.30 L487.0,558.30 L487.0,558.30 L488.0,558.30 L488.0,558.30 L489.0,558.30 L489.0,558.30 L490.0,558.30 L490.0,558.30 L491.0,558.30 L491.0,558.30 L492.0,558.30 L492.0,558.30 L493.0,558.30 L493.0,558.30 L494.0,558.30 L494.0,558.30 L495.0,558.30 L495.0,558.30 L496.0,558.30 L496.0,558.30 L497.0,558.30 L497.0,558.30 L498.0,558.30 L498.0,558.30 L499.0,558.30 L499.0,558.30 L500.0,558.30 L500.0,558.30 L501.0,558.30 L501.0,558.30 L502.0,558.30 L502.0,558.30 L503.0,558.30 L503.0,558.30 L504.0,558.30 L504.0,558.30 L505.0,558.30 L505.0,558.30 L506.0,558.30 L506.0,558.30 L507.0,558.30 L507.0,558.30 L508.0,558.30 L508.0,558.30 L509.0,558.30 L509.0,558.30 L510.0,558.30 L510.0,558.30 L511.0,558.30 L511.0,558.30 L512.0,558.30 L512.0,558.30 L513.0,558.30 L513.0,558.30 L514.0,558.30 L514.0,558.30 L515.0,558.30 L515.0,558.30 L516.0,558.30 L516.0,558.30 L517.0,558.30 L517.0,558.30 L518.0,558.30 L518.0,558.30 L519.0,558.30 L519.0,558.30 L520.0,558.30 L520.0,558.30 L521.0,558.30 L521.0,558.30 L522.0,558.30 L522.0,558.30 L523.0,558.30 L523.0,558.30 L524.0,558.30 L524.0,558.30 L525.0,558.30 L525.0,558.30 L526.0,558.30 L526.0,558.30 L527.0,558.30 L527.0,558.30 L528.0,558.30 L528.0,558.30 L529.0,558.30 L529.0,558.30 L530.0,558.30 L530.0,558.30 L531.0,558.30 L531.0,558.30 L532.0,558.30 L532.0,558.30 L533.0,558.30 L533.0,558.30 L534.0,558.30 L534.0,558.30 L535.0,558.30 L535.0,558.30 L536.0,558.30 L536.0,558.30 L537.0,558.30 L537.0,558.30 L538.0,558.30 L538.0,558.30 L539.0,558.30 L539.0,558.30 L540.0,558.30 L540.0,558.30 L541.0,558.30 L541.0,558.30 L542.0,558.30 L542.0,538.80 L543.0,538.80 L543.0,547.30 L544.0,547.30 L544.0,555.57 L545.0,555.57 L545.0,556.81 L546.0,556.81 L546.0,557.79 L547.0,557.79 L547.0,557.57 L548.0,557.57 L548.0,558.21 L549.0,558.21 L549.0,558.18 L550.0,558.18 L550.0,557.46 L551.0,557.46 L551.0,557.83 L552.0,557.83 L552.0,557.61 L553.0,557.61 L553.0,557.70 L554.0,557.70 L554.0,558.30 L555.0,558.30 L555.0,558.30 L556.0,558.30 L556.0,558.30 L557.0,558.30 L557.0,558.30 L558.0,558.30 L558.0,558.30 L559.0,558.30 L559.0,558.30 L560.0,558.30 L560.0,558.30 L561.0,558.30 L561.0,558.30 L562.0,558.30 L562.0,558.30 L563.0,558.30 L563.0,558.30 L564.0,558.30 L564.0,558.30 L565.0,558.30 L565.0,558.30 L566.0,558.30 L566.0,558.3Z" fill="#2b4b9e"/>
<path d="M112.0,606.5 L112.0,606.50 L113.0,606.50 L113.0,606.50 L114.0,606.50 L114.0,606.50 L115.0,606.50 L115.0,606.50 L116.0,606.50 L116.0,606.50 L117.0,606.50 L117.0,606.50 L118.0,606.50 L118.0,606.50 L119.0,606.50 L119.0,606.50 L120.0,606.50 L120.0,606.50 L121.0,606.50 L121.0,606.50 L122.0,606.50 L122.0,606.50 L123.0,606.50 L123.0,606.50 L124.0,606.50 L124.0,606.50 L125.0,606.50 L125.0,606.50 L126.0,606.50 L126.0,606.50 L127.0,606.50 L127.0,606.50 L128.0,606.50 L128.0,606.50 L129.0,606.50 L129.0,606.50 L130.0,606.50 L130.0,606.67 L131.0,606.67 L131.0,606.75 L132.0,606.75 L132.0,606.59 L133.0,606.59 L133.0,606.70 L134.0,606.70 L134.0,606.62 L135.0,606.62 L135.0,606.64 L136.0,606.64 L136.0,606.65 L137.0,606.65 L137.0,606.64 L138.0,606.64 L138.0,606.87 L139.0,606.87 L139.0,606.59 L140.0,606.59 L140.0,606.53 L141.0,606.53 L141.0,606.55 L142.0,606.55 L142.0,606.69 L143.0,606.69 L143.0,606.53 L144.0,606.53 L144.0,606.65 L145.0,606.65 L145.0,606.53 L146.0,606.53 L146.0,606.59 L147.0,606.59 L147.0,606.53 L148.0,606.53 L148.0,606.66 L149.0,606.66 L149.0,606.67 L150.0,606.67 L150.0,606.56 L151.0,606.56 L151.0,607.07 L152.0,607.07 L152.0,606.88 L153.0,606.88 L153.0,606.71 L154.0,606.71 L154.0,606.62 L155.0,606.62 L155.0,606.59 L156.0,606.59 L156.0,606.58 L157.0,606.58 L157.0,606.69 L158.0,606.69 L158.0,606.73 L159.0,606.73 L159.0,606.59 L160.0,606.59 L160.0,607.21 L161.0,607.21 L161.0,606.56 L162.0,606.56 L162.0,606.61 L163.0,606.61 L163.0,606.74 L164.0,606.74 L164.0,606.57 L165.0,606.57 L165.0,606.81 L166.0,606.81 L166.0,606.83 L167.0,606.83 L167.0,606.81 L168.0,606.81 L168.0,606.63 L169.0,606.63 L169.0,606.55 L170.0,606.55 L170.0,606.59 L171.0,606.59 L171.0,606.78 L172.0,606.78 L172.0,607.01 L173.0,607.01 L173.0,608.50 L174.0,608.50 L174.0,606.50 L175.0,606.50 L175.0,606.50 L176.0,606.50 L176.0,606.50 L177.0,606.50 L177.0,606.50 L178.0,606.50 L178.0,606.50 L179.0,606.50 L179.0,606.50 L180.0,606.50 L180.0,614.71 L181.0,614.71 L181.0,607.50 L182.0,607.50 L182.0,608.88 L183.0,608.88 L183.0,611.04 L184.0,611.04 L184.0,610.24 L185.0,610.24 L185.0,609.77 L186.0,609.77 L186.0,609.52 L187.0,609.52 L187.0,614.50 L188.0,614.50 L188.0,608.38 L189.0,608.38 L189.0,610.92 L190.0,610.92 L190.0,608.35 L191.0,608.35 L191.0,610.14 L192.0,610.14 L192.0,614.85 L193.0,614.85 L193.0,611.49 L194.0,611.49 L194.0,609.76 L195.0,609.76 L195.0,607.96 L196.0,607.96 L196.0,618.50 L197.0,618.50 L197.0,608.10 L198.0,608.10 L198.0,609.70 L199.0,609.70 L199.0,609.95 L200.0,609.95 L200.0,626.50 L201.0,626.50 L201.0,608.66 L202.0,608.66 L202.0,615.23 L203.0,615.23 L203.0,610.21 L204.0,610.21 L204.0,610.31 L205.0,610.31 L205.0,607.24 L206.0,607.24 L206.0,617.31 L207.0,617.31 L207.0,612.00 L208.0,612.00 L208.0,607.02 L209.0,607.02 L209.0,607.38 L210.0,607.38 L210.0,609.13 L211.0,609.13 L211.0,607.02 L212.0,607.02 L212.0,613.89 L213.0,613.89 L213.0,608.37 L214.0,608.37 L214.0,609.43 L215.0,609.43 L215.0,609.18 L216.0,609.18 L216.0,610.73 L217.0,610.73 L217.0,614.56 L218.0,614.56 L218.0,610.45 L219.0,610.45 L219.0,609.64 L220.0,609.64 L220.0,609.25 L221.0,609.25 L221.0,610.40 L222.0,610.40 L222.0,610.59 L223.0,610.59 L223.0,612.14 L224.0,612.14 L224.0,610.12 L225.0,610.12 L225.0,609.53 L226.0,609.53 L226.0,617.50 L227.0,617.50 L227.0,607.02 L228.0,607.02 L228.0,607.02 L229.0,607.02 L229.0,616.68 L230.0,616.68 L230.0,607.02 L231.0,607.02 L231.0,607.02 L232.0,607.02 L232.0,607.27 L233.0,607.27 L233.0,607.66 L234.0,607.66 L234.0,608.87 L235.0,608.87 L235.0,616.00 L236.0,616.00 L236.0,614.88 L237.0,614.88 L237.0,616.52 L238.0,616.52 L238.0,609.95 L239.0,609.95 L239.0,609.95 L240.0,609.95 L240.0,612.94 L241.0,612.94 L241.0,607.50 L242.0,607.50 L242.0,610.24 L243.0,610.24 L243.0,616.50 L244.0,616.50 L244.0,611.14 L245.0,611.14 L245.0,611.98 L246.0,611.98 L246.0,611.09 L247.0,611.09 L247.0,609.32 L248.0,609.32 L248.0,609.57 L249.0,609.57 L249.0,609.58 L250.0,609.58 L250.0,608.27 L251.0,608.27 L251.0,609.38 L252.0,609.38 L252.0,607.02 L253.0,607.02 L253.0,607.09 L254.0,607.09 L254.0,609.49 L255.0,609.49 L255.0,612.92 L256.0,612.92 L256.0,609.58 L257.0,609.58 L257.0,607.66 L258.0,607.66 L258.0,619.50 L259.0,619.50 L259.0,607.94 L260.0,607.94 L260.0,610.30 L261.0,610.30 L261.0,607.02 L262.0,607.02 L262.0,607.93 L263.0,607.93 L263.0,617.50 L264.0,617.50 L264.0,608.19 L265.0,608.19 L265.0,608.33 L266.0,608.33 L266.0,609.04 L267.0,609.04 L267.0,607.02 L268.0,607.02 L268.0,609.55 L269.0,609.55 L269.0,609.27 L270.0,609.27 L270.0,607.97 L271.0,607.97 L271.0,606.56 L272.0,606.56 L272.0,606.90 L273.0,606.90 L273.0,606.84 L274.0,606.84 L274.0,606.86 L275.0,606.86 L275.0,606.66 L276.0,606.66 L276.0,606.75 L277.0,606.75 L277.0,606.67 L278.0,606.67 L278.0,606.70 L279.0,606.70 L279.0,606.86 L280.0,606.86 L280.0,606.91 L281.0,606.91 L281.0,606.72 L282.0,606.72 L282.0,606.65 L283.0,606.65 L283.0,606.70 L284.0,606.70 L284.0,606.65 L285.0,606.65 L285.0,606.60 L286.0,606.60 L286.0,606.54 L287.0,606.54 L287.0,606.70 L288.0,606.70 L288.0,606.54 L289.0,606.54 L289.0,606.54 L290.0,606.54 L290.0,606.79 L291.0,606.79 L291.0,606.87 L292.0,606.87 L292.0,607.47 L293.0,607.47 L293.0,606.80 L294.0,606.80 L294.0,606.79 L295.0,606.79 L295.0,606.91 L296.0,606.91 L296.0,606.95 L297.0,606.95 L297.0,606.79 L298.0,606.79 L298.0,606.77 L299.0,606.77 L299.0,606.54 L300.0,606.54 L300.0,606.54 L301.0,606.54 L301.0,606.90 L302.0,606.90 L302.0,606.55 L303.0,606.55 L303.0,606.64 L304.0,606.64 L304.0,606.74 L305.0,606.74 L305.0,606.81 L306.0,606.81 L306.0,606.67 L307.0,606.67 L307.0,606.85 L308.0,606.85 L308.0,606.87 L309.0,606.87 L309.0,606.75 L310.0,606.75 L310.0,606.73 L311.0,606.73 L311.0,606.72 L312.0,606.72 L312.0,606.64 L313.0,606.64 L313.0,606.88 L314.0,606.88 L314.0,606.85 L315.0,606.85 L315.0,606.75 L316.0,606.75 L316.0,606.94 L317.0,606.94 L317.0,606.5Z" fill="#e8252b"/><path d="M112.0,606.5 L112.0,606.50 L113.0,606.50 L113.0,606.50 L114.0,606.50 L114.0,606.50 L115.0,606.50 L115.0,606.50 L116.0,606.50 L116.0,606.50 L117.0,606.50 L117.0,606.50 L118.0,606.50 L118.0,606.50 L119.0,606.50 L119.0,606.50 L120.0,606.50 L120.0,606.50 L121.0,606.50 L121.0,606.50 L122.0,606.50 L122.0,606.50 L123.0,606.50 L123.0,606.50 L124.0,606.50 L124.0,606.50 L125.0,606.50 L125.0,606.50 L126.0,606.50 L126.0,606.50 L127.0,606.50 L127.0,606.50 L128.0,606.50 L128.0,606.50 L129.0,606.50 L129.0,606.50 L130.0,606.50 L130.0,606.50 L131.0,606.50 L131.0,606.50 L132.0,606.50 L132.0,606.50 L133.0,606.50 L133.0,606.50 L134.0,606.50 L134.0,606.50 L135.0,606.50 L135.0,606.50 L136.0,606.50 L136.0,606.50 L137.0,606.50 L137.0,606.50 L138.0,606.50 L138.0,606.50 L139.0,606.50 L139.0,606.50 L140.0,606.50 L140.0,606.50 L141.0,606.50 L141.0,606.50 L142.0,606.50 L142.0,606.50 L143.0,606.50 L143.0,606.50 L144.0,606.50 L144.0,606.50 L145.0,606.50 L145.0,606.50 L146.0,606.50 L146.0,606.50 L147.0,606.50 L147.0,606.50 L148.0,606.50 L148.0,606.50 L149.0,606.50 L149.0,606.50 L150.0,606.50 L150.0,606.50 L151.0,606.50 L151.0,606.50 L152.0,606.50 L152.0,606.50 L153.0,606.50 L153.0,606.50 L154.0,606.50 L154.0,606.50 L155.0,606.50 L155.0,606.50 L156.0,606.50 L156.0,606.50 L157.0,606.50 L157.0,606.50 L158.0,606.50 L158.0,606.50 L159.0,606.50 L159.0,606.50 L160.0,606.50 L160.0,606.50 L161.0,606.50 L161.0,606.50 L162.0,606.50 L162.0,606.50 L163.0,606.50 L163.0,606.50 L164.0,606.50 L164.0,606.50 L165.0,606.50 L165.0,606.50 L166.0,606.50 L166.0,606.50 L167.0,606.50 L167.0,606.50 L168.0,606.50 L168.0,606.50 L169.0,606.50 L169.0,606.50 L170.0,606.50 L170.0,606.50 L171.0,606.50 L171.0,606.50 L172.0,606.50 L172.0,606.50 L173.0,606.50 L173.0,606.50 L174.0,606.50 L174.0,606.50 L175.0,606.50 L175.0,606.50 L176.0,606.50 L176.0,606.50 L177.0,606.50 L177.0,606.50 L178.0,606.50 L178.0,606.50 L179.0,606.50 L179.0,606.50 L180.0,606.50 L180.0,606.50 L181.0,606.50 L181.0,606.50 L182.0,606.50 L182.0,606.50 L183.0,606.50 L183.0,606.50 L184.0,606.50 L184.0,606.50 L185.0,606.50 L185.0,606.50 L186.0,606.50 L186.0,606.50 L187.0,606.50 L187.0,606.50 L188.0,606.50 L188.0,606.50 L189.0,606.50 L189.0,606.50 L190.0,606.50 L190.0,606.50 L191.0,606.50 L191.0,606.50 L192.0,606.50 L192.0,606.50 L193.0,606.50 L193.0,606.50 L194.0,606.50 L194.0,606.50 L195.0,606.50 L195.0,606.50 L196.0,606.50 L196.0,606.50 L197.0,606.50 L197.0,606.50 L198.0,606.50 L198.0,606.50 L199.0,606.50 L199.0,606.50 L200.0,606.50 L200.0,606.50 L201.0,606.50 L201.0,606.50 L202.0,606.50 L202.0,606.50 L203.0,606.50 L203.0,606.50 L204.0,606.50 L204.0,606.50 L205.0,606.50 L205.0,606.50 L206.0,606.50 L206.0,606.50 L207.0,606.50 L207.0,606.50 L208.0,606.50 L208.0,606.50 L209.0,606.50 L209.0,606.50 L210.0,606.50 L210.0,606.50 L211.0,606.50 L211.0,606.50 L212.0,606.50 L212.0,606.50 L213.0,606.50 L213.0,606.50 L214.0,606.50 L214.0,606.50 L215.0,606.50 L215.0,606.50 L216.0,606.50 L216.0,606.50 L217.0,606.50 L217.0,606.50 L218.0,606.50 L218.0,606.50 L219.0,606.50 L219.0,606.50 L220.0,606.50 L220.0,606.50 L221.0,606.50 L221.0,606.50 L222.0,606.50 L222.0,606.50 L223.0,606.50 L223.0,606.50 L224.0,606.50 L224.0,606.50 L225.0,606.50 L225.0,606.50 L226.0,606.50 L226.0,606.50 L227.0,606.50 L227.0,606.50 L228.0,606.50 L228.0,606.50 L229.0,606.50 L229.0,606.50 L230.0,606.50 L230.0,606.50 L231.0,606.50 L231.0,606.50 L232.0,606.50 L232.0,606.50 L233.0,606.50 L233.0,606.50 L234.0,606.50 L234.0,606.50 L235.0,606.50 L235.0,606.50 L236.0,606.50 L236.0,606.50 L237.0,606.50 L237.0,606.50 L238.0,606.50 L238.0,606.50 L239.0,606.50 L239.0,606.50 L240.0,606.50 L240.0,606.50 L241.0,606.50 L241.0,606.50 L242.0,606.50 L242.0,606.50 L243.0,606.50 L243.0,606.50 L244.0,606.50 L244.0,606.50 L245.0,606.50 L245.0,606.50 L246.0,606.50 L246.0,606.50 L247.0,606.50 L247.0,606.50 L248.0,606.50 L248.0,606.50 L249.0,606.50 L249.0,606.50 L250.0,606.50 L250.0,606.50 L251.0,606.50 L251.0,606.50 L252.0,606.50 L252.0,606.50 L253.0,606.50 L253.0,606.50 L254.0,606.50 L254.0,606.50 L255.0,606.50 L255.0,606.50 L256.0,606.50 L256.0,606.50 L257.0,606.50 L257.0,606.50 L258.0,606.50 L258.0,606.50 L259.0,606.50 L259.0,606.50 L260.0,606.50 L260.0,606.50 L261.0,606.50 L261.0,606.50 L262.0,606.50 L262.0,606.50 L263.0,606.50 L263.0,606.50 L264.0,606.50 L264.0,606.50 L265.0,606.50 L265.0,606.50 L266.0,606.50 L266.0,606.50 L267.0,606.50 L267.0,606.50 L268.0,606.50 L268.0,606.50 L269.0,606.50 L269.0,606.50 L270.0,606.50 L270.0,606.50 L271.0,606.50 L271.0,606.50 L272.0,606.50 L272.0,606.50 L273.0,606.50 L273.0,606.50 L274.0,606.50 L274.0,606.50 L275.0,606.50 L275.0,606.50 L276.0,606.50 L276.0,606.50 L277.0,606.50 L277.0,606.50 L278.0,606.50 L278.0,606.50 L279.0,606.50 L279.0,606.50 L280.0,606.50 L280.0,606.50 L281.0,606.50 L281.0,606.50 L282.0,606.50 L282.0,598.30 L283.0,598.30 L283.0,604.43 L284.0,604.43 L284.0,605.64 L285.0,605.64 L285.0,606.23 L286.0,606.23 L286.0,606.30 L287.0,606.30 L287.0,606.15 L288.0,606.15 L288.0,605.60 L289.0,605.60 L289.0,605.88 L290.0,605.88 L290.0,606.49 L291.0,606.49 L291.0,606.35 L292.0,606.35 L292.0,605.81 L293.0,605.81 L293.0,606.50 L294.0,606.50 L294.0,606.50 L295.0,606.50 L295.0,606.50 L296.0,606.50 L296.0,606.50 L297.0,606.50 L297.0,606.50 L298.0,606.50 L298.0,606.50 L299.0,606.50 L299.0,606.50 L300.0,606.50 L300.0,606.50 L301.0,606.50 L301.0,606.50 L302.0,606.50 L302.0,606.50 L303.0,606.50 L303.0,606.50 L304.0,606.50 L304.0,606.50 L305.0,606.50 L305.0,606.50 L306.0,606.50 L306.0,606.50 L307.0,606.50 L307.0,606.50 L308.0,606.50 L308.0,606.50 L309.0,606.50 L309.0,606.50 L310.0,606.50 L310.0,606.50 L311.0,606.50 L311.0,606.50 L312.0,606.50 L312.0,606.50 L313.0,606.50 L313.0,606.50 L314.0,606.50 L314.0,606.50 L315.0,606.50 L315.0,606.50 L316.0,606.50 L316.0,606.50 L317.0,606.50 L317.0,606.5Z" fill="#e8252b"/>
<path d="M322.0,606.5 L322.0,606.50 L323.0,606.50 L323.0,606.50 L324.0,606.50 L324.0,606.50 L325.0,606.50 L325.0,606.50 L326.0,606.50 L326.0,606.50 L327.0,606.50 L327.0,606.50 L328.0,606.50 L328.0,606.50 L329.0,606.50 L329.0,606.50 L330.0,606.50 L330.0,606.55 L331.0,606.55 L331.0,606.64 L332.0,606.64 L332.0,606.69 L333.0,606.69 L333.0,606.87 L334.0,606.87 L334.0,606.54 L335.0,606.54 L335.0,606.77 L336.0,606.77 L336.0,606.75 L337.0,606.75 L337.0,606.71 L338.0,606.71 L338.0,606.69 L339.0,606.69 L339.0,606.75 L340.0,606.75 L340.0,606.59 L341.0,606.59 L341.0,606.61 L342.0,606.61 L342.0,606.65 L343.0,606.65 L343.0,606.59 L344.0,606.59 L344.0,606.74 L345.0,606.74 L345.0,606.65 L346.0,606.65 L346.0,606.74 L347.0,606.74 L347.0,606.79 L348.0,606.79 L348.0,606.80 L349.0,606.80 L349.0,606.75 L350.0,606.75 L350.0,606.77 L351.0,606.77 L351.0,606.76 L352.0,606.76 L352.0,606.67 L353.0,606.67 L353.0,606.63 L354.0,606.63 L354.0,606.72 L355.0,606.72 L355.0,606.59 L356.0,606.59 L356.0,606.84 L357.0,606.84 L357.0,606.60 L358.0,606.60 L358.0,606.79 L359.0,606.79 L359.0,606.87 L360.0,606.87 L360.0,606.86 L361.0,606.86 L361.0,606.81 L362.0,606.81 L362.0,606.75 L363.0,606.75 L363.0,606.57 L364.0,606.57 L364.0,606.74 L365.0,606.74 L365.0,606.67 L366.0,606.67 L366.0,607.32 L367.0,607.32 L367.0,606.69 L368.0,606.69 L368.0,606.83 L369.0,606.83 L369.0,606.79 L370.0,606.79 L370.0,606.85 L371.0,606.85 L371.0,606.88 L372.0,606.88 L372.0,606.83 L373.0,606.83 L373.0,606.81 L374.0,606.81 L374.0,606.75 L375.0,606.75 L375.0,606.67 L376.0,606.67 L376.0,606.66 L377.0,606.66 L377.0,606.60 L378.0,606.60 L378.0,606.54 L379.0,606.54 L379.0,606.75 L380.0,606.75 L380.0,606.71 L381.0,606.71 L381.0,606.73 L382.0,606.73 L382.0,606.74 L383.0,606.74 L383.0,606.85 L384.0,606.85 L384.0,606.75 L385.0,606.75 L385.0,606.79 L386.0,606.79 L386.0,606.85 L387.0,606.85 L387.0,606.92 L388.0,606.92 L388.0,606.56 L389.0,606.56 L389.0,606.66 L390.0,606.66 L390.0,606.65 L391.0,606.65 L391.0,606.65 L392.0,606.65 L392.0,606.69 L393.0,606.69 L393.0,606.72 L394.0,606.72 L394.0,607.36 L395.0,607.36 L395.0,607.28 L396.0,607.28 L396.0,606.56 L397.0,606.56 L397.0,606.86 L398.0,606.86 L398.0,606.79 L399.0,606.79 L399.0,606.68 L400.0,606.68 L400.0,606.59 L401.0,606.59 L401.0,606.65 L402.0,606.65 L402.0,606.65 L403.0,606.65 L403.0,606.78 L404.0,606.78 L404.0,606.74 L405.0,606.74 L405.0,606.80 L406.0,606.80 L406.0,606.60 L407.0,606.60 L407.0,606.69 L408.0,606.69 L408.0,606.68 L409.0,606.68 L409.0,606.65 L410.0,606.65 L410.0,606.66 L411.0,606.66 L411.0,606.64 L412.0,606.64 L412.0,606.64 L413.0,606.64 L413.0,606.77 L414.0,606.77 L414.0,606.79 L415.0,606.79 L415.0,606.75 L416.0,606.75 L416.0,606.80 L417.0,606.80 L417.0,606.62 L418.0,606.62 L418.0,606.85 L419.0,606.85 L419.0,606.69 L420.0,606.69 L420.0,606.64 L421.0,606.64 L421.0,606.77 L422.0,606.77 L422.0,606.83 L423.0,606.83 L423.0,606.60 L424.0,606.60 L424.0,606.74 L425.0,606.74 L425.0,606.89 L426.0,606.89 L426.0,606.78 L427.0,606.78 L427.0,606.84 L428.0,606.84 L428.0,606.66 L429.0,606.66 L429.0,606.74 L430.0,606.74 L430.0,606.66 L431.0,606.66 L431.0,606.69 L432.0,606.69 L432.0,606.62 L433.0,606.62 L433.0,606.62 L434.0,606.62 L434.0,606.77 L435.0,606.77 L435.0,606.54 L436.0,606.54 L436.0,606.71 L437.0,606.71 L437.0,606.89 L438.0,606.89 L438.0,606.95 L439.0,606.95 L439.0,606.91 L440.0,606.91 L440.0,606.85 L441.0,606.85 L441.0,606.67 L442.0,606.67 L442.0,607.40 L443.0,607.40 L443.0,606.76 L444.0,606.76 L444.0,606.61 L445.0,606.61 L445.0,606.54 L446.0,606.54 L446.0,606.67 L447.0,606.67 L447.0,613.48 L448.0,613.48 L448.0,624.60 L449.0,624.60 L449.0,622.28 L450.0,622.28 L450.0,614.44 L451.0,614.44 L451.0,610.64 L452.0,610.64 L452.0,616.67 L453.0,616.67 L453.0,612.16 L454.0,612.16 L454.0,611.90 L455.0,611.90 L455.0,617.18 L456.0,617.18 L456.0,611.56 L457.0,611.56 L457.0,614.82 L458.0,614.82 L458.0,607.48 L459.0,607.48 L459.0,621.48 L460.0,621.48 L460.0,626.50 L461.0,626.50 L461.0,612.10 L462.0,612.10 L462.0,612.14 L463.0,612.14 L463.0,620.15 L464.0,620.15 L464.0,623.44 L465.0,623.44 L465.0,614.06 L466.0,614.06 L466.0,607.74 L467.0,607.74 L467.0,624.56 L468.0,624.56 L468.0,608.08 L469.0,608.08 L469.0,611.64 L470.0,611.64 L470.0,622.41 L471.0,622.41 L471.0,609.31 L472.0,609.31 L472.0,626.50 L473.0,626.50 L473.0,613.11 L474.0,613.11 L474.0,613.75 L475.0,613.75 L475.0,614.25 L476.0,614.25 L476.0,626.50 L477.0,626.50 L477.0,615.28 L478.0,615.28 L478.0,607.82 L479.0,607.82 L479.0,623.19 L480.0,623.19 L480.0,607.48 L481.0,607.48 L481.0,623.62 L482.0,623.62 L482.0,613.23 L483.0,613.23 L483.0,613.15 L484.0,613.15 L484.0,623.39 L485.0,623.39 L485.0,610.93 L486.0,610.93 L486.0,609.93 L487.0,609.93 L487.0,609.45 L488.0,609.45 L488.0,608.99 L489.0,608.99 L489.0,610.39 L490.0,610.39 L490.0,623.11 L491.0,623.11 L491.0,608.39 L492.0,608.39 L492.0,617.74 L493.0,617.74 L493.0,612.88 L494.0,612.88 L494.0,623.26 L495.0,623.26 L495.0,615.91 L496.0,615.91 L496.0,608.19 L497.0,608.19 L497.0,608.12 L498.0,608.12 L498.0,609.88 L499.0,609.88 L499.0,622.69 L500.0,622.69 L500.0,626.50 L501.0,626.50 L501.0,607.48 L502.0,607.48 L502.0,611.35 L503.0,611.35 L503.0,607.48 L504.0,607.48 L504.0,609.45 L505.0,609.45 L505.0,617.35 L506.0,617.35 L506.0,609.08 L507.0,609.08 L507.0,619.84 L508.0,619.84 L508.0,609.15 L509.0,609.15 L509.0,610.71 L510.0,610.71 L510.0,610.65 L511.0,610.65 L511.0,625.77 L512.0,625.77 L512.0,612.94 L513.0,612.94 L513.0,614.95 L514.0,614.95 L514.0,617.84 L515.0,617.84 L515.0,626.50 L516.0,626.50 L516.0,623.75 L517.0,623.75 L517.0,618.07 L518.0,618.07 L518.0,607.48 L519.0,607.48 L519.0,611.72 L520.0,611.72 L520.0,614.00 L521.0,614.00 L521.0,626.39 L522.0,626.39 L522.0,607.48 L523.0,607.48 L523.0,607.48 L524.0,607.48 L524.0,607.48 L525.0,607.48 L525.0,624.72 L526.0,624.72 L526.0,608.66 L527.0,608.66 L527.0,626.50 L528.0,626.50 L528.0,612.14 L529.0,612.14 L529.0,615.87 L530.0,615.87 L530.0,613.99 L531.0,613.99 L531.0,619.44 L532.0,619.44 L532.0,619.94 L533.0,619.94 L533.0,609.64 L534.0,609.64 L534.0,619.13 L535.0,619.13 L535.0,625.50 L536.0,625.50 L536.0,620.66 L537.0,620.66 L537.0,620.57 L538.0,620.57 L538.0,608.70 L539.0,608.70 L539.0,607.82 L540.0,607.82 L540.0,607.48 L541.0,607.48 L541.0,607.48 L542.0,607.48 L542.0,608.55 L543.0,608.55 L543.0,608.97 L544.0,608.97 L544.0,626.50 L545.0,626.50 L545.0,616.93 L546.0,616.93 L546.0,621.30 L547.0,621.30 L547.0,622.94 L548.0,622.94 L548.0,606.50 L549.0,606.50 L549.0,606.50 L550.0,606.50 L550.0,606.50 L551.0,606.50 L551.0,606.50 L552.0,606.50 L552.0,606.50 L553.0,606.50 L553.0,606.50 L554.0,606.50 L554.0,606.50 L555.0,606.50 L555.0,606.50 L556.0,606.50 L556.0,606.50 L557.0,606.50 L557.0,606.50 L558.0,606.50 L558.0,606.50 L559.0,606.50 L559.0,606.50 L560.0,606.50 L560.0,606.50 L561.0,606.50 L561.0,606.50 L562.0,606.50 L562.0,606.50 L563.0,606.50 L563.0,606.50 L564.0,606.50 L564.0,606.50 L565.0,606.50 L565.0,606.50 L566.0,606.50 L566.0,606.5Z" fill="#e8252b"/><path d="M322.0,606.5 L322.0,606.50 L323.0,606.50 L323.0,606.50 L324.0,606.50 L324.0,606.50 L325.0,606.50 L325.0,606.50 L326.0,606.50 L326.0,606.50 L327.0,606.50 L327.0,606.50 L328.0,606.50 L328.0,606.50 L329.0,606.50 L329.0,606.50 L330.0,606.50 L330.0,606.50 L331.0,606.50 L331.0,606.50 L332.0,606.50 L332.0,606.50 L333.0,606.50 L333.0,606.50 L334.0,606.50 L334.0,606.50 L335.0,606.50 L335.0,606.50 L336.0,606.50 L336.0,606.50 L337.0,606.50 L337.0,606.50 L338.0,606.50 L338.0,606.50 L339.0,606.50 L339.0,606.50 L340.0,606.50 L340.0,606.50 L341.0,606.50 L341.0,606.50 L342.0,606.50 L342.0,606.50 L343.0,606.50 L343.0,606.50 L344.0,606.50 L344.0,606.50 L345.0,606.50 L345.0,606.50 L346.0,606.50 L346.0,606.50 L347.0,606.50 L347.0,606.50 L348.0,606.50 L348.0,606.50 L349.0,606.50 L349.0,606.50 L350.0,606.50 L350.0,606.50 L351.0,606.50 L351.0,606.50 L352.0,606.50 L352.0,606.50 L353.0,606.50 L353.0,606.50 L354.0,606.50 L354.0,606.50 L355.0,606.50 L355.0,606.50 L356.0,606.50 L356.0,606.50 L357.0,606.50 L357.0,606.50 L358.0,606.50 L358.0,606.50 L359.0,606.50 L359.0,606.50 L360.0,606.50 L360.0,606.50 L361.0,606.50 L361.0,606.50 L362.0,606.50 L362.0,606.50 L363.0,606.50 L363.0,606.50 L364.0,606.50 L364.0,606.50 L365.0,606.50 L365.0,606.50 L366.0,606.50 L366.0,606.50 L367.0,606.50 L367.0,606.50 L368.0,606.50 L368.0,606.50 L369.0,606.50 L369.0,606.50 L370.0,606.50 L370.0,606.50 L371.0,606.50 L371.0,606.50 L372.0,606.50 L372.0,606.50 L373.0,606.50 L373.0,606.50 L374.0,606.50 L374.0,606.50 L375.0,606.50 L375.0,606.50 L376.0,606.50 L376.0,606.50 L377.0,606.50 L377.0,606.50 L378.0,606.50 L378.0,606.50 L379.0,606.50 L379.0,606.50 L380.0,606.50 L380.0,606.50 L381.0,606.50 L381.0,606.50 L382.0,606.50 L382.0,606.50 L383.0,606.50 L383.0,606.50 L384.0,606.50 L384.0,606.50 L385.0,606.50 L385.0,606.50 L386.0,606.50 L386.0,606.50 L387.0,606.50 L387.0,606.50 L388.0,606.50 L388.0,606.50 L389.0,606.50 L389.0,606.50 L390.0,606.50 L390.0,606.50 L391.0,606.50 L391.0,606.50 L392.0,606.50 L392.0,606.50 L393.0,606.50 L393.0,606.50 L394.0,606.50 L394.0,606.50 L395.0,606.50 L395.0,606.50 L396.0,606.50 L396.0,606.50 L397.0,606.50 L397.0,606.50 L398.0,606.50 L398.0,606.50 L399.0,606.50 L399.0,606.50 L400.0,606.50 L400.0,606.50 L401.0,606.50 L401.0,606.50 L402.0,606.50 L402.0,606.50 L403.0,606.50 L403.0,606.50 L404.0,606.50 L404.0,606.50 L405.0,606.50 L405.0,606.50 L406.0,606.50 L406.0,606.50 L407.0,606.50 L407.0,606.50 L408.0,606.50 L408.0,606.50 L409.0,606.50 L409.0,606.50 L410.0,606.50 L410.0,606.50 L411.0,606.50 L411.0,606.50 L412.0,606.50 L412.0,606.50 L413.0,606.50 L413.0,606.50 L414.0,606.50 L414.0,606.50 L415.0,606.50 L415.0,606.50 L416.0,606.50 L416.0,606.50 L417.0,606.50 L417.0,606.50 L418.0,606.50 L418.0,606.50 L419.0,606.50 L419.0,606.50 L420.0,606.50 L420.0,606.50 L421.0,606.50 L421.0,606.50 L422.0,606.50 L422.0,606.50 L423.0,606.50 L423.0,606.50 L424.0,606.50 L424.0,606.50 L425.0,606.50 L425.0,606.50 L426.0,606.50 L426.0,606.50 L427.0,606.50 L427.0,606.50 L428.0,606.50 L428.0,606.50 L429.0,606.50 L429.0,606.50 L430.0,606.50 L430.0,606.50 L431.0,606.50 L431.0,606.50 L432.0,606.50 L432.0,606.50 L433.0,606.50 L433.0,606.50 L434.0,606.50 L434.0,606.50 L435.0,606.50 L435.0,606.50 L436.0,606.50 L436.0,606.50 L437.0,606.50 L437.0,606.50 L438.0,606.50 L438.0,606.50 L439.0,606.50 L439.0,606.50 L440.0,606.50 L440.0,606.50 L441.0,606.50 L441.0,606.50 L442.0,606.50 L442.0,606.50 L443.0,606.50 L443.0,606.50 L444.0,606.50 L444.0,606.50 L445.0,606.50 L445.0,606.50 L446.0,606.50 L446.0,606.50 L447.0,606.50 L447.0,606.50 L448.0,606.50 L448.0,606.50 L449.0,606.50 L449.0,606.50 L450.0,606.50 L450.0,606.50 L451.0,606.50 L451.0,606.50 L452.0,606.50 L452.0,606.50 L453.0,606.50 L453.0,606.50 L454.0,606.50 L454.0,606.50 L455.0,606.50 L455.0,606.50 L456.0,606.50 L456.0,606.50 L457.0,606.50 L457.0,606.50 L458.0,606.50 L458.0,606.50 L459.0,606.50 L459.0,606.50 L460.0,606.50 L460.0,606.50 L461.0,606.50 L461.0,606.50 L462.0,606.50 L462.0,606.50 L463.0,606.50 L463.0,606.50 L464.0,606.50 L464.0,606.50 L465.0,606.50 L465.0,606.50 L466.0,606.50 L466.0,606.50 L467.0,606.50 L467.0,606.50 L468.0,606.50 L468.0,606.50 L469.0,606.50 L469.0,606.50 L470.0,606.50 L470.0,606.50 L471.0,606.50 L471.0,606.50 L472.0,606.50 L472.0,606.50 L473.0,606.50 L473.0,606.50 L474.0,606.50 L474.0,606.50 L475.0,606.50 L475.0,606.50 L476.0,606.50 L476.0,606.50 L477.0,606.50 L477.0,606.50 L478.0,606.50 L478.0,606.50 L479.0,606.50 L479.0,606.50 L480.0,606.50 L480.0,606.50 L481.0,606.50 L481.0,606.50 L482.0,606.50 L482.0,606.50 L483.0,606.50 L483.0,606.50 L484.0,606.50 L484.0,606.50 L485.0,606.50 L485.0,606.50 L486.0,606.50 L486.0,606.50 L487.0,606.50 L487.0,606.50 L488.0,606.50 L488.0,606.50 L489.0,606.50 L489.0,606.50 L490.0,606.50 L490.0,606.50 L491.0,606.50 L491.0,606.50 L492.0,606.50 L492.0,606.50 L493.0,606.50 L493.0,606.50 L494.0,606.50 L494.0,606.50 L495.0,606.50 L495.0,606.50 L496.0,606.50 L496.0,606.50 L497.0,606.50 L497.0,606.50 L498.0,606.50 L498.0,606.50 L499.0,606.50 L499.0,606.50 L500.0,606.50 L500.0,606.50 L501.0,606.50 L501.0,606.50 L502.0,606.50 L502.0,606.50 L503.0,606.50 L503.0,606.50 L504.0,606.50 L504.0,606.50 L505.0,606.50 L505.0,606.50 L506.0,606.50 L506.0,606.50 L507.0,606.50 L507.0,606.50 L508.0,606.50 L508.0,606.50 L509.0,606.50 L509.0,606.50 L510.0,606.50 L510.0,606.50 L511.0,606.50 L511.0,606.50 L512.0,606.50 L512.0,606.50 L513.0,606.50 L513.0,606.50 L514.0,606.50 L514.0,606.50 L515.0,606.50 L515.0,606.50 L516.0,606.50 L516.0,606.50 L517.0,606.50 L517.0,606.50 L518.0,606.50 L518.0,606.50 L519.0,606.50 L519.0,606.50 L520.0,606.50 L520.0,606.50 L521.0,606.50 L521.0,606.50 L522.0,606.50 L522.0,606.50 L523.0,606.50 L523.0,606.50 L524.0,606.50 L524.0,606.50 L525.0,606.50 L525.0,606.50 L526.0,606.50 L526.0,606.50 L527.0,606.50 L527.0,606.50 L528.0,606.50 L528.0,606.50 L529.0,606.50 L529.0,606.50 L530.0,606.50 L530.0,606.50 L531.0,606.50 L531.0,606.50 L532.0,606.50 L532.0,606.50 L533.0,606.50 L533.0,606.50 L534.0,606.50 L534.0,606.50 L535.0,606.50 L535.0,606.50 L536.0,606.50 L536.0,606.50 L537.0,606.50 L537.0,606.50 L538.0,606.50 L538.0,606.50 L539.0,606.50 L539.0,606.50 L540.0,606.50 L540.0,606.50 L541.0,606.50 L541.0,606.50 L542.0,606.50 L542.0,586.30 L543.0,586.30 L543.0,594.50 L544.0,594.50 L544.0,604.68 L545.0,604.68 L545.0,604.95 L546.0,604.95 L546.0,605.74 L547.0,605.74 L547.0,605.79 L548.0,605.79 L548.0,606.41 L549.0,606.41 L549.0,606.47 L550.0,606.47 L550.0,606.41 L551.0,606.41 L551.0,606.49 L552.0,606.49 L552.0,605.67 L553.0,605.67 L553.0,606.50 L554.0,606.50 L554.0,605.64 L555.0,605.64 L555.0,606.22 L556.0,606.22 L556.0,606.50 L557.0,606.50 L557.0,606.50 L558.0,606.50 L558.0,606.50 L559.0,606.50 L559.0,606.50 L560.0,606.50 L560.0,606.50 L561.0,606.50 L561.0,606.50 L562.0,606.50 L562.0,606.50 L563.0,606.50 L563.0,606.50 L564.0,606.50 L564.0,606.50 L565.0,606.50 L565.0,606.50 L566.0,606.50 L566.0,606.5Z" fill="#e8252b"/>
<line x1="112.00" y1="658.30" x2="317.00" y2="658.30" stroke="#b8b8b8" stroke-width="1.0" />
<line x1="322.00" y1="658.30" x2="566.00" y2="658.30" stroke="#b8b8b8" stroke-width="1.0" />
<line x1="112.00" y1="685.50" x2="317.00" y2="685.50" stroke="#b8b8b8" stroke-width="1.0" />
<line x1="322.00" y1="685.50" x2="566.00" y2="685.50" stroke="#b8b8b8" stroke-width="1.0" />
<path d="M112.0,658.4 L112.0,658.40 L112.5,658.40 L112.5,658.40 L113.0,658.40 L113.0,658.36 L113.5,658.36 L113.5,658.40 L114.0,658.40 L114.0,658.40 L114.5,658.40 L114.5,658.40 L115.0,658.40 L115.0,658.40 L115.5,658.40 L115.5,658.40 L116.0,658.40 L116.0,658.40 L116.5,658.40 L116.5,658.40 L117.0,658.40 L117.0,658.40 L117.5,658.40 L117.5,658.40 L118.0,658.40 L118.0,658.08 L118.5,658.08 L118.5,658.40 L119.0,658.40 L119.0,657.85 L119.5,657.85 L119.5,658.40 L120.0,658.40 L120.0,658.40 L120.5,658.40 L120.5,658.40 L121.0,658.40 L121.0,658.40 L121.5,658.40 L121.5,658.40 L122.0,658.40 L122.0,658.37 L122.5,658.37 L122.5,658.40 L123.0,658.40 L123.0,658.40 L123.5,658.40 L123.5,658.40 L124.0,658.40 L124.0,658.40 L124.5,658.40 L124.5,658.40 L125.0,658.40 L125.0,658.36 L125.5,658.36 L125.5,658.40 L126.0,658.40 L126.0,658.40 L126.5,658.40 L126.5,658.40 L127.0,658.40 L127.0,658.40 L127.5,658.40 L127.5,658.40 L128.0,658.40 L128.0,658.40 L128.5,658.40 L128.5,658.40 L129.0,658.40 L129.0,658.40 L129.5,658.40 L129.5,658.40 L130.0,658.40 L130.0,658.40 L130.5,658.40 L130.5,658.40 L131.0,658.40 L131.0,657.85 L131.5,657.85 L131.5,658.40 L132.0,658.40 L132.0,658.40 L132.5,658.40 L132.5,658.18 L133.0,658.18 L133.0,658.40 L133.5,658.40 L133.5,658.40 L134.0,658.40 L134.0,658.40 L134.5,658.40 L134.5,658.35 L135.0,658.35 L135.0,658.39 L135.5,658.39 L135.5,658.40 L136.0,658.40 L136.0,658.40 L136.5,658.40 L136.5,658.40 L137.0,658.40 L137.0,658.40 L137.5,658.40 L137.5,658.40 L138.0,658.40 L138.0,658.40 L138.5,658.40 L138.5,658.19 L139.0,658.19 L139.0,658.40 L139.5,658.40 L139.5,658.40 L140.0,658.40 L140.0,657.92 L140.5,657.92 L140.5,658.40 L141.0,658.40 L141.0,658.40 L141.5,658.40 L141.5,658.40 L142.0,658.40 L142.0,658.40 L142.5,658.40 L142.5,658.40 L143.0,658.40 L143.0,658.40 L143.5,658.40 L143.5,658.40 L144.0,658.40 L144.0,658.40 L144.5,658.40 L144.5,658.40 L145.0,658.40 L145.0,658.40 L145.5,658.40 L145.5,658.40 L146.0,658.40 L146.0,658.40 L146.5,658.40 L146.5,658.40 L147.0,658.40 L147.0,658.40 L147.5,658.40 L147.5,658.40 L148.0,658.40 L148.0,658.40 L148.5,658.40 L148.5,658.40 L149.0,658.40 L149.0,658.40 L149.5,658.40 L149.5,658.40 L150.0,658.40 L150.0,658.40 L150.5,658.40 L150.5,658.40 L151.0,658.40 L151.0,658.40 L151.5,658.40 L151.5,658.40 L152.0,658.40 L152.0,658.40 L152.5,658.40 L152.5,658.40 L153.0,658.40 L153.0,658.40 L153.5,658.40 L153.5,658.40 L154.0,658.40 L154.0,658.40 L154.5,658.40 L154.5,658.40 L155.0,658.40 L155.0,658.40 L155.5,658.40 L155.5,658.40 L156.0,658.40 L156.0,658.40 L156.5,658.40 L156.5,658.40 L157.0,658.40 L157.0,658.40 L157.5,658.40 L157.5,658.40 L158.0,658.40 L158.0,658.40 L158.5,658.40 L158.5,658.40 L159.0,658.40 L159.0,658.25 L159.5,658.25 L159.5,658.40 L160.0,658.40 L160.0,658.40 L160.5,658.40 L160.5,658.40 L161.0,658.40 L161.0,658.40 L161.5,658.40 L161.5,658.40 L162.0,658.40 L162.0,658.40 L162.5,658.40 L162.5,658.40 L163.0,658.40 L163.0,658.24 L163.5,658.24 L163.5,658.40 L164.0,658.40 L164.0,658.29 L164.5,658.29 L164.5,658.40 L165.0,658.40 L165.0,658.40 L165.5,658.40 L165.5,658.40 L166.0,658.40 L166.0,658.40 L166.5,658.40 L166.5,658.40 L167.0,658.40 L167.0,658.40 L167.5,658.40 L167.5,657.85 L168.0,657.85 L168.0,658.28 L168.5,658.28 L168.5,658.24 L169.0,658.24 L169.0,658.40 L169.5,658.40 L169.5,658.40 L170.0,658.40 L170.0,658.40 L170.5,658.40 L170.5,658.40 L171.0,658.40 L171.0,658.40 L171.5,658.40 L171.5,658.40 L172.0,658.40 L172.0,658.40 L172.5,658.40 L172.5,658.40 L173.0,658.40 L173.0,658.40 L173.5,658.40 L173.5,658.40 L174.0,658.40 L174.0,658.40 L174.5,658.40 L174.5,658.40 L175.0,658.40 L175.0,657.90 L175.5,657.90 L175.5,658.40 L176.0,658.40 L176.0,658.29 L176.5,658.29 L176.5,658.40 L177.0,658.40 L177.0,658.40 L177.5,658.40 L177.5,658.40 L178.0,658.40 L178.0,658.40 L178.5,658.40 L178.5,658.35 L179.0,658.35 L179.0,658.40 L179.5,658.40 L179.5,658.40 L180.0,658.40 L180.0,658.36 L180.5,658.36 L180.5,658.40 L181.0,658.40 L181.0,658.40 L181.5,658.40 L181.5,658.40 L182.0,658.40 L182.0,658.40 L182.5,658.40 L182.5,658.40 L183.0,658.40 L183.0,658.40 L183.5,658.40 L183.5,658.25 L184.0,658.25 L184.0,658.40 L184.5,658.40 L184.5,658.40 L185.0,658.40 L185.0,658.17 L185.5,658.17 L185.5,657.92 L186.0,657.92 L186.0,658.35 L186.5,658.35 L186.5,658.40 L187.0,658.40 L187.0,658.20 L187.5,658.20 L187.5,658.40 L188.0,658.40 L188.0,658.40 L188.5,658.40 L188.5,658.40 L189.0,658.40 L189.0,658.40 L189.5,658.40 L189.5,658.40 L190.0,658.40 L190.0,658.40 L190.5,658.40 L190.5,658.40 L191.0,658.40 L191.0,658.40 L191.5,658.40 L191.5,658.40 L192.0,658.40 L192.0,658.40 L192.5,658.40 L192.5,658.40 L193.0,658.40 L193.0,658.40 L193.5,658.40 L193.5,658.40 L194.0,658.40 L194.0,658.40 L194.5,658.40 L194.5,658.29 L195.0,658.29 L195.0,658.40 L195.5,658.40 L195.5,658.40 L196.0,658.40 L196.0,658.40 L196.5,658.40 L196.5,658.04 L197.0,658.04 L197.0,658.40 L197.5,658.40 L197.5,658.40 L198.0,658.40 L198.0,658.40 L198.5,658.40 L198.5,658.40 L199.0,658.40 L199.0,658.16 L199.5,658.16 L199.5,658.40 L200.0,658.40 L200.0,658.40 L200.5,658.40 L200.5,657.85 L201.0,657.85 L201.0,658.40 L201.5,658.40 L201.5,658.40 L202.0,658.40 L202.0,658.40 L202.5,658.40 L202.5,658.40 L203.0,658.40 L203.0,658.40 L203.5,658.40 L203.5,658.40 L204.0,658.40 L204.0,658.40 L204.5,658.40 L204.5,658.40 L205.0,658.40 L205.0,658.40 L205.5,658.40 L205.5,658.40 L206.0,658.40 L206.0,658.40 L206.5,658.40 L206.5,658.40 L207.0,658.40 L207.0,658.40 L207.5,658.40 L207.5,658.40 L208.0,658.40 L208.0,658.40 L208.5,658.40 L208.5,658.40 L209.0,658.40 L209.0,658.40 L209.5,658.40 L209.5,658.40 L210.0,658.40 L210.0,658.40 L210.5,658.40 L210.5,658.40 L211.0,658.40 L211.0,658.40 L211.5,658.40 L211.5,658.40 L212.0,658.40 L212.0,658.15 L212.5,658.15 L212.5,658.40 L213.0,658.40 L213.0,658.40 L213.5,658.40 L213.5,658.40 L214.0,658.40 L214.0,658.40 L214.5,658.40 L214.5,658.40 L215.0,658.40 L215.0,658.40 L215.5,658.40 L215.5,658.40 L216.0,658.40 L216.0,658.40 L216.5,658.40 L216.5,657.85 L217.0,657.85 L217.0,658.40 L217.5,658.40 L217.5,658.40 L218.0,658.40 L218.0,658.40 L218.5,658.40 L218.5,658.40 L219.0,658.40 L219.0,658.40 L219.5,658.40 L219.5,658.40 L220.0,658.40 L220.0,658.40 L220.5,658.40 L220.5,658.33 L221.0,658.33 L221.0,658.40 L221.5,658.40 L221.5,658.02 L222.0,658.02 L222.0,658.40 L222.5,658.40 L222.5,658.40 L223.0,658.40 L223.0,658.40 L223.5,658.40 L223.5,658.39 L224.0,658.39 L224.0,658.37 L224.5,658.37 L224.5,658.35 L225.0,658.35 L225.0,658.26 L225.5,658.26 L225.5,658.06 L226.0,658.06 L226.0,657.69 L226.5,657.69 L226.5,657.09 L227.0,657.09 L227.0,656.26 L227.5,656.26 L227.5,655.33 L228.0,655.33 L228.0,654.51 L228.5,654.51 L228.5,654.04 L229.0,654.04 L229.0,654.10 L229.5,654.10 L229.5,654.65 L230.0,654.65 L230.0,655.52 L230.5,655.52 L230.5,656.44 L231.0,656.44 L231.0,657.23 L231.5,657.23 L231.5,657.78 L232.0,657.78 L232.0,658.11 L232.5,658.11 L232.5,658.28 L233.0,658.28 L233.0,658.36 L233.5,658.36 L233.5,658.39 L234.0,658.39 L234.0,657.85 L234.5,657.85 L234.5,658.11 L235.0,658.11 L235.0,658.40 L235.5,658.40 L235.5,658.40 L236.0,658.40 L236.0,658.40 L236.5,658.40 L236.5,657.95 L237.0,657.95 L237.0,658.40 L237.5,658.40 L237.5,658.40 L238.0,658.40 L238.0,658.40 L238.5,658.40 L238.5,658.40 L239.0,658.40 L239.0,658.40 L239.5,658.40 L239.5,658.39 L240.0,658.39 L240.0,657.85 L240.5,657.85 L240.5,658.30 L241.0,658.30 L241.0,658.15 L241.5,658.15 L241.5,657.83 L242.0,657.83 L242.0,657.28 L242.5,657.28 L242.5,656.54 L243.0,656.54 L243.0,655.75 L243.5,655.75 L243.5,655.16 L244.0,655.16 L244.0,655.01 L244.5,655.01 L244.5,655.36 L245.0,655.36 L245.0,656.06 L245.5,656.06 L245.5,656.86 L246.0,656.86 L246.0,657.53 L246.5,657.53 L246.5,657.98 L247.0,657.98 L247.0,658.22 L247.5,658.22 L247.5,658.34 L248.0,658.34 L248.0,658.38 L248.5,658.38 L248.5,658.40 L249.0,658.40 L249.0,658.28 L249.5,658.28 L249.5,658.40 L250.0,658.40 L250.0,658.40 L250.5,658.40 L250.5,658.40 L251.0,658.40 L251.0,658.40 L251.5,658.40 L251.5,658.40 L252.0,658.40 L252.0,658.40 L252.5,658.40 L252.5,658.29 L253.0,658.29 L253.0,658.26 L253.5,658.26 L253.5,658.40 L254.0,658.40 L254.0,658.40 L254.5,658.40 L254.5,658.02 L255.0,658.02 L255.0,658.20 L255.5,658.20 L255.5,658.40 L256.0,658.40 L256.0,658.40 L256.5,658.40 L256.5,658.40 L257.0,658.40 L257.0,658.40 L257.5,658.40 L257.5,658.40 L258.0,658.40 L258.0,658.40 L258.5,658.40 L258.5,658.40 L259.0,658.40 L259.0,658.40 L259.5,658.40 L259.5,658.40 L260.0,658.40 L260.0,658.40 L260.5,658.40 L260.5,658.40 L261.0,658.40 L261.0,658.40 L261.5,658.40 L261.5,658.40 L262.0,658.40 L262.0,658.40 L262.5,658.40 L262.5,658.40 L263.0,658.40 L263.0,658.40 L263.5,658.40 L263.5,657.92 L264.0,657.92 L264.0,658.38 L264.5,658.38 L264.5,658.35 L265.0,658.35 L265.0,658.29 L265.5,658.29 L265.5,658.13 L266.0,658.13 L266.0,657.93 L266.5,657.93 L266.5,657.52 L267.0,657.52 L267.0,656.85 L267.5,656.85 L267.5,655.79 L268.0,655.79 L268.0,654.27 L268.5,654.27 L268.5,652.20 L269.0,652.20 L269.0,649.60 L269.5,649.60 L269.5,646.59 L270.0,646.59 L270.0,643.40 L270.5,643.40 L270.5,640.38 L271.0,640.38 L271.0,637.93 L271.5,637.93 L271.5,636.39 L272.0,636.39 L272.0,636.02 L272.5,636.02 L272.5,636.88 L273.0,636.88 L273.0,638.82 L273.5,638.82 L273.5,641.55 L274.0,641.55 L274.0,644.68 L274.5,644.68 L274.5,647.83 L275.0,647.83 L275.0,650.70 L275.5,650.70 L275.5,651.58 L276.0,651.58 L276.0,652.82 L276.5,652.82 L276.5,654.18 L277.0,654.18 L277.0,655.46 L277.5,655.46 L277.5,656.50 L278.0,656.50 L278.0,657.27 L278.5,657.27 L278.5,657.78 L279.0,657.78 L279.0,658.09 L279.5,658.09 L279.5,658.25 L280.0,658.25 L280.0,658.34 L280.5,658.34 L280.5,658.37 L281.0,658.37 L281.0,658.39 L281.5,658.39 L281.5,658.40 L282.0,658.40 L282.0,658.40 L282.5,658.40 L282.5,658.40 L283.0,658.40 L283.0,658.40 L283.5,658.40 L283.5,658.40 L284.0,658.40 L284.0,658.40 L284.5,658.40 L284.5,658.40 L285.0,658.40 L285.0,658.40 L285.5,658.40 L285.5,658.40 L286.0,658.40 L286.0,658.40 L286.5,658.40 L286.5,658.40 L287.0,658.40 L287.0,658.40 L287.5,658.40 L287.5,658.40 L288.0,658.40 L288.0,658.40 L288.5,658.40 L288.5,657.85 L289.0,657.85 L289.0,658.15 L289.5,658.15 L289.5,658.40 L290.0,658.40 L290.0,658.40 L290.5,658.40 L290.5,658.14 L291.0,658.14 L291.0,658.36 L291.5,658.36 L291.5,658.40 L292.0,658.40 L292.0,658.40 L292.5,658.40 L292.5,658.40 L293.0,658.40 L293.0,658.28 L293.5,658.28 L293.5,658.40 L294.0,658.40 L294.0,658.40 L294.5,658.40 L294.5,658.40 L295.0,658.40 L295.0,658.40 L295.5,658.40 L295.5,658.40 L296.0,658.40 L296.0,658.40 L296.5,658.40 L296.5,658.16 L297.0,658.16 L297.0,658.36 L297.5,658.36 L297.5,658.40 L298.0,658.40 L298.0,658.40 L298.5,658.40 L298.5,658.40 L299.0,658.40 L299.0,658.40 L299.5,658.40 L299.5,658.31 L300.0,658.31 L300.0,658.40 L300.5,658.40 L300.5,658.40 L301.0,658.40 L301.0,658.40 L301.5,658.40 L301.5,658.40 L302.0,658.40 L302.0,658.40 L302.5,658.40 L302.5,658.40 L303.0,658.40 L303.0,658.40 L303.5,658.40 L303.5,658.40 L304.0,658.40 L304.0,658.25 L304.5,658.25 L304.5,658.34 L305.0,658.34 L305.0,658.33 L305.5,658.33 L305.5,658.40 L306.0,658.40 L306.0,658.40 L306.5,658.40 L306.5,658.40 L307.0,658.40 L307.0,658.40 L307.5,658.40 L307.5,658.40 L308.0,658.40 L308.0,658.40 L308.5,658.40 L308.5,658.40 L309.0,658.40 L309.0,658.40 L309.5,658.40 L309.5,658.40 L310.0,658.40 L310.0,658.40 L310.5,658.40 L310.5,658.15 L311.0,658.15 L311.0,657.88 L311.5,657.88 L311.5,658.40 L312.0,658.40 L312.0,658.40 L312.5,658.40 L312.5,658.40 L313.0,658.40 L313.0,658.35 L313.5,658.35 L313.5,658.40 L314.0,658.40 L314.0,658.40 L314.5,658.40 L314.5,658.40 L315.0,658.40 L315.0,658.40 L315.5,658.40 L315.5,658.40 L316.0,658.40 L316.0,658.40 L316.5,658.40 L316.5,658.40 L317.0,658.40 L317.0,658.4Z" fill="#2fae55"/>
<path d="M112.0,685.2 L112.0,684.89 L112.5,684.89 L112.5,685.20 L113.0,685.20 L113.0,685.20 L113.5,685.20 L113.5,685.20 L114.0,685.20 L114.0,684.72 L114.5,684.72 L114.5,685.20 L115.0,685.20 L115.0,685.20 L115.5,685.20 L115.5,685.20 L116.0,685.20 L116.0,685.20 L116.5,685.20 L116.5,685.20 L117.0,685.20 L117.0,685.20 L117.5,685.20 L117.5,685.20 L118.0,685.20 L118.0,685.20 L118.5,685.20 L118.5,685.20 L119.0,685.20 L119.0,685.20 L119.5,685.20 L119.5,685.20 L120.0,685.20 L120.0,685.20 L120.5,685.20 L120.5,685.20 L121.0,685.20 L121.0,685.20 L121.5,685.20 L121.5,685.20 L122.0,685.20 L122.0,685.08 L122.5,685.08 L122.5,685.20 L123.0,685.20 L123.0,685.20 L123.5,685.20 L123.5,685.20 L124.0,685.20 L124.0,684.90 L124.5,684.90 L124.5,685.20 L125.0,685.20 L125.0,685.20 L125.5,685.20 L125.5,685.02 L126.0,685.02 L126.0,685.20 L126.5,685.20 L126.5,685.20 L127.0,685.20 L127.0,685.20 L127.5,685.20 L127.5,685.20 L128.0,685.20 L128.0,685.20 L128.5,685.20 L128.5,685.20 L129.0,685.20 L129.0,685.20 L129.5,685.20 L129.5,685.20 L130.0,685.20 L130.0,685.20 L130.5,685.20 L130.5,685.20 L131.0,685.20 L131.0,685.20 L131.5,685.20 L131.5,685.20 L132.0,685.20 L132.0,685.20 L132.5,685.20 L132.5,685.20 L133.0,685.20 L133.0,685.20 L133.5,685.20 L133.5,684.85 L134.0,684.85 L134.0,685.20 L134.5,685.20 L134.5,685.20 L135.0,685.20 L135.0,685.20 L135.5,685.20 L135.5,685.20 L136.0,685.20 L136.0,685.20 L136.5,685.20 L136.5,685.04 L137.0,685.04 L137.0,685.20 L137.5,685.20 L137.5,685.20 L138.0,685.20 L138.0,685.20 L138.5,685.20 L138.5,685.20 L139.0,685.20 L139.0,685.20 L139.5,685.20 L139.5,685.20 L140.0,685.20 L140.0,685.20 L140.5,685.20 L140.5,685.20 L141.0,685.20 L141.0,684.54 L141.5,684.54 L141.5,685.20 L142.0,685.20 L142.0,685.20 L142.5,685.20 L142.5,685.20 L143.0,685.20 L143.0,685.20 L143.5,685.20 L143.5,685.08 L144.0,685.08 L144.0,685.20 L144.5,685.20 L144.5,685.20 L145.0,685.20 L145.0,685.20 L145.5,685.20 L145.5,685.20 L146.0,685.20 L146.0,685.20 L146.5,685.20 L146.5,685.20 L147.0,685.20 L147.0,685.20 L147.5,685.20 L147.5,685.20 L148.0,685.20 L148.0,685.08 L148.5,685.08 L148.5,684.65 L149.0,684.65 L149.0,685.20 L149.5,685.20 L149.5,685.20 L150.0,685.20 L150.0,684.98 L150.5,684.98 L150.5,685.20 L151.0,685.20 L151.0,685.20 L151.5,685.20 L151.5,685.20 L152.0,685.20 L152.0,685.20 L152.5,685.20 L152.5,685.20 L153.0,685.20 L153.0,685.20 L153.5,685.20 L153.5,685.20 L154.0,685.20 L154.0,685.20 L154.5,685.20 L154.5,685.20 L155.0,685.20 L155.0,685.20 L155.5,685.20 L155.5,685.20 L156.0,685.20 L156.0,685.20 L156.5,685.20 L156.5,685.20 L157.0,685.20 L157.0,685.20 L157.5,685.20 L157.5,685.20 L158.0,685.20 L158.0,685.20 L158.5,685.20 L158.5,685.15 L159.0,685.15 L159.0,685.20 L159.5,685.20 L159.5,685.04 L160.0,685.04 L160.0,685.20 L160.5,685.20 L160.5,685.20 L161.0,685.20 L161.0,685.20 L161.5,685.20 L161.5,685.20 L162.0,685.20 L162.0,685.20 L162.5,685.20 L162.5,685.20 L163.0,685.20 L163.0,685.20 L163.5,685.20 L163.5,685.20 L164.0,685.20 L164.0,685.20 L164.5,685.20 L164.5,685.20 L165.0,685.20 L165.0,685.20 L165.5,685.20 L165.5,685.20 L166.0,685.20 L166.0,685.20 L166.5,685.20 L166.5,685.20 L167.0,685.20 L167.0,685.20 L167.5,685.20 L167.5,685.20 L168.0,685.20 L168.0,685.20 L168.5,685.20 L168.5,685.20 L169.0,685.20 L169.0,685.20 L169.5,685.20 L169.5,685.20 L170.0,685.20 L170.0,685.20 L170.5,685.20 L170.5,685.20 L171.0,685.20 L171.0,685.19 L171.5,685.19 L171.5,685.13 L172.0,685.13 L172.0,685.20 L172.5,685.20 L172.5,685.20 L173.0,685.20 L173.0,685.20 L173.5,685.20 L173.5,685.20 L174.0,685.20 L174.0,685.20 L174.5,685.20 L174.5,685.20 L175.0,685.20 L175.0,685.20 L175.5,685.20 L175.5,684.54 L176.0,684.54 L176.0,685.02 L176.5,685.02 L176.5,685.20 L177.0,685.20 L177.0,685.20 L177.5,685.20 L177.5,685.20 L178.0,685.20 L178.0,685.20 L178.5,685.20 L178.5,685.20 L179.0,685.20 L179.0,685.20 L179.5,685.20 L179.5,685.20 L180.0,685.20 L180.0,685.20 L180.5,685.20 L180.5,685.20 L181.0,685.20 L181.0,685.20 L181.5,685.20 L181.5,685.20 L182.0,685.20 L182.0,685.20 L182.5,685.20 L182.5,685.20 L183.0,685.20 L183.0,685.20 L183.5,685.20 L183.5,684.70 L184.0,684.70 L184.0,685.20 L184.5,685.20 L184.5,685.20 L185.0,685.20 L185.0,685.20 L185.5,685.20 L185.5,685.20 L186.0,685.20 L186.0,685.20 L186.5,685.20 L186.5,685.20 L187.0,685.20 L187.0,685.20 L187.5,685.20 L187.5,685.20 L188.0,685.20 L188.0,685.20 L188.5,685.20 L188.5,684.73 L189.0,684.73 L189.0,685.20 L189.5,685.20 L189.5,685.20 L190.0,685.20 L190.0,684.82 L190.5,684.82 L190.5,685.20 L191.0,685.20 L191.0,684.54 L191.5,684.54 L191.5,685.20 L192.0,685.20 L192.0,685.20 L192.5,685.20 L192.5,685.20 L193.0,685.20 L193.0,685.20 L193.5,685.20 L193.5,685.20 L194.0,685.20 L194.0,685.20 L194.5,685.20 L194.5,685.20 L195.0,685.20 L195.0,685.20 L195.5,685.20 L195.5,685.20 L196.0,685.20 L196.0,685.20 L196.5,685.20 L196.5,685.20 L197.0,685.20 L197.0,685.20 L197.5,685.20 L197.5,685.20 L198.0,685.20 L198.0,685.20 L198.5,685.20 L198.5,685.20 L199.0,685.20 L199.0,684.87 L199.5,684.87 L199.5,685.20 L200.0,685.20 L200.0,685.20 L200.5,685.20 L200.5,685.20 L201.0,685.20 L201.0,685.20 L201.5,685.20 L201.5,685.20 L202.0,685.20 L202.0,685.20 L202.5,685.20 L202.5,685.20 L203.0,685.20 L203.0,685.20 L203.5,685.20 L203.5,685.20 L204.0,685.20 L204.0,685.20 L204.5,685.20 L204.5,685.20 L205.0,685.20 L205.0,685.20 L205.5,685.20 L205.5,685.20 L206.0,685.20 L206.0,685.20 L206.5,685.20 L206.5,685.20 L207.0,685.20 L207.0,685.20 L207.5,685.20 L207.5,685.20 L208.0,685.20 L208.0,685.20 L208.5,685.20 L208.5,685.20 L209.0,685.20 L209.0,685.20 L209.5,685.20 L209.5,684.83 L210.0,684.83 L210.0,684.95 L210.5,684.95 L210.5,685.20 L211.0,685.20 L211.0,685.20 L211.5,685.20 L211.5,685.20 L212.0,685.20 L212.0,685.09 L212.5,685.09 L212.5,685.20 L213.0,685.20 L213.0,685.20 L213.5,685.20 L213.5,685.20 L214.0,685.20 L214.0,685.20 L214.5,685.20 L214.5,685.20 L215.0,685.20 L215.0,685.20 L215.5,685.20 L215.5,684.76 L216.0,684.76 L216.0,685.20 L216.5,685.20 L216.5,684.55 L217.0,684.55 L217.0,685.20 L217.5,685.20 L217.5,685.20 L218.0,685.20 L218.0,685.20 L218.5,685.20 L218.5,685.20 L219.0,685.20 L219.0,685.20 L219.5,685.20 L219.5,685.20 L220.0,685.20 L220.0,685.20 L220.5,685.20 L220.5,685.20 L221.0,685.20 L221.0,685.20 L221.5,685.20 L221.5,685.20 L222.0,685.20 L222.0,685.20 L222.5,685.20 L222.5,685.19 L223.0,685.19 L223.0,685.18 L223.5,685.18 L223.5,685.14 L224.0,685.14 L224.0,685.02 L224.5,685.02 L224.5,684.77 L225.0,684.77 L225.0,684.27 L225.5,684.27 L225.5,683.44 L226.0,683.44 L226.0,682.26 L226.5,682.26 L226.5,680.87 L227.0,680.87 L227.0,679.58 L227.5,679.58 L227.5,678.75 L228.0,678.75 L228.0,678.67 L228.5,678.67 L228.5,679.36 L229.0,679.36 L229.0,680.60 L229.5,680.60 L229.5,682.00 L230.0,682.00 L230.0,682.38 L230.5,682.38 L230.5,682.20 L231.0,682.20 L231.0,682.38 L231.5,682.38 L231.5,682.86 L232.0,682.86 L232.0,683.49 L232.5,683.49 L232.5,684.10 L233.0,684.10 L233.0,684.57 L233.5,684.57 L233.5,684.88 L234.0,684.88 L234.0,685.06 L234.5,685.06 L234.5,685.15 L235.0,685.15 L235.0,685.18 L235.5,685.18 L235.5,685.19 L236.0,685.19 L236.0,685.20 L236.5,685.20 L236.5,685.20 L237.0,685.20 L237.0,685.20 L237.5,685.20 L237.5,685.20 L238.0,685.20 L238.0,685.20 L238.5,685.20 L238.5,685.20 L239.0,685.20 L239.0,685.20 L239.5,685.20 L239.5,685.19 L240.0,685.19 L240.0,685.17 L240.5,685.17 L240.5,685.11 L241.0,685.11 L241.0,684.99 L241.5,684.99 L241.5,684.75 L242.0,684.75 L242.0,684.35 L242.5,684.35 L242.5,683.78 L243.0,683.78 L243.0,683.10 L243.5,683.10 L243.5,682.47 L244.0,682.47 L244.0,682.07 L244.5,682.07 L244.5,682.03 L245.0,682.03 L245.0,682.37 L245.5,682.37 L245.5,682.97 L246.0,682.97 L246.0,683.65 L246.5,683.65 L246.5,684.25 L247.0,684.25 L247.0,684.68 L247.5,684.68 L247.5,684.95 L248.0,684.95 L248.0,684.91 L248.5,684.91 L248.5,685.16 L249.0,685.16 L249.0,685.19 L249.5,685.19 L249.5,685.20 L250.0,685.20 L250.0,685.20 L250.5,685.20 L250.5,684.90 L251.0,684.90 L251.0,685.20 L251.5,685.20 L251.5,685.20 L252.0,685.20 L252.0,685.20 L252.5,685.20 L252.5,685.20 L253.0,685.20 L253.0,685.20 L253.5,685.20 L253.5,685.20 L254.0,685.20 L254.0,685.20 L254.5,685.20 L254.5,685.20 L255.0,685.20 L255.0,685.20 L255.5,685.20 L255.5,685.20 L256.0,685.20 L256.0,684.91 L256.5,684.91 L256.5,685.20 L257.0,685.20 L257.0,685.20 L257.5,685.20 L257.5,685.20 L258.0,685.20 L258.0,685.20 L258.5,685.20 L258.5,685.20 L259.0,685.20 L259.0,685.14 L259.5,685.14 L259.5,685.20 L260.0,685.20 L260.0,685.20 L260.5,685.20 L260.5,685.20 L261.0,685.20 L261.0,685.20 L261.5,685.20 L261.5,685.20 L262.0,685.20 L262.0,685.20 L262.5,685.20 L262.5,685.20 L263.0,685.20 L263.0,685.20 L263.5,685.20 L263.5,685.20 L264.0,685.20 L264.0,685.19 L264.5,685.19 L264.5,685.17 L265.0,685.17 L265.0,685.13 L265.5,685.13 L265.5,685.04 L266.0,685.04 L266.0,684.84 L266.5,684.84 L266.5,684.45 L267.0,684.45 L267.0,683.75 L267.5,683.75 L267.5,682.56 L268.0,682.56 L268.0,680.72 L268.5,680.72 L268.5,678.11 L269.0,678.11 L269.0,674.72 L269.5,674.72 L269.5,670.73 L270.0,670.73 L270.0,666.55 L270.5,666.55 L270.5,662.75 L271.0,662.75 L271.0,659.98 L271.5,659.98 L271.5,658.74 L272.0,658.74 L272.0,659.28 L272.5,659.28 L272.5,661.49 L273.0,661.49 L273.0,664.95 L273.5,664.95 L273.5,669.05 L274.0,669.05 L274.0,673.17 L274.5,673.17 L274.5,676.84 L275.0,676.84 L275.0,678.38 L275.5,678.38 L275.5,679.62 L276.0,679.62 L276.0,680.98 L276.5,680.98 L276.5,682.26 L277.0,682.26 L277.0,683.30 L277.5,683.30 L277.5,684.07 L278.0,684.07 L278.0,684.58 L278.5,684.58 L278.5,684.89 L279.0,684.89 L279.0,685.05 L279.5,685.05 L279.5,685.14 L280.0,685.14 L280.0,685.17 L280.5,685.17 L280.5,685.06 L281.0,685.06 L281.0,684.75 L281.5,684.75 L281.5,685.20 L282.0,685.20 L282.0,685.20 L282.5,685.20 L282.5,685.20 L283.0,685.20 L283.0,685.20 L283.5,685.20 L283.5,685.20 L284.0,685.20 L284.0,684.58 L284.5,684.58 L284.5,685.20 L285.0,685.20 L285.0,685.20 L285.5,685.20 L285.5,685.20 L286.0,685.20 L286.0,685.20 L286.5,685.20 L286.5,685.20 L287.0,685.20 L287.0,685.20 L287.5,685.20 L287.5,685.20 L288.0,685.20 L288.0,685.20 L288.5,685.20 L288.5,685.20 L289.0,685.20 L289.0,685.20 L289.5,685.20 L289.5,685.20 L290.0,685.20 L290.0,685.20 L290.5,685.20 L290.5,685.20 L291.0,685.20 L291.0,685.20 L291.5,685.20 L291.5,685.20 L292.0,685.20 L292.0,685.01 L292.5,685.01 L292.5,685.17 L293.0,685.17 L293.0,685.20 L293.5,685.20 L293.5,685.20 L294.0,685.20 L294.0,685.20 L294.5,685.20 L294.5,685.20 L295.0,685.20 L295.0,685.20 L295.5,685.20 L295.5,685.20 L296.0,685.20 L296.0,685.20 L296.5,685.20 L296.5,685.20 L297.0,685.20 L297.0,685.20 L297.5,685.20 L297.5,685.20 L298.0,685.20 L298.0,685.20 L298.5,685.20 L298.5,685.20 L299.0,685.20 L299.0,685.20 L299.5,685.20 L299.5,684.94 L300.0,684.94 L300.0,684.54 L300.5,684.54 L300.5,685.20 L301.0,685.20 L301.0,685.20 L301.5,685.20 L301.5,685.20 L302.0,685.20 L302.0,685.20 L302.5,685.20 L302.5,685.20 L303.0,685.20 L303.0,685.20 L303.5,685.20 L303.5,685.20 L304.0,685.20 L304.0,685.20 L304.5,685.20 L304.5,684.89 L305.0,684.89 L305.0,685.20 L305.5,685.20 L305.5,685.20 L306.0,685.20 L306.0,685.20 L306.5,685.20 L306.5,685.20 L307.0,685.20 L307.0,685.20 L307.5,685.20 L307.5,685.13 L308.0,685.13 L308.0,685.20 L308.5,685.20 L308.5,685.20 L309.0,685.20 L309.0,685.20 L309.5,685.20 L309.5,684.96 L310.0,684.96 L310.0,685.20 L310.5,685.20 L310.5,685.20 L311.0,685.20 L311.0,685.20 L311.5,685.20 L311.5,684.84 L312.0,684.84 L312.0,685.20 L312.5,685.20 L312.5,685.20 L313.0,685.20 L313.0,685.20 L313.5,685.20 L313.5,685.20 L314.0,685.20 L314.0,685.20 L314.5,685.20 L314.5,685.20 L315.0,685.20 L315.0,684.99 L315.5,684.99 L315.5,685.03 L316.0,685.03 L316.0,685.01 L316.5,685.01 L316.5,685.20 L317.0,685.20 L317.0,685.2Z" fill="#2fae55"/>
<path d="M322.0,658.4 L322.0,658.40 L322.5,658.40 L322.5,658.40 L323.0,658.40 L323.0,658.38 L323.5,658.38 L323.5,658.01 L324.0,658.01 L324.0,658.40 L324.5,658.40 L324.5,658.40 L325.0,658.40 L325.0,658.40 L325.5,658.40 L325.5,658.40 L326.0,658.40 L326.0,658.40 L326.5,658.40 L326.5,658.40 L327.0,658.40 L327.0,658.40 L327.5,658.40 L327.5,658.40 L328.0,658.40 L328.0,658.40 L328.5,658.40 L328.5,658.40 L329.0,658.40 L329.0,658.40 L329.5,658.40 L329.5,658.40 L330.0,658.40 L330.0,658.40 L330.5,658.40 L330.5,658.40 L331.0,658.40 L331.0,658.40 L331.5,658.40 L331.5,658.40 L332.0,658.40 L332.0,657.62 L332.5,657.62 L332.5,658.40 L333.0,658.40 L333.0,658.40 L333.5,658.40 L333.5,657.74 L334.0,657.74 L334.0,658.40 L334.5,658.40 L334.5,658.40 L335.0,658.40 L335.0,658.40 L335.5,658.40 L335.5,658.40 L336.0,658.40 L336.0,657.92 L336.5,657.92 L336.5,658.40 L337.0,658.40 L337.0,658.39 L337.5,658.39 L337.5,658.27 L338.0,658.27 L338.0,657.48 L338.5,657.48 L338.5,655.42 L339.0,655.42 L339.0,654.00 L339.5,654.00 L339.5,655.42 L340.0,655.42 L340.0,657.48 L340.5,657.48 L340.5,658.27 L341.0,658.27 L341.0,657.87 L341.5,657.87 L341.5,658.40 L342.0,658.40 L342.0,658.40 L342.5,658.40 L342.5,658.40 L343.0,658.40 L343.0,655.65 L343.5,655.65 L343.5,641.90 L344.0,641.90 L344.0,630.90 L344.5,630.90 L344.5,630.90 L345.0,630.90 L345.0,630.90 L345.5,630.90 L345.5,630.90 L346.0,630.90 L346.0,639.15 L346.5,639.15 L346.5,652.90 L347.0,652.90 L347.0,658.07 L347.5,658.07 L347.5,658.40 L348.0,658.40 L348.0,658.40 L348.5,658.40 L348.5,657.57 L349.0,657.57 L349.0,658.40 L349.5,658.40 L349.5,658.40 L350.0,658.40 L350.0,658.40 L350.5,658.40 L350.5,658.04 L351.0,658.04 L351.0,658.40 L351.5,658.40 L351.5,658.40 L352.0,658.40 L352.0,657.86 L352.5,657.86 L352.5,658.40 L353.0,658.40 L353.0,658.40 L353.5,658.40 L353.5,658.40 L354.0,658.40 L354.0,658.40 L354.5,658.40 L354.5,658.40 L355.0,658.40 L355.0,658.33 L355.5,658.33 L355.5,658.40 L356.0,658.40 L356.0,658.40 L356.5,658.40 L356.5,658.18 L357.0,658.18 L357.0,658.21 L357.5,658.21 L357.5,657.74 L358.0,657.74 L358.0,657.00 L358.5,657.00 L358.5,656.60 L359.0,656.60 L359.0,657.00 L359.5,657.00 L359.5,657.74 L360.0,657.74 L360.0,657.63 L360.5,657.63 L360.5,658.37 L361.0,658.37 L361.0,658.08 L361.5,658.08 L361.5,658.40 L362.0,658.40 L362.0,658.40 L362.5,658.40 L362.5,658.40 L363.0,658.40 L363.0,658.40 L363.5,658.40 L363.5,658.08 L364.0,658.08 L364.0,658.40 L364.5,658.40 L364.5,658.40 L365.0,658.40 L365.0,658.40 L365.5,658.40 L365.5,657.57 L366.0,657.57 L366.0,658.40 L366.5,658.40 L366.5,658.40 L367.0,658.40 L367.0,658.40 L367.5,658.40 L367.5,657.64 L368.0,657.64 L368.0,658.40 L368.5,658.40 L368.5,658.40 L369.0,658.40 L369.0,658.40 L369.5,658.40 L369.5,658.40 L370.0,658.40 L370.0,657.71 L370.5,657.71 L370.5,657.62 L371.0,657.62 L371.0,658.06 L371.5,658.06 L371.5,658.40 L372.0,658.40 L372.0,658.40 L372.5,658.40 L372.5,658.40 L373.0,658.40 L373.0,658.40 L373.5,658.40 L373.5,658.40 L374.0,658.40 L374.0,658.00 L374.5,658.00 L374.5,658.40 L375.0,658.40 L375.0,658.40 L375.5,658.40 L375.5,658.40 L376.0,658.40 L376.0,658.40 L376.5,658.40 L376.5,658.40 L377.0,658.40 L377.0,658.40 L377.5,658.40 L377.5,658.40 L378.0,658.40 L378.0,658.34 L378.5,658.34 L378.5,658.40 L379.0,658.40 L379.0,657.96 L379.5,657.96 L379.5,658.40 L380.0,658.40 L380.0,658.40 L380.5,658.40 L380.5,658.05 L381.0,658.05 L381.0,657.78 L381.5,657.78 L381.5,658.40 L382.0,658.40 L382.0,641.40 L382.5,641.40 L382.5,631.20 L383.0,631.20 L383.0,631.20 L383.5,631.20 L383.5,631.20 L384.0,631.20 L384.0,634.60 L384.5,634.60 L384.5,651.60 L385.0,651.60 L385.0,658.40 L385.5,658.40 L385.5,658.40 L386.0,658.40 L386.0,658.40 L386.5,658.40 L386.5,658.40 L387.0,658.40 L387.0,658.40 L387.5,658.40 L387.5,658.40 L388.0,658.40 L388.0,658.35 L388.5,658.35 L388.5,658.40 L389.0,658.40 L389.0,658.40 L389.5,658.40 L389.5,658.40 L390.0,658.40 L390.0,658.40 L390.5,658.40 L390.5,658.40 L391.0,658.40 L391.0,658.40 L391.5,658.40 L391.5,658.40 L392.0,658.40 L392.0,658.40 L392.5,658.40 L392.5,658.40 L393.0,658.40 L393.0,658.40 L393.5,658.40 L393.5,658.40 L394.0,658.40 L394.0,658.40 L394.5,658.40 L394.5,657.91 L395.0,657.91 L395.0,658.40 L395.5,658.40 L395.5,658.40 L396.0,658.40 L396.0,657.86 L396.5,657.86 L396.5,658.40 L397.0,658.40 L397.0,657.72 L397.5,657.72 L397.5,658.40 L398.0,658.40 L398.0,658.39 L398.5,658.39 L398.5,658.33 L399.0,658.33 L399.0,658.09 L399.5,658.09 L399.5,657.35 L400.0,657.35 L400.0,655.90 L400.5,655.90 L400.5,654.20 L401.0,654.20 L401.0,653.40 L401.5,653.40 L401.5,654.20 L402.0,654.20 L402.0,655.90 L402.5,655.90 L402.5,656.93 L403.0,656.93 L403.0,655.28 L403.5,655.28 L403.5,654.40 L404.0,654.40 L404.0,655.28 L404.5,655.28 L404.5,656.93 L405.0,656.93 L405.0,657.98 L405.5,657.98 L405.5,658.33 L406.0,658.33 L406.0,658.39 L406.5,658.39 L406.5,658.40 L407.0,658.40 L407.0,656.41 L407.5,656.41 L407.5,646.46 L408.0,646.46 L408.0,638.50 L408.5,638.50 L408.5,638.50 L409.0,638.50 L409.0,644.47 L409.5,644.47 L409.5,654.42 L410.0,654.42 L410.0,658.40 L410.5,658.40 L410.5,658.40 L411.0,658.40 L411.0,658.40 L411.5,658.40 L411.5,658.40 L412.0,658.40 L412.0,658.40 L412.5,658.40 L412.5,658.40 L413.0,658.40 L413.0,658.40 L413.5,658.40 L413.5,658.40 L414.0,658.40 L414.0,658.37 L414.5,658.37 L414.5,658.40 L415.0,658.40 L415.0,658.40 L415.5,658.40 L415.5,658.12 L416.0,658.12 L416.0,658.40 L416.5,658.40 L416.5,658.40 L417.0,658.40 L417.0,658.40 L417.5,658.40 L417.5,658.40 L418.0,658.40 L418.0,658.37 L418.5,658.37 L418.5,658.12 L419.0,658.12 L419.0,658.40 L419.5,658.40 L419.5,658.40 L420.0,658.40 L420.0,658.40 L420.5,658.40 L420.5,658.40 L421.0,658.40 L421.0,658.40 L421.5,658.40 L421.5,658.40 L422.0,658.40 L422.0,658.05 L422.5,658.05 L422.5,658.40 L423.0,658.40 L423.0,658.40 L423.5,658.40 L423.5,658.40 L424.0,658.40 L424.0,658.27 L424.5,658.27 L424.5,658.40 L425.0,658.40 L425.0,658.40 L425.5,658.40 L425.5,658.40 L426.0,658.40 L426.0,658.40 L426.5,658.40 L426.5,658.40 L427.0,658.40 L427.0,657.97 L427.5,657.97 L427.5,657.30 L428.0,657.30 L428.0,658.40 L428.5,658.40 L428.5,658.40 L429.0,658.40 L429.0,658.40 L429.5,658.40 L429.5,657.68 L430.0,657.68 L430.0,658.40 L430.5,658.40 L430.5,657.96 L431.0,657.96 L431.0,657.30 L431.5,657.30 L431.5,658.40 L432.0,658.40 L432.0,658.40 L432.5,658.40 L432.5,658.40 L433.0,658.40 L433.0,658.40 L433.5,658.40 L433.5,658.40 L434.0,658.40 L434.0,658.40 L434.5,658.40 L434.5,658.40 L435.0,658.40 L435.0,657.77 L435.5,657.77 L435.5,658.40 L436.0,658.40 L436.0,658.40 L436.5,658.40 L436.5,658.40 L437.0,658.40 L437.0,658.40 L437.5,658.40 L437.5,658.40 L438.0,658.40 L438.0,658.40 L438.5,658.40 L438.5,658.40 L439.0,658.40 L439.0,658.40 L439.5,658.40 L439.5,658.40 L440.0,658.40 L440.0,658.40 L440.5,658.40 L440.5,658.40 L441.0,658.40 L441.0,658.40 L441.5,658.40 L441.5,658.40 L442.0,658.40 L442.0,658.26 L442.5,658.26 L442.5,658.40 L443.0,658.40 L443.0,658.40 L443.5,658.40 L443.5,657.78 L444.0,657.78 L444.0,657.30 L444.5,657.30 L444.5,658.40 L445.0,658.40 L445.0,658.40 L445.5,658.40 L445.5,657.82 L446.0,657.82 L446.0,658.40 L446.5,658.40 L446.5,658.40 L447.0,658.40 L447.0,657.94 L447.5,657.94 L447.5,658.40 L448.0,658.40 L448.0,658.40 L448.5,658.40 L448.5,658.40 L449.0,658.40 L449.0,658.40 L449.5,658.40 L449.5,657.93 L450.0,657.93 L450.0,658.40 L450.5,658.40 L450.5,658.40 L451.0,658.40 L451.0,658.40 L451.5,658.40 L451.5,657.89 L452.0,657.89 L452.0,658.40 L452.5,658.40 L452.5,657.85 L453.0,657.85 L453.0,657.30 L453.5,657.30 L453.5,658.40 L454.0,658.40 L454.0,658.40 L454.5,658.40 L454.5,658.03 L455.0,658.03 L455.0,658.40 L455.5,658.40 L455.5,658.40 L456.0,658.40 L456.0,658.40 L456.5,658.40 L456.5,658.40 L457.0,658.40 L457.0,658.40 L457.5,658.40 L457.5,658.40 L458.0,658.40 L458.0,658.40 L458.5,658.40 L458.5,658.40 L459.0,658.40 L459.0,657.65 L459.5,657.65 L459.5,658.40 L460.0,658.40 L460.0,656.47 L460.5,656.47 L460.5,658.08 L461.0,658.08 L461.0,657.41 L461.5,657.41 L461.5,658.40 L462.0,658.40 L462.0,658.06 L462.5,658.06 L462.5,658.40 L463.0,658.40 L463.0,656.54 L463.5,656.54 L463.5,656.58 L464.0,656.58 L464.0,658.40 L464.5,658.40 L464.5,657.76 L465.0,657.76 L465.0,656.46 L465.5,656.46 L465.5,655.10 L466.0,655.10 L466.0,655.10 L466.5,655.10 L466.5,656.29 L467.0,656.29 L467.0,653.84 L467.5,653.84 L467.5,655.53 L468.0,655.53 L468.0,656.99 L468.5,656.99 L468.5,655.31 L469.0,655.31 L469.0,655.54 L469.5,655.54 L469.5,657.52 L470.0,657.52 L470.0,657.93 L470.5,657.93 L470.5,658.40 L471.0,658.40 L471.0,658.12 L471.5,658.12 L471.5,658.22 L472.0,658.22 L472.0,657.20 L472.5,657.20 L472.5,658.40 L473.0,658.40 L473.0,656.29 L473.5,656.29 L473.5,658.40 L474.0,658.40 L474.0,653.70 L474.5,653.70 L474.5,656.66 L475.0,656.66 L475.0,658.10 L475.5,658.10 L475.5,655.76 L476.0,655.76 L476.0,657.31 L476.5,657.31 L476.5,657.30 L477.0,657.30 L477.0,657.43 L477.5,657.43 L477.5,653.56 L478.0,653.56 L478.0,657.45 L478.5,657.45 L478.5,658.40 L479.0,658.40 L479.0,658.24 L479.5,658.24 L479.5,653.56 L480.0,653.56 L480.0,657.87 L480.5,657.87 L480.5,658.40 L481.0,658.40 L481.0,658.40 L481.5,658.40 L481.5,655.91 L482.0,655.91 L482.0,655.10 L482.5,655.10 L482.5,658.40 L483.0,658.40 L483.0,658.40 L483.5,658.40 L483.5,656.32 L484.0,656.32 L484.0,658.19 L484.5,658.19 L484.5,658.40 L485.0,658.40 L485.0,658.40 L485.5,658.40 L485.5,657.46 L486.0,657.46 L486.0,658.40 L486.5,658.40 L486.5,657.61 L487.0,657.61 L487.0,657.21 L487.5,657.21 L487.5,657.86 L488.0,657.86 L488.0,657.75 L488.5,657.75 L488.5,658.40 L489.0,658.40 L489.0,658.40 L489.5,658.40 L489.5,656.30 L490.0,656.30 L490.0,657.04 L490.5,657.04 L490.5,658.35 L491.0,658.35 L491.0,658.40 L491.5,658.40 L491.5,657.41 L492.0,657.41 L492.0,655.10 L492.5,655.10 L492.5,657.48 L493.0,657.48 L493.0,656.05 L493.5,656.05 L493.5,658.40 L494.0,658.40 L494.0,658.40 L494.5,658.40 L494.5,658.40 L495.0,658.40 L495.0,656.97 L495.5,656.97 L495.5,657.59 L496.0,657.59 L496.0,658.40 L496.5,658.40 L496.5,658.40 L497.0,658.40 L497.0,655.34 L497.5,655.34 L497.5,657.49 L498.0,657.49 L498.0,658.40 L498.5,658.40 L498.5,657.80 L499.0,657.80 L499.0,658.40 L499.5,658.40 L499.5,658.40 L500.0,658.40 L500.0,657.86 L500.5,657.86 L500.5,658.40 L501.0,658.40 L501.0,657.33 L501.5,657.33 L501.5,658.40 L502.0,658.40 L502.0,658.40 L502.5,658.40 L502.5,657.51 L503.0,657.51 L503.0,657.31 L503.5,657.31 L503.5,657.58 L504.0,657.58 L504.0,657.41 L504.5,657.41 L504.5,656.96 L505.0,656.96 L505.0,657.68 L505.5,657.68 L505.5,656.55 L506.0,656.55 L506.0,656.93 L506.5,656.93 L506.5,658.40 L507.0,658.40 L507.0,657.82 L507.5,657.82 L507.5,657.61 L508.0,657.61 L508.0,658.40 L508.5,658.40 L508.5,658.40 L509.0,658.40 L509.0,656.49 L509.5,656.49 L509.5,658.20 L510.0,658.20 L510.0,656.65 L510.5,656.65 L510.5,658.40 L511.0,658.40 L511.0,658.40 L511.5,658.40 L511.5,656.59 L512.0,656.59 L512.0,658.40 L512.5,658.40 L512.5,658.40 L513.0,658.40 L513.0,657.61 L513.5,657.61 L513.5,655.10 L514.0,655.10 L514.0,657.01 L514.5,657.01 L514.5,655.10 L515.0,655.10 L515.0,657.02 L515.5,657.02 L515.5,658.40 L516.0,658.40 L516.0,657.66 L516.5,657.66 L516.5,658.40 L517.0,658.40 L517.0,656.94 L517.5,656.94 L517.5,658.40 L518.0,658.40 L518.0,658.40 L518.5,658.40 L518.5,658.40 L519.0,658.40 L519.0,658.40 L519.5,658.40 L519.5,658.40 L520.0,658.40 L520.0,658.40 L520.5,658.40 L520.5,658.09 L521.0,658.09 L521.0,657.90 L521.5,657.90 L521.5,658.40 L522.0,658.40 L522.0,657.27 L522.5,657.27 L522.5,658.40 L523.0,658.40 L523.0,658.06 L523.5,658.06 L523.5,658.28 L524.0,658.28 L524.0,658.40 L524.5,658.40 L524.5,658.40 L525.0,658.40 L525.0,657.58 L525.5,657.58 L525.5,655.10 L526.0,655.10 L526.0,658.03 L526.5,658.03 L526.5,658.02 L527.0,658.02 L527.0,658.40 L527.5,658.40 L527.5,658.40 L528.0,658.40 L528.0,657.52 L528.5,657.52 L528.5,658.40 L529.0,658.40 L529.0,658.40 L529.5,658.40 L529.5,656.13 L530.0,656.13 L530.0,658.40 L530.5,658.40 L530.5,656.81 L531.0,656.81 L531.0,658.40 L531.5,658.40 L531.5,658.40 L532.0,658.40 L532.0,658.40 L532.5,658.40 L532.5,657.27 L533.0,657.27 L533.0,655.95 L533.5,655.95 L533.5,655.10 L534.0,655.10 L534.0,658.40 L534.5,658.40 L534.5,655.69 L535.0,655.69 L535.0,656.72 L535.5,656.72 L535.5,657.33 L536.0,657.33 L536.0,658.40 L536.5,658.40 L536.5,656.40 L537.0,656.40 L537.0,654.38 L537.5,654.38 L537.5,657.40 L538.0,657.40 L538.0,656.60 L538.5,656.60 L538.5,657.48 L539.0,657.48 L539.0,657.14 L539.5,657.14 L539.5,658.40 L540.0,658.40 L540.0,657.63 L540.5,657.63 L540.5,658.23 L541.0,658.23 L541.0,655.10 L541.5,655.10 L541.5,656.28 L542.0,656.28 L542.0,655.51 L542.5,655.51 L542.5,656.88 L543.0,656.88 L543.0,658.40 L543.5,658.40 L543.5,658.25 L544.0,658.25 L544.0,654.74 L544.5,654.74 L544.5,657.91 L545.0,657.91 L545.0,658.37 L545.5,658.37 L545.5,657.67 L546.0,657.67 L546.0,657.38 L546.5,657.38 L546.5,655.96 L547.0,655.96 L547.0,658.40 L547.5,658.40 L547.5,653.78 L548.0,653.78 L548.0,644.55 L548.5,644.55 L548.5,630.70 L549.0,630.70 L549.0,630.70 L549.5,630.70 L549.5,630.70 L550.0,630.70 L550.0,644.55 L550.5,644.55 L550.5,656.16 L551.0,656.16 L551.0,656.31 L551.5,656.31 L551.5,657.77 L552.0,657.77 L552.0,657.82 L552.5,657.82 L552.5,657.74 L553.0,657.74 L553.0,655.29 L553.5,655.29 L553.5,657.03 L554.0,657.03 L554.0,656.44 L554.5,656.44 L554.5,656.29 L555.0,656.29 L555.0,656.64 L555.5,656.64 L555.5,657.03 L556.0,657.03 L556.0,658.40 L556.5,658.40 L556.5,658.40 L557.0,658.40 L557.0,655.36 L557.5,655.36 L557.5,658.12 L558.0,658.12 L558.0,655.70 L558.5,655.70 L558.5,658.40 L559.0,658.40 L559.0,658.40 L559.5,658.40 L559.5,658.40 L560.0,658.40 L560.0,656.40 L560.5,656.40 L560.5,658.40 L561.0,658.40 L561.0,658.40 L561.5,658.40 L561.5,655.61 L562.0,655.61 L562.0,658.40 L562.5,658.40 L562.5,658.40 L563.0,658.40 L563.0,658.40 L563.5,658.40 L563.5,658.40 L564.0,658.40 L564.0,656.36 L564.5,656.36 L564.5,658.40 L565.0,658.40 L565.0,658.40 L565.5,658.40 L565.5,658.40 L566.0,658.40 L566.0,658.4Z" fill="#2fae55"/>
<path d="M322.0,685.2 L322.0,685.20 L322.5,685.20 L322.5,683.95 L323.0,683.95 L323.0,685.20 L323.5,685.20 L323.5,685.20 L324.0,685.20 L324.0,683.90 L324.5,683.90 L324.5,683.35 L325.0,683.35 L325.0,685.20 L325.5,685.20 L325.5,683.51 L326.0,683.51 L326.0,684.79 L326.5,684.79 L326.5,685.20 L327.0,685.20 L327.0,685.20 L327.5,685.20 L327.5,685.20 L328.0,685.20 L328.0,685.10 L328.5,685.10 L328.5,685.20 L329.0,685.20 L329.0,685.20 L329.5,685.20 L329.5,684.50 L330.0,684.50 L330.0,684.35 L330.5,684.35 L330.5,684.03 L331.0,684.03 L331.0,683.23 L331.5,683.23 L331.5,685.20 L332.0,685.20 L332.0,685.20 L332.5,685.20 L332.5,685.20 L333.0,685.20 L333.0,685.20 L333.5,685.20 L333.5,685.20 L334.0,685.20 L334.0,684.95 L334.5,684.95 L334.5,684.76 L335.0,684.76 L335.0,683.41 L335.5,683.41 L335.5,685.20 L336.0,685.20 L336.0,683.88 L336.5,683.88 L336.5,685.20 L337.0,685.20 L337.0,684.70 L337.5,684.70 L337.5,683.28 L338.0,683.28 L338.0,685.18 L338.5,685.18 L338.5,685.20 L339.0,685.20 L339.0,685.20 L339.5,685.20 L339.5,685.07 L340.0,685.07 L340.0,685.20 L340.5,685.20 L340.5,685.20 L341.0,685.20 L341.0,685.20 L341.5,685.20 L341.5,685.20 L342.0,685.20 L342.0,684.50 L342.5,684.50 L342.5,685.15 L343.0,685.15 L343.0,684.78 L343.5,684.78 L343.5,683.22 L344.0,683.22 L344.0,680.21 L344.5,680.21 L344.5,678.40 L345.0,678.40 L345.0,680.21 L345.5,680.21 L345.5,683.22 L346.0,683.22 L346.0,684.78 L346.5,684.78 L346.5,684.62 L347.0,684.62 L347.0,684.91 L347.5,684.91 L347.5,685.20 L348.0,685.20 L348.0,683.94 L348.5,683.94 L348.5,684.99 L349.0,684.99 L349.0,685.15 L349.5,685.15 L349.5,685.20 L350.0,685.20 L350.0,682.70 L350.5,682.70 L350.5,684.56 L351.0,684.56 L351.0,682.73 L351.5,682.73 L351.5,685.20 L352.0,685.20 L352.0,685.20 L352.5,685.20 L352.5,685.05 L353.0,685.05 L353.0,684.89 L353.5,684.89 L353.5,684.15 L354.0,684.15 L354.0,685.20 L354.5,685.20 L354.5,683.14 L355.0,683.14 L355.0,684.27 L355.5,684.27 L355.5,685.20 L356.0,685.20 L356.0,685.17 L356.5,685.17 L356.5,684.40 L357.0,684.40 L357.0,684.60 L357.5,684.60 L357.5,682.60 L358.0,682.60 L358.0,682.00 L358.5,682.00 L358.5,680.82 L359.0,680.82 L359.0,680.97 L359.5,680.97 L359.5,682.31 L360.0,682.31 L360.0,683.81 L360.5,683.81 L360.5,684.73 L361.0,684.73 L361.0,684.37 L361.5,684.37 L361.5,684.48 L362.0,684.48 L362.0,685.20 L362.5,685.20 L362.5,685.20 L363.0,685.20 L363.0,683.86 L363.5,683.86 L363.5,684.48 L364.0,684.48 L364.0,684.57 L364.5,684.57 L364.5,685.20 L365.0,685.20 L365.0,684.53 L365.5,684.53 L365.5,685.20 L366.0,685.20 L366.0,683.61 L366.5,683.61 L366.5,682.56 L367.0,682.56 L367.0,684.50 L367.5,684.50 L367.5,682.56 L368.0,682.56 L368.0,685.20 L368.5,685.20 L368.5,685.20 L369.0,685.20 L369.0,685.06 L369.5,685.06 L369.5,685.19 L370.0,685.19 L370.0,685.20 L370.5,685.20 L370.5,685.20 L371.0,685.20 L371.0,684.83 L371.5,684.83 L371.5,685.03 L372.0,685.03 L372.0,685.20 L372.5,685.20 L372.5,685.20 L373.0,685.20 L373.0,685.20 L373.5,685.20 L373.5,685.03 L374.0,685.03 L374.0,684.23 L374.5,684.23 L374.5,683.72 L375.0,683.72 L375.0,684.27 L375.5,684.27 L375.5,684.27 L376.0,684.27 L376.0,682.74 L376.5,682.74 L376.5,685.16 L377.0,685.16 L377.0,684.44 L377.5,684.44 L377.5,685.20 L378.0,685.20 L378.0,685.20 L378.5,685.20 L378.5,684.06 L379.0,684.06 L379.0,685.20 L379.5,685.20 L379.5,685.20 L380.0,685.20 L380.0,684.82 L380.5,684.82 L380.5,685.20 L381.0,685.20 L381.0,685.20 L381.5,685.20 L381.5,683.07 L382.0,683.07 L382.0,681.47 L382.5,681.47 L382.5,675.24 L383.0,675.24 L383.0,674.00 L383.5,674.00 L383.5,674.00 L384.0,674.00 L384.0,678.98 L384.5,678.98 L384.5,682.56 L385.0,682.56 L385.0,685.20 L385.5,685.20 L385.5,685.20 L386.0,685.20 L386.0,685.20 L386.5,685.20 L386.5,685.20 L387.0,685.20 L387.0,684.94 L387.5,684.94 L387.5,683.90 L388.0,683.90 L388.0,683.75 L388.5,683.75 L388.5,685.20 L389.0,685.20 L389.0,685.20 L389.5,685.20 L389.5,685.20 L390.0,685.20 L390.0,684.28 L390.5,684.28 L390.5,685.07 L391.0,685.07 L391.0,683.77 L391.5,683.77 L391.5,683.56 L392.0,683.56 L392.0,684.24 L392.5,684.24 L392.5,685.04 L393.0,685.04 L393.0,685.20 L393.5,685.20 L393.5,685.20 L394.0,685.20 L394.0,685.19 L394.5,685.19 L394.5,682.56 L395.0,682.56 L395.0,685.20 L395.5,685.20 L395.5,683.40 L396.0,683.40 L396.0,685.20 L396.5,685.20 L396.5,684.16 L397.0,684.16 L397.0,683.84 L397.5,683.84 L397.5,685.18 L398.0,685.18 L398.0,685.03 L398.5,685.03 L398.5,682.56 L399.0,682.56 L399.0,683.31 L399.5,683.31 L399.5,680.71 L400.0,680.71 L400.0,677.63 L400.5,677.63 L400.5,676.20 L401.0,676.20 L401.0,677.63 L401.5,677.63 L401.5,675.35 L402.0,675.35 L402.0,673.53 L402.5,673.53 L402.5,673.35 L403.0,673.35 L403.0,674.88 L403.5,674.88 L403.5,677.51 L404.0,677.51 L404.0,678.97 L404.5,678.97 L404.5,677.20 L405.0,677.20 L405.0,678.97 L405.5,678.97 L405.5,682.26 L406.0,682.26 L406.0,684.36 L406.5,684.36 L406.5,685.05 L407.0,685.05 L407.0,682.56 L407.5,682.56 L407.5,685.20 L408.0,685.20 L408.0,683.98 L408.5,683.98 L408.5,684.55 L409.0,684.55 L409.0,685.20 L409.5,685.20 L409.5,685.20 L410.0,685.20 L410.0,685.20 L410.5,685.20 L410.5,684.99 L411.0,684.99 L411.0,682.56 L411.5,682.56 L411.5,682.79 L412.0,682.79 L412.0,685.20 L412.5,685.20 L412.5,684.83 L413.0,684.83 L413.0,685.20 L413.5,685.20 L413.5,685.20 L414.0,685.20 L414.0,683.97 L414.5,683.97 L414.5,685.20 L415.0,685.20 L415.0,684.95 L415.5,684.95 L415.5,685.20 L416.0,685.20 L416.0,682.56 L416.5,682.56 L416.5,685.20 L417.0,685.20 L417.0,685.20 L417.5,685.20 L417.5,685.20 L418.0,685.20 L418.0,684.37 L418.5,684.37 L418.5,685.20 L419.0,685.20 L419.0,685.20 L419.5,685.20 L419.5,685.20 L420.0,685.20 L420.0,684.85 L420.5,684.85 L420.5,685.20 L421.0,685.20 L421.0,685.20 L421.5,685.20 L421.5,685.20 L422.0,685.20 L422.0,682.56 L422.5,682.56 L422.5,684.50 L423.0,684.50 L423.0,685.20 L423.5,685.20 L423.5,682.56 L424.0,682.56 L424.0,685.20 L424.5,685.20 L424.5,685.20 L425.0,685.20 L425.0,683.16 L425.5,683.16 L425.5,685.20 L426.0,685.20 L426.0,685.20 L426.5,685.20 L426.5,684.19 L427.0,684.19 L427.0,683.41 L427.5,683.41 L427.5,684.21 L428.0,684.21 L428.0,685.20 L428.5,685.20 L428.5,685.20 L429.0,685.20 L429.0,684.13 L429.5,684.13 L429.5,683.17 L430.0,683.17 L430.0,685.20 L430.5,685.20 L430.5,684.55 L431.0,684.55 L431.0,682.56 L431.5,682.56 L431.5,684.98 L432.0,684.98 L432.0,685.20 L432.5,685.20 L432.5,683.43 L433.0,683.43 L433.0,684.79 L433.5,684.79 L433.5,682.58 L434.0,682.58 L434.0,685.20 L434.5,685.20 L434.5,685.20 L435.0,685.20 L435.0,685.02 L435.5,685.02 L435.5,685.20 L436.0,685.20 L436.0,685.20 L436.5,685.20 L436.5,685.20 L437.0,685.20 L437.0,684.50 L437.5,684.50 L437.5,684.08 L438.0,684.08 L438.0,684.64 L438.5,684.64 L438.5,683.89 L439.0,683.89 L439.0,682.56 L439.5,682.56 L439.5,685.20 L440.0,685.20 L440.0,683.09 L440.5,683.09 L440.5,684.68 L441.0,684.68 L441.0,685.20 L441.5,685.20 L441.5,683.20 L442.0,683.20 L442.0,685.20 L442.5,685.20 L442.5,682.50 L443.0,682.50 L443.0,683.63 L443.5,683.63 L443.5,685.06 L444.0,685.06 L444.0,684.37 L444.5,684.37 L444.5,684.13 L445.0,684.13 L445.0,684.11 L445.5,684.11 L445.5,685.20 L446.0,685.20 L446.0,685.20 L446.5,685.20 L446.5,683.16 L447.0,683.16 L447.0,685.20 L447.5,685.20 L447.5,685.20 L448.0,685.20 L448.0,682.05 L448.5,682.05 L448.5,685.20 L449.0,685.20 L449.0,685.20 L449.5,685.20 L449.5,685.20 L450.0,685.20 L450.0,684.37 L450.5,684.37 L450.5,685.20 L451.0,685.20 L451.0,683.01 L451.5,683.01 L451.5,683.93 L452.0,683.93 L452.0,685.20 L452.5,685.20 L452.5,685.20 L453.0,685.20 L453.0,685.20 L453.5,685.20 L453.5,684.72 L454.0,684.72 L454.0,683.20 L454.5,683.20 L454.5,684.40 L455.0,684.40 L455.0,685.20 L455.5,685.20 L455.5,685.20 L456.0,685.20 L456.0,685.20 L456.5,685.20 L456.5,681.68 L457.0,681.68 L457.0,685.01 L457.5,685.01 L457.5,685.20 L458.0,685.20 L458.0,685.20 L458.5,685.20 L458.5,683.81 L459.0,683.81 L459.0,683.87 L459.5,683.87 L459.5,685.20 L460.0,685.20 L460.0,685.20 L460.5,685.20 L460.5,681.68 L461.0,681.68 L461.0,684.62 L461.5,684.62 L461.5,684.93 L462.0,684.93 L462.0,685.20 L462.5,685.20 L462.5,685.20 L463.0,685.20 L463.0,685.20 L463.5,685.20 L463.5,685.20 L464.0,685.20 L464.0,684.95 L464.5,684.95 L464.5,684.69 L465.0,684.69 L465.0,685.20 L465.5,685.20 L465.5,685.20 L466.0,685.20 L466.0,683.52 L466.5,683.52 L466.5,685.20 L467.0,685.20 L467.0,685.20 L467.5,685.20 L467.5,684.74 L468.0,684.74 L468.0,685.20 L468.5,685.20 L468.5,685.20 L469.0,685.20 L469.0,681.96 L469.5,681.96 L469.5,684.13 L470.0,684.13 L470.0,685.20 L470.5,685.20 L470.5,681.68 L471.0,681.68 L471.0,684.03 L471.5,684.03 L471.5,682.93 L472.0,682.93 L472.0,685.20 L472.5,685.20 L472.5,685.20 L473.0,685.20 L473.0,683.53 L473.5,683.53 L473.5,681.71 L474.0,681.71 L474.0,684.83 L474.5,684.83 L474.5,684.11 L475.0,684.11 L475.0,684.01 L475.5,684.01 L475.5,682.38 L476.0,682.38 L476.0,683.82 L476.5,683.82 L476.5,684.62 L477.0,684.62 L477.0,684.65 L477.5,684.65 L477.5,681.97 L478.0,681.97 L478.0,685.20 L478.5,685.20 L478.5,685.20 L479.0,685.20 L479.0,685.20 L479.5,685.20 L479.5,685.20 L480.0,685.20 L480.0,681.68 L480.5,681.68 L480.5,685.20 L481.0,685.20 L481.0,685.20 L481.5,685.20 L481.5,684.05 L482.0,684.05 L482.0,681.68 L482.5,681.68 L482.5,684.01 L483.0,684.01 L483.0,685.20 L483.5,685.20 L483.5,683.02 L484.0,683.02 L484.0,685.20 L484.5,685.20 L484.5,685.02 L485.0,685.02 L485.0,683.58 L485.5,683.58 L485.5,681.68 L486.0,681.68 L486.0,685.08 L486.5,685.08 L486.5,681.68 L487.0,681.68 L487.0,683.18 L487.5,683.18 L487.5,681.68 L488.0,681.68 L488.0,685.20 L488.5,685.20 L488.5,683.72 L489.0,683.72 L489.0,684.87 L489.5,684.87 L489.5,684.29 L490.0,684.29 L490.0,683.95 L490.5,683.95 L490.5,685.20 L491.0,685.20 L491.0,685.20 L491.5,685.20 L491.5,685.20 L492.0,685.20 L492.0,683.20 L492.5,683.20 L492.5,682.73 L493.0,682.73 L493.0,683.67 L493.5,683.67 L493.5,685.20 L494.0,685.20 L494.0,683.74 L494.5,683.74 L494.5,684.78 L495.0,684.78 L495.0,685.20 L495.5,685.20 L495.5,685.20 L496.0,685.20 L496.0,683.18 L496.5,683.18 L496.5,685.20 L497.0,685.20 L497.0,685.20 L497.5,685.20 L497.5,685.20 L498.0,685.20 L498.0,685.20 L498.5,685.20 L498.5,684.13 L499.0,684.13 L499.0,685.20 L499.5,685.20 L499.5,683.49 L500.0,683.49 L500.0,684.00 L500.5,684.00 L500.5,681.91 L501.0,681.91 L501.0,684.53 L501.5,684.53 L501.5,682.83 L502.0,682.83 L502.0,685.20 L502.5,685.20 L502.5,685.20 L503.0,685.20 L503.0,685.20 L503.5,685.20 L503.5,683.89 L504.0,683.89 L504.0,685.20 L504.5,685.20 L504.5,685.20 L505.0,685.20 L505.0,685.20 L505.5,685.20 L505.5,685.20 L506.0,685.20 L506.0,682.95 L506.5,682.95 L506.5,685.20 L507.0,685.20 L507.0,683.71 L507.5,683.71 L507.5,682.71 L508.0,682.71 L508.0,682.80 L508.5,682.80 L508.5,685.20 L509.0,685.20 L509.0,683.85 L509.5,683.85 L509.5,681.84 L510.0,681.84 L510.0,681.68 L510.5,681.68 L510.5,683.02 L511.0,683.02 L511.0,685.20 L511.5,685.20 L511.5,685.20 L512.0,685.20 L512.0,685.20 L512.5,685.20 L512.5,685.20 L513.0,685.20 L513.0,685.20 L513.5,685.20 L513.5,685.20 L514.0,685.20 L514.0,682.81 L514.5,682.81 L514.5,684.41 L515.0,684.41 L515.0,684.72 L515.5,684.72 L515.5,684.17 L516.0,684.17 L516.0,685.20 L516.5,685.20 L516.5,685.20 L517.0,685.20 L517.0,684.67 L517.5,684.67 L517.5,685.20 L518.0,685.20 L518.0,685.20 L518.5,685.20 L518.5,684.32 L519.0,684.32 L519.0,682.71 L519.5,682.71 L519.5,685.20 L520.0,685.20 L520.0,683.92 L520.5,683.92 L520.5,683.43 L521.0,683.43 L521.0,683.54 L521.5,683.54 L521.5,684.67 L522.0,684.67 L522.0,685.20 L522.5,685.20 L522.5,685.20 L523.0,685.20 L523.0,681.68 L523.5,681.68 L523.5,685.20 L524.0,685.20 L524.0,683.63 L524.5,683.63 L524.5,685.20 L525.0,685.20 L525.0,684.32 L525.5,684.32 L525.5,683.01 L526.0,683.01 L526.0,685.20 L526.5,685.20 L526.5,685.20 L527.0,685.20 L527.0,683.87 L527.5,683.87 L527.5,685.20 L528.0,685.20 L528.0,684.56 L528.5,684.56 L528.5,683.70 L529.0,683.70 L529.0,685.20 L529.5,685.20 L529.5,685.20 L530.0,685.20 L530.0,685.20 L530.5,685.20 L530.5,685.20 L531.0,685.20 L531.0,684.69 L531.5,684.69 L531.5,682.55 L532.0,682.55 L532.0,685.20 L532.5,685.20 L532.5,684.56 L533.0,684.56 L533.0,683.78 L533.5,683.78 L533.5,682.53 L534.0,682.53 L534.0,685.06 L534.5,685.06 L534.5,685.20 L535.0,685.20 L535.0,682.11 L535.5,682.11 L535.5,683.98 L536.0,683.98 L536.0,685.20 L536.5,685.20 L536.5,684.73 L537.0,684.73 L537.0,685.20 L537.5,685.20 L537.5,684.62 L538.0,684.62 L538.0,685.20 L538.5,685.20 L538.5,685.20 L539.0,685.20 L539.0,685.20 L539.5,685.20 L539.5,685.20 L540.0,685.20 L540.0,683.55 L540.5,683.55 L540.5,685.04 L541.0,685.04 L541.0,683.70 L541.5,683.70 L541.5,685.20 L542.0,685.20 L542.0,683.88 L542.5,683.88 L542.5,684.99 L543.0,684.99 L543.0,685.20 L543.5,685.20 L543.5,684.17 L544.0,684.17 L544.0,680.36 L544.5,680.36 L544.5,685.20 L545.0,685.20 L545.0,682.40 L545.5,682.40 L545.5,685.20 L546.0,685.20 L546.0,684.08 L546.5,684.08 L546.5,682.64 L547.0,682.64 L547.0,685.20 L547.5,685.20 L547.5,685.20 L548.0,685.20 L548.0,685.20 L548.5,685.20 L548.5,681.68 L549.0,681.68 L549.0,684.59 L549.5,684.59 L549.5,684.26 L550.0,684.26 L550.0,680.36 L550.5,680.36 L550.5,683.56 L551.0,683.56 L551.0,684.50 L551.5,684.50 L551.5,684.52 L552.0,684.52 L552.0,684.48 L552.5,684.48 L552.5,681.89 L553.0,681.89 L553.0,684.54 L553.5,684.54 L553.5,684.95 L554.0,684.95 L554.0,685.20 L554.5,685.20 L554.5,680.36 L555.0,680.36 L555.0,684.35 L555.5,684.35 L555.5,685.20 L556.0,685.20 L556.0,685.20 L556.5,685.20 L556.5,685.20 L557.0,685.20 L557.0,685.20 L557.5,685.20 L557.5,685.20 L558.0,685.20 L558.0,682.89 L558.5,682.89 L558.5,685.20 L559.0,685.20 L559.0,684.51 L559.5,684.51 L559.5,685.20 L560.0,685.20 L560.0,680.36 L560.5,680.36 L560.5,680.36 L561.0,680.36 L561.0,685.20 L561.5,685.20 L561.5,685.20 L562.0,685.20 L562.0,681.58 L562.5,681.58 L562.5,682.83 L563.0,682.83 L563.0,684.69 L563.5,684.69 L563.5,680.56 L564.0,680.56 L564.0,683.64 L564.5,683.64 L564.5,683.88 L565.0,683.88 L565.0,683.96 L565.5,683.96 L565.5,683.76 L566.0,683.76 L566.0,685.2Z" fill="#2fae55"/>
<rect x="262.5" y="473.9" width="14.6" height="220.1" fill="none" stroke="#111" stroke-width="1" stroke-dasharray="3,2"/>
<rect x="337.4" y="482.7" width="17.1" height="206.1" fill="none" stroke="#111" stroke-width="1" stroke-dasharray="3,2"/>
<rect x="373.9" y="482.7" width="17.1" height="206.1" fill="none" stroke="#111" stroke-width="1" stroke-dasharray="3,2"/>
<text x="89.00" y="502.80" font-size="10" fill="#2f55a8" textLength="17.50" lengthAdjust="spacingAndGlyphs" >Veh</text>
<text x="84.60" y="529.80" font-size="10" fill="#e41e26" textLength="25.00" lengthAdjust="spacingAndGlyphs" >Nutlin</text>
<text x="89.90" y="559.60" font-size="10" fill="#2f55a8" textLength="17.50" lengthAdjust="spacingAndGlyphs" >Veh</text>
<text x="83.30" y="612.10" font-size="10" fill="#e41e26" textLength="25.80" lengthAdjust="spacingAndGlyphs" >Nutlin</text>
<text x="113.60" y="550.60" font-size="9" font-weight="bold" fill="#2f55a8" >+</text>
<text x="114.40" y="574.00" font-size="9" font-weight="bold" fill="#2f55a8" >-</text>
<text x="113.60" y="601.00" font-size="9" font-weight="bold" fill="#e41e26" >+</text>
<text x="114.40" y="624.00" font-size="9" font-weight="bold" fill="#e41e26" >-</text>
<text x="79.40" y="650.70" font-size="10" fill="#1fa45a" textLength="26.30" lengthAdjust="spacingAndGlyphs" >MCF7</text>
<text x="76.10" y="681.30" font-size="10" fill="#1fa45a" textLength="32.90" lengthAdjust="spacingAndGlyphs" >ZR75-1</text>
<line x1="74.50" y1="491.50" x2="74.50" y2="533.70" stroke="#111" stroke-width="1" />
<line x1="109.80" y1="536.60" x2="109.80" y2="577.70" stroke="#111" stroke-width="1.2" />
<line x1="74.10" y1="550.80" x2="74.10" y2="612.10" stroke="#111" stroke-width="1" />
<line x1="110.30" y1="588.00" x2="110.30" y2="629.60" stroke="#111" stroke-width="1.2" />
<line x1="72.40" y1="639.30" x2="72.40" y2="681.30" stroke="#111" stroke-width="1" />
<text x="57.60" y="512.60" font-size="10" text-anchor="middle" transform="rotate(-90 57.60 512.60)" >P53</text>
<text x="69.40" y="512.60" font-size="10" text-anchor="middle" transform="rotate(-90 69.40 512.60)" >ChIP-seq</text>
<text x="69.40" y="581.50" font-size="10" text-anchor="middle" transform="rotate(-90 69.40 581.50)" >GRO-seq</text>
<text x="55.60" y="660.30" font-size="10" text-anchor="middle" transform="rotate(-90 55.60 660.30)" >ER</text>
<text x="68.10" y="660.30" font-size="10" text-anchor="middle" transform="rotate(-90 68.10 660.30)" >ChIP-seq</text>
<text x="114.40" y="698.80" font-size="9" textLength="118.80" lengthAdjust="spacingAndGlyphs" >Chr21:43,775,000-43,790,000</text>
<text x="321.80" y="698.20" font-size="9" textLength="123.00" lengthAdjust="spacingAndGlyphs" >Chr5:172,715,000-172,760,000</text>
<text x="199.80" y="734.00" font-size="23" font-weight="bold" >f</text>
<text x="269.90" y="726.90" font-size="11.7" fill="#111" >MCF7 ER ChIP-seq</text>
<text x="396.00" y="725.90" font-size="11.6" fill="#111" textLength="89.40" lengthAdjust="spacingAndGlyphs" >Random Regions</text>
<line x1="270.60" y1="733.40" x2="377.00" y2="733.40" stroke="#777" stroke-width="1" />
<line x1="383.70" y1="733.40" x2="490.00" y2="733.40" stroke="#777" stroke-width="1" />
<rect x="268.00" y="814.80" width="35.00" height="38.33" fill="#f09b9a" />
<rect x="303.00" y="814.80" width="35.00" height="38.33" fill="#f1a2a2" />
<rect x="338.00" y="814.80" width="35.00" height="38.33" fill="#f2aaaa" />
<rect x="373.00" y="814.80" width="35.00" height="38.33" fill="#faf5f5" />
<rect x="408.00" y="814.80" width="35.00" height="38.33" fill="#fbf8f8" />
<rect x="443.00" y="814.80" width="35.00" height="38.33" fill="#fcf9f9" />
<rect x="268.00" y="853.13" width="35.00" height="38.33" fill="#ec3a35" />
<rect x="303.00" y="853.13" width="35.00" height="38.33" fill="#ec6866" />
<rect x="338.00" y="853.13" width="35.00" height="38.33" fill="#ee9090" />
<rect x="373.00" y="853.13" width="35.00" height="38.33" fill="#faf2f2" />
<rect x="408.00" y="853.13" width="35.00" height="38.33" fill="#fbf8f8" />
<rect x="443.00" y="853.13" width="35.00" height="38.33" fill="#fcf8f8" />
<rect x="268.00" y="891.46" width="35.00" height="38.33" fill="#ee9393" />
<rect x="303.00" y="891.46" width="35.00" height="38.33" fill="#ed7675" />
<rect x="338.00" y="891.46" width="35.00" height="38.33" fill="#ed7775" />
<rect x="373.00" y="891.46" width="35.00" height="38.33" fill="#faf3f3" />
<rect x="408.00" y="891.46" width="35.00" height="38.33" fill="#fcf8f8" />
<rect x="443.00" y="891.46" width="35.00" height="38.33" fill="#fcfafa" />
<rect x="268.00" y="929.79" width="35.00" height="38.33" fill="#ec413c" />
<rect x="303.00" y="929.79" width="35.00" height="38.33" fill="#ec4642" />
<rect x="338.00" y="929.79" width="35.00" height="38.33" fill="#ec5d5a" />
<rect x="373.00" y="929.79" width="35.00" height="38.33" fill="#fbf6f6" />
<rect x="408.00" y="929.79" width="35.00" height="38.33" fill="#fbf7f7" />
<rect x="443.00" y="929.79" width="35.00" height="38.33" fill="#fcfafa" />
<line x1="268.00" y1="814.80" x2="268.00" y2="968.12" stroke="#555" stroke-width="0.8" />
<line x1="303.00" y1="814.80" x2="303.00" y2="968.12" stroke="#555" stroke-width="0.8" />
<line x1="338.00" y1="814.80" x2="338.00" y2="968.12" stroke="#555" stroke-width="0.8" />
<line x1="373.00" y1="814.80" x2="373.00" y2="968.12" stroke="#555" stroke-width="0.8" />
<line x1="408.00" y1="814.80" x2="408.00" y2="968.12" stroke="#555" stroke-width="0.8" />
<line x1="443.00" y1="814.80" x2="443.00" y2="968.12" stroke="#555" stroke-width="0.8" />
<line x1="478.00" y1="814.80" x2="478.00" y2="968.12" stroke="#555" stroke-width="0.8" />
<line x1="268.00" y1="814.80" x2="478.00" y2="814.80" stroke="#555" stroke-width="0.8" />
<line x1="268.00" y1="853.13" x2="478.00" y2="853.13" stroke="#555" stroke-width="0.8" />
<line x1="268.00" y1="891.46" x2="478.00" y2="891.46" stroke="#555" stroke-width="0.8" />
<line x1="268.00" y1="929.79" x2="478.00" y2="929.79" stroke="#555" stroke-width="0.8" />
<line x1="268.00" y1="968.12" x2="478.00" y2="968.12" stroke="#555" stroke-width="0.8" />
<rect x="268.0" y="814.8" width="210.0" height="153.32" fill="none" stroke="#333" stroke-width="1"/>
<text x="285.50" y="837.36" font-size="9.8" fill="#111" text-anchor="middle" >16.31</text>
<text x="320.50" y="837.36" font-size="9.8" fill="#111" text-anchor="middle" >15.01</text>
<text x="355.50" y="837.36" font-size="9.8" fill="#111" text-anchor="middle" >13.65</text>
<text x="390.50" y="837.36" font-size="9.8" fill="#111" text-anchor="middle" >1.23</text>
<text x="425.50" y="837.36" font-size="9.8" fill="#111" text-anchor="middle" >0.67</text>
<text x="460.50" y="837.36" font-size="9.8" fill="#111" text-anchor="middle" >0.34</text>
<text x="285.50" y="875.69" font-size="9.8" fill="#111" text-anchor="middle" >37.58</text>
<text x="320.50" y="875.69" font-size="9.8" fill="#111" text-anchor="middle" >27.59</text>
<text x="355.50" y="875.69" font-size="9.8" fill="#111" text-anchor="middle" >18.94</text>
<text x="390.50" y="875.69" font-size="9.8" fill="#111" text-anchor="middle" >1.71</text>
<text x="425.50" y="875.69" font-size="9.8" fill="#111" text-anchor="middle" >0.61</text>
<text x="460.50" y="875.69" font-size="9.8" fill="#111" text-anchor="middle" >0.55</text>
<text x="285.50" y="914.02" font-size="9.8" fill="#111" text-anchor="middle" >18.25</text>
<text x="320.50" y="914.02" font-size="9.8" fill="#111" text-anchor="middle" >24.53</text>
<text x="355.50" y="914.02" font-size="9.8" fill="#111" text-anchor="middle" >24.43</text>
<text x="390.50" y="914.02" font-size="9.8" fill="#111" text-anchor="middle" >1.46</text>
<text x="425.50" y="914.02" font-size="9.8" fill="#111" text-anchor="middle" >0.52</text>
<text x="460.50" y="914.02" font-size="9.8" fill="#111" text-anchor="middle" >0.21</text>
<text x="285.50" y="952.35" font-size="9.8" fill="#111" text-anchor="middle" >36.07</text>
<text x="320.50" y="952.35" font-size="9.8" fill="#111" text-anchor="middle" >34.94</text>
<text x="355.50" y="952.35" font-size="9.8" fill="#111" text-anchor="middle" >30.03</text>
<text x="390.50" y="952.35" font-size="9.8" fill="#111" text-anchor="middle" >0.91</text>
<text x="425.50" y="952.35" font-size="9.8" fill="#111" text-anchor="middle" >0.78</text>
<text x="460.50" y="952.35" font-size="9.8" fill="#111" text-anchor="middle" >0.26</text>
<text x="288.50" y="813.00" font-size="8.4" font-weight="bold" transform="rotate(-90 288.50 813.00)" >GSE32222</text>
<text x="299.30" y="809.50" font-size="8.8" transform="rotate(-90 299.30 809.50)" >(77,867)</text>
<text x="323.50" y="813.00" font-size="8.4" font-weight="bold" transform="rotate(-90 323.50 813.00)" >GSE75779</text>
<text x="334.30" y="809.50" font-size="8.8" transform="rotate(-90 334.30 809.50)" >(44,037)</text>
<text x="358.50" y="813.00" font-size="8.4" font-weight="bold" transform="rotate(-90 358.50 813.00)" >GSE103023</text>
<text x="369.30" y="809.50" font-size="8.8" transform="rotate(-90 369.30 809.50)" >(27,896)</text>
<text x="393.50" y="813.00" font-size="8.4" font-weight="bold" transform="rotate(-90 393.50 813.00)" >Random Regions1</text>
<text x="404.30" y="807.80" font-size="8.8" transform="rotate(-90 404.30 807.80)" >(77,867)</text>
<text x="428.50" y="813.00" font-size="8.4" font-weight="bold" transform="rotate(-90 428.50 813.00)" >Random Regions2</text>
<text x="439.30" y="807.80" font-size="8.8" transform="rotate(-90 439.30 807.80)" >(44,037)</text>
<text x="463.50" y="813.00" font-size="8.4" font-weight="bold" transform="rotate(-90 463.50 813.00)" >Random Regions3</text>
<text x="474.30" y="807.80" font-size="8.8" transform="rotate(-90 474.30 807.80)" >(27,896)</text>
<text x="217.40" y="836.80" font-size="8.4" font-weight="bold" >GSE47041</text>
<text x="232.90" y="848.90" font-size="9.0" >(891)</text>
<text x="215.80" y="874.90" font-size="8.4" font-weight="bold" >GSE109482</text>
<text x="226.90" y="885.40" font-size="9.0" >(1,813)</text>
<text x="219.90" y="913.30" font-size="8.4" font-weight="bold" >GSE86164</text>
<text x="232.50" y="923.60" font-size="9.0" >(959)</text>
<text x="215.80" y="951.50" font-size="8.4" font-weight="bold" >GSE100292</text>
<text x="232.50" y="960.90" font-size="9.0" >(769)</text>
<line x1="211.40" y1="824.30" x2="211.40" y2="970.60" stroke="#555" stroke-width="1" />
<text x="200.00" y="898.40" font-size="11.6" text-anchor="middle" textLength="113.60" lengthAdjust="spacingAndGlyphs" transform="rotate(-90 200.00 898.40)" >MCF7 TP53 ChIP-seq</text>
<text x="308.70" y="982.90" font-size="11.7" textLength="129.60" lengthAdjust="spacingAndGlyphs" >Overlap% of TP53 peaks</text>
<defs><linearGradient id="cb" x1="0" x2="1" y1="0" y2="0"><stop offset="0.000" stop-color="#fdfbfb"/><stop offset="0.030" stop-color="#faf5f5"/><stop offset="0.341" stop-color="#f2aaaa"/><stop offset="0.408" stop-color="#f09b9a"/><stop offset="0.470" stop-color="#ee9191"/><stop offset="0.690" stop-color="#ec6866"/><stop offset="0.940" stop-color="#ec3a35"/><stop offset="1.000" stop-color="#eb2f2a"/></linearGradient></defs>
<rect x="305.2" y="990.4" width="126.1" height="12.8" fill="url(#cb)" stroke="#333" stroke-width="0.8"/>
<text x="305.20" y="1014.20" font-size="7.0" fill="#222" text-anchor="middle" >0</text>
<line x1="336.72" y1="990.40" x2="336.72" y2="992.40" stroke="#333" stroke-width="0.7" />
<line x1="336.72" y1="1001.20" x2="336.72" y2="1003.20" stroke="#333" stroke-width="0.7" />
<text x="336.72" y="1014.20" font-size="7.0" fill="#222" text-anchor="middle" >10</text>
<line x1="368.25" y1="990.40" x2="368.25" y2="992.40" stroke="#333" stroke-width="0.7" />
<line x1="368.25" y1="1001.20" x2="368.25" y2="1003.20" stroke="#333" stroke-width="0.7" />
<text x="368.25" y="1014.20" font-size="7.0" fill="#222" text-anchor="middle" >20</text>
<line x1="399.77" y1="990.40" x2="399.77" y2="992.40" stroke="#333" stroke-width="0.7" />
<line x1="399.77" y1="1001.20" x2="399.77" y2="1003.20" stroke="#333" stroke-width="0.7" />
<text x="399.77" y="1014.20" font-size="7.0" fill="#222" text-anchor="middle" >30</text>
<text x="431.30" y="1014.20" font-size="7.0" fill="#222" text-anchor="middle" >40</text>
</svg>
</body></html>
